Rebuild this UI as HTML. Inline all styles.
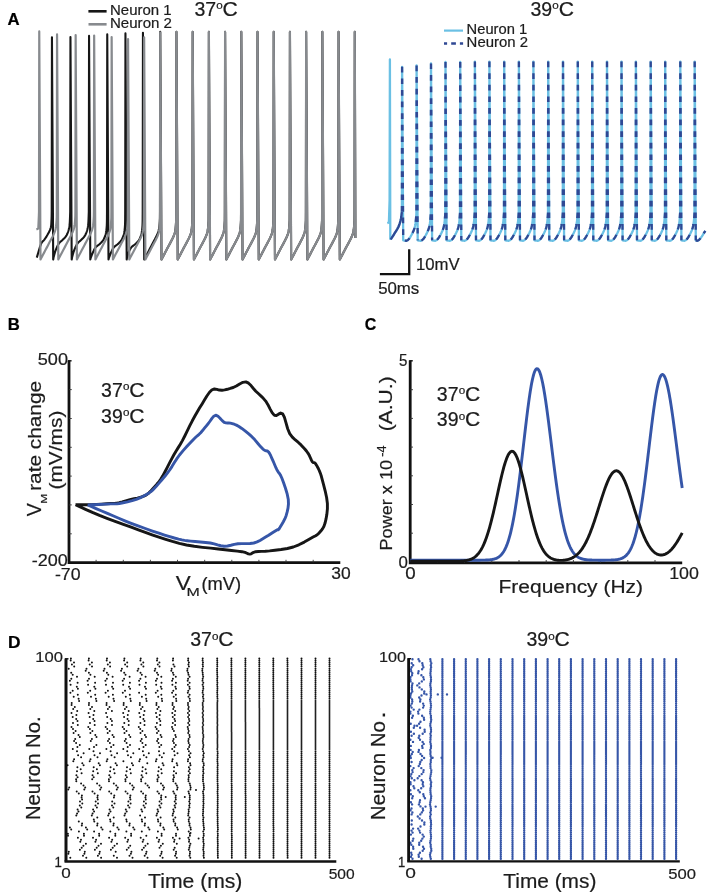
<!DOCTYPE html><html><head><meta charset="utf-8"><style>html,body{margin:0;padding:0;background:#fff;}svg{display:block;will-change:transform;}text{font-family:"Liberation Sans",sans-serif;}</style></head><body><svg width="708" height="894" viewBox="0 0 708 894" font-family="Liberation Sans, sans-serif"><rect width="708" height="894" fill="#fff"/><text transform="translate(7.55,24.50) scale(1.0464,1)" font-size="16" font-weight="bold" fill="#000" stroke="#000" stroke-width="0.210">A</text><text transform="translate(7.73,329.80) scale(1.0451,1)" font-size="16" font-weight="bold" fill="#000" stroke="#000" stroke-width="0.211">B</text><text transform="translate(364.76,329.60) scale(1.0000,1)" font-size="16" font-weight="bold" fill="#000" stroke="#000" stroke-width="0.220">C</text><text transform="translate(7.88,647.80) scale(1.0861,1)" font-size="16" font-weight="bold" fill="#000" stroke="#000" stroke-width="0.203">D</text><text transform="translate(194.42,15.70) scale(1.0005,1)" font-size="19.5" font-weight="normal" fill="#1c1c1c" stroke="#1c1c1c" stroke-width="0.220">37</text><text transform="translate(216.23,9.00) scale(1.1145,1)" font-size="10.5" font-weight="normal" fill="#1c1c1c" stroke="#1c1c1c" stroke-width="0.197">o</text><text transform="translate(222.54,15.70) scale(1.0826,1)" font-size="19.5" font-weight="normal" fill="#1c1c1c" stroke="#1c1c1c" stroke-width="0.203">C</text><line x1="88.4" y1="11.3" x2="106.6" y2="11.3" stroke="#161616" stroke-width="2.6"/><line x1="88.5" y1="24.3" x2="106.6" y2="24.3" stroke="#878a8e" stroke-width="2.6"/><text transform="translate(110.00,14.90) scale(1.0696,1)" font-size="14" font-weight="normal" fill="#1c1c1c" stroke="#1c1c1c" stroke-width="0.206">Neuron 1</text><text transform="translate(109.99,28.30) scale(1.0768,1)" font-size="14" font-weight="normal" fill="#1c1c1c" stroke="#1c1c1c" stroke-width="0.204">Neuron 2</text><path d="M36.80 257.60 L37.38 255.60 L38.22 252.70 L39.18 249.43 L40.14 246.35 L41.00 244.00 L41.72 242.56 L42.40 241.65 L43.05 241.03 L43.71 240.44 L44.40 239.60 L45.15 238.50 L45.95 237.31 L46.75 236.07 L47.51 234.82 L48.20 233.60 L48.83 232.44 L49.42 231.32 L49.95 230.18 L50.42 228.99 L50.80 227.70 L51.07 226.28 L51.24 224.76 L51.35 223.19 L51.42 221.59 L51.50 220.00 L51.58 218.29 L51.63 216.44 L51.66 214.64 L51.68 213.09 L51.70 212.00 L51.95 37.30 L53.20 259.50 L53.48 257.82 L53.86 256.28 L54.33 254.50 L54.85 252.67 L55.40 251.00 L56.00 249.42 L56.67 247.81 L57.38 246.24 L58.10 244.81 L58.80 243.60 L59.47 242.69 L60.14 242.02 L60.81 241.48 L61.49 240.95 L62.20 240.30 L62.96 239.56 L63.75 238.79 L64.55 237.99 L65.32 237.14 L66.00 236.20 L66.60 235.18 L67.16 234.10 L67.66 232.95 L68.10 231.75 L68.50 230.50 L68.83 229.26 L69.11 228.01 L69.33 226.69 L69.53 225.21 L69.70 223.50 L69.85 221.30 L69.97 218.67 L70.07 215.99 L70.14 213.64 L70.20 212.00 L70.45 37.00 L71.70 259.50 L71.98 257.82 L72.36 256.28 L72.82 254.50 L73.34 252.67 L73.90 251.00 L74.52 249.42 L75.21 247.81 L75.94 246.24 L76.69 244.81 L77.40 243.60 L78.08 242.69 L78.75 242.02 L79.42 241.48 L80.10 240.95 L80.80 240.30 L81.56 239.56 L82.35 238.79 L83.15 237.99 L83.92 237.14 L84.60 236.20 L85.20 235.18 L85.76 234.10 L86.26 232.95 L86.70 231.75 L87.10 230.50 L87.43 229.26 L87.71 228.01 L87.93 226.69 L88.13 225.21 L88.30 223.50 L88.45 221.30 L88.57 218.67 L88.67 215.99 L88.74 213.64 L88.80 212.00 L89.05 35.90 L90.30 259.50 L90.68 257.93 L91.22 256.54 L91.85 254.95 L92.50 253.36 L93.10 252.00 L93.64 250.87 L94.15 249.83 L94.67 248.86 L95.24 247.96 L95.90 247.10 L96.68 246.32 L97.55 245.64 L98.47 244.99 L99.37 244.33 L100.20 243.60 L100.97 242.81 L101.72 242.00 L102.44 241.15 L103.10 240.26 L103.70 239.30 L104.23 238.31 L104.69 237.29 L105.11 236.21 L105.47 235.03 L105.80 233.70 L106.08 232.26 L106.32 230.73 L106.51 229.08 L106.67 227.25 L106.80 225.20 L106.89 222.65 L106.95 219.62 L106.97 216.56 L106.99 213.87 L107.00 212.00 L107.25 34.40 L108.50 259.50 L108.88 257.93 L109.42 256.54 L110.05 254.95 L110.70 253.36 L111.30 252.00 L111.84 250.87 L112.35 249.83 L112.87 248.86 L113.44 247.96 L114.10 247.10 L114.88 246.32 L115.75 245.64 L116.67 244.99 L117.57 244.33 L118.40 243.60 L119.17 242.81 L119.92 242.00 L120.64 241.15 L121.30 240.26 L121.90 239.30 L122.43 238.31 L122.89 237.29 L123.31 236.21 L123.67 235.03 L124.00 233.70 L124.28 232.26 L124.52 230.73 L124.71 229.08 L124.87 227.25 L125.00 225.20 L125.09 222.65 L125.15 219.62 L125.17 216.56 L125.19 213.87 L125.20 212.00 L125.45 33.40 L126.70 259.50 L126.97 257.93 L127.36 256.54 L127.81 254.95 L128.30 253.36 L128.80 252.00 L129.29 250.87 L129.80 249.83 L130.34 248.86 L130.93 247.96 L131.60 247.10 L132.38 246.32 L133.25 245.64 L134.17 244.99 L135.07 244.33 L135.90 243.60 L136.67 242.81 L137.42 242.00 L138.14 241.15 L138.80 240.26 L139.40 239.30 L139.93 238.31 L140.39 237.29 L140.81 236.21 L141.17 235.03 L141.50 233.70 L141.78 232.26 L142.02 230.73 L142.21 229.08 L142.37 227.25 L142.50 225.20 L142.59 222.65 L142.65 219.62 L142.67 216.56 L142.69 213.87 L142.70 212.00 L142.95 32.70 L144.20 259.50 L144.78 258.40 L145.60 256.84 L146.56 255.02 L147.55 253.14 L148.47 251.39 L149.33 249.75 L150.21 248.09 L151.08 246.44 L151.93 244.82 L152.74 243.27 L153.53 241.79 L154.32 240.34 L155.07 238.95 L155.77 237.61 L156.40 236.32 L156.95 235.11 L157.45 233.99 L157.88 232.90 L158.27 231.82 L158.60 230.72 L158.87 229.62 L159.07 228.54 L159.23 227.45 L159.37 226.29 L159.50 225.02 L159.63 223.48 L159.75 221.71 L159.86 219.94 L159.94 218.40 L160.00 212.00 L160.25 31.90 L161.50 259.50 L162.03 258.50 L162.78 257.08 L163.65 255.42 L164.55 253.71 L165.39 252.11 L166.18 250.62 L166.97 249.11 L167.76 247.60 L168.53 246.13 L169.28 244.72 L170.00 243.38 L170.70 242.08 L171.39 240.82 L172.02 239.59 L172.61 238.39 L173.14 237.23 L173.63 236.10 L174.08 235.00 L174.47 233.91 L174.81 232.79 L175.08 231.69 L175.28 230.61 L175.44 229.52 L175.58 228.36 L175.71 227.09 L175.84 225.56 L175.96 223.79 L176.07 222.01 L176.15 220.47 L176.21 212.00 L176.46 31.90 L177.71 259.50 L178.24 258.50 L178.99 257.08 L179.86 255.42 L180.76 253.71 L181.60 252.11 L182.39 250.62 L183.18 249.11 L183.97 247.60 L184.74 246.13 L185.49 244.72 L186.21 243.38 L186.91 242.08 L187.60 240.82 L188.23 239.59 L188.82 238.39 L189.35 237.23 L189.84 236.10 L190.29 235.00 L190.68 233.91 L191.02 232.79 L191.29 231.69 L191.49 230.61 L191.65 229.52 L191.79 228.36 L191.92 227.09 L192.05 225.56 L192.17 223.79 L192.28 222.01 L192.36 220.47 L192.42 212.00 L192.67 31.90 L193.92 259.50 L194.45 258.50 L195.20 257.08 L196.07 255.42 L196.97 253.71 L197.81 252.11 L198.60 250.62 L199.39 249.11 L200.18 247.60 L200.95 246.13 L201.70 244.72 L202.42 243.38 L203.12 242.08 L203.81 240.82 L204.44 239.59 L205.03 238.39 L205.56 237.23 L206.05 236.10 L206.50 235.00 L206.89 233.91 L207.23 232.79 L207.50 231.69 L207.70 230.61 L207.86 229.52 L208.00 228.36 L208.13 227.09 L208.26 225.56 L208.38 223.79 L208.49 222.01 L208.57 220.47 L208.63 212.00 L208.88 31.90 L210.13 259.50 L210.66 258.50 L211.41 257.08 L212.28 255.42 L213.18 253.71 L214.02 252.11 L214.81 250.62 L215.60 249.11 L216.39 247.60 L217.16 246.13 L217.91 244.72 L218.63 243.38 L219.33 242.08 L220.02 240.82 L220.65 239.59 L221.24 238.39 L221.77 237.23 L222.26 236.10 L222.71 235.00 L223.10 233.91 L223.44 232.79 L223.71 231.69 L223.91 230.61 L224.07 229.52 L224.21 228.36 L224.34 227.09 L224.47 225.56 L224.59 223.79 L224.70 222.01 L224.78 220.47 L224.84 212.00 L225.09 31.90 L226.34 259.50 L226.87 258.50 L227.62 257.08 L228.49 255.42 L229.39 253.71 L230.23 252.11 L231.02 250.62 L231.81 249.11 L232.60 247.60 L233.37 246.13 L234.12 244.72 L234.84 243.38 L235.54 242.08 L236.23 240.82 L236.86 239.59 L237.45 238.39 L237.98 237.23 L238.47 236.10 L238.92 235.00 L239.31 233.91 L239.65 232.79 L239.92 231.69 L240.12 230.61 L240.28 229.52 L240.42 228.36 L240.55 227.09 L240.68 225.56 L240.80 223.79 L240.91 222.01 L240.99 220.47 L241.05 212.00 L241.30 31.90 L242.55 259.50 L243.08 258.50 L243.83 257.08 L244.70 255.42 L245.60 253.71 L246.44 252.11 L247.23 250.62 L248.02 249.11 L248.81 247.60 L249.58 246.13 L250.33 244.72 L251.05 243.38 L251.75 242.08 L252.44 240.82 L253.07 239.59 L253.66 238.39 L254.19 237.23 L254.68 236.10 L255.13 235.00 L255.52 233.91 L255.86 232.79 L256.13 231.69 L256.33 230.61 L256.49 229.52 L256.63 228.36 L256.76 227.09 L256.89 225.56 L257.01 223.79 L257.12 222.01 L257.20 220.47 L257.26 212.00 L257.51 31.90 L258.76 259.50 L259.29 258.50 L260.04 257.08 L260.91 255.42 L261.81 253.71 L262.65 252.11 L263.44 250.62 L264.23 249.11 L265.02 247.60 L265.79 246.13 L266.54 244.72 L267.26 243.38 L267.96 242.08 L268.65 240.82 L269.28 239.59 L269.87 238.39 L270.40 237.23 L270.89 236.10 L271.34 235.00 L271.73 233.91 L272.07 232.79 L272.34 231.69 L272.54 230.61 L272.70 229.52 L272.84 228.36 L272.97 227.09 L273.10 225.56 L273.22 223.79 L273.33 222.01 L273.41 220.47 L273.47 212.00 L273.72 31.90 L274.97 259.50 L275.50 258.50 L276.25 257.08 L277.12 255.42 L278.02 253.71 L278.86 252.11 L279.65 250.62 L280.44 249.11 L281.23 247.60 L282.00 246.13 L282.75 244.72 L283.47 243.38 L284.17 242.08 L284.86 240.82 L285.49 239.59 L286.08 238.39 L286.61 237.23 L287.10 236.10 L287.55 235.00 L287.94 233.91 L288.28 232.79 L288.55 231.69 L288.75 230.61 L288.91 229.52 L289.05 228.36 L289.18 227.09 L289.31 225.56 L289.43 223.79 L289.54 222.01 L289.62 220.47 L289.68 212.00 L289.93 31.90 L291.18 259.50 L291.71 258.50 L292.46 257.08 L293.33 255.42 L294.23 253.71 L295.07 252.11 L295.86 250.62 L296.65 249.11 L297.44 247.60 L298.21 246.13 L298.96 244.72 L299.68 243.38 L300.38 242.08 L301.07 240.82 L301.70 239.59 L302.29 238.39 L302.82 237.23 L303.31 236.10 L303.76 235.00 L304.15 233.91 L304.49 232.79 L304.76 231.69 L304.96 230.61 L305.12 229.52 L305.26 228.36 L305.39 227.09 L305.52 225.56 L305.64 223.79 L305.75 222.01 L305.83 220.47 L305.89 212.00 L306.14 31.90 L307.39 259.50 L307.92 258.50 L308.67 257.08 L309.54 255.42 L310.44 253.71 L311.28 252.11 L312.07 250.62 L312.86 249.11 L313.65 247.60 L314.42 246.13 L315.17 244.72 L315.89 243.38 L316.59 242.08 L317.28 240.82 L317.91 239.59 L318.50 238.39 L319.03 237.23 L319.52 236.10 L319.97 235.00 L320.36 233.91 L320.70 232.79 L320.97 231.69 L321.17 230.61 L321.33 229.52 L321.47 228.36 L321.60 227.09 L321.73 225.56 L321.85 223.79 L321.96 222.01 L322.04 220.47 L322.10 212.00 L322.35 31.90 L323.60 259.50 L324.13 258.50 L324.88 257.08 L325.75 255.42 L326.65 253.71 L327.49 252.11 L328.28 250.62 L329.07 249.11 L329.86 247.60 L330.63 246.13 L331.38 244.72 L332.10 243.38 L332.80 242.08 L333.49 240.82 L334.12 239.59 L334.71 238.39 L335.24 237.23 L335.73 236.10 L336.18 235.00 L336.57 233.91 L336.91 232.79 L337.18 231.69 L337.38 230.61 L337.54 229.52 L337.68 228.36 L337.81 227.09 L337.94 225.56 L338.06 223.79 L338.17 222.01 L338.25 220.47 L338.31 212.00 L338.56 31.90 L339.81 259.50 L340.34 258.50 L341.09 257.08 L341.96 255.42 L342.86 253.71 L343.70 252.11 L344.49 250.62 L345.28 249.11 L346.07 247.60 L346.84 246.13 L347.59 244.72 L348.31 243.38 L349.01 242.08 L349.70 240.82 L350.33 239.59 L350.92 238.39 L351.45 237.23 L351.94 236.10 L352.39 235.00 L352.78 233.91 L353.12 232.79 L353.39 231.69 L353.59 230.61 L353.75 229.52 L353.89 228.36 L354.02 227.09 L354.15 225.56 L354.27 223.79 L354.38 222.01 L354.46 220.47 L354.52 212.00 L354.77 31.90 L355.42 238.00" fill="none" stroke="#161616" stroke-width="2.1" stroke-linejoin="round"/><path d="M36.40 229.40 L38.30 228.60 L38.90 215.00 L39.00 212.00 L39.25 31.40 L40.50 259.50 L41.10 258.35 L41.96 256.73 L42.95 254.84 L43.98 252.88 L44.94 251.05 L45.84 249.35 L46.75 247.62 L47.66 245.90 L48.54 244.22 L49.39 242.61 L50.22 241.06 L51.04 239.55 L51.82 238.09 L52.55 236.69 L53.20 235.37 L53.76 234.15 L54.26 233.02 L54.69 231.94 L55.07 230.87 L55.40 229.77 L55.67 228.67 L55.87 227.59 L56.03 226.50 L56.17 225.34 L56.30 224.07 L56.43 222.53 L56.55 220.76 L56.66 218.99 L56.74 217.45 L56.80 212.00 L57.05 34.40 L58.30 259.50 L58.94 258.28 L59.85 256.56 L60.91 254.54 L62.00 252.46 L63.02 250.52 L63.98 248.71 L64.95 246.87 L65.91 245.04 L66.85 243.26 L67.75 241.54 L68.63 239.89 L69.51 238.27 L70.35 236.72 L71.12 235.23 L71.80 233.85 L72.38 232.60 L72.88 231.46 L73.30 230.40 L73.67 229.34 L74.00 228.25 L74.27 227.15 L74.47 226.07 L74.63 224.98 L74.77 223.82 L74.90 222.55 L75.03 221.01 L75.15 219.24 L75.26 217.47 L75.34 215.93 L75.40 212.00 L75.65 35.10 L76.90 259.50 L77.54 258.29 L78.44 256.58 L79.49 254.58 L80.58 252.51 L81.59 250.59 L82.54 248.79 L83.50 246.96 L84.45 245.15 L85.38 243.38 L86.28 241.68 L87.16 240.04 L88.02 238.43 L88.86 236.89 L89.62 235.42 L90.30 234.04 L90.88 232.79 L91.37 231.66 L91.80 230.59 L92.17 229.53 L92.50 228.44 L92.77 227.34 L92.97 226.26 L93.13 225.17 L93.27 224.01 L93.40 222.74 L93.53 221.20 L93.65 219.43 L93.76 217.66 L93.84 216.12 L93.90 212.00 L94.15 35.60 L95.40 259.50 L95.99 258.38 L96.82 256.80 L97.80 254.95 L98.80 253.04 L99.74 251.25 L100.62 249.59 L101.51 247.90 L102.39 246.22 L103.25 244.58 L104.08 243.01 L104.89 241.50 L105.69 240.03 L106.45 238.60 L107.16 237.24 L107.80 235.94 L108.36 234.73 L108.85 233.60 L109.29 232.52 L109.67 231.44 L110.00 230.34 L110.27 229.24 L110.47 228.16 L110.63 227.07 L110.77 225.91 L110.90 224.64 L111.03 223.10 L111.15 221.33 L111.26 219.56 L111.34 218.02 L111.40 212.00 L111.65 37.00 L112.90 259.50 L113.44 258.48 L114.20 257.04 L115.08 255.35 L116.00 253.61 L116.86 251.99 L117.66 250.47 L118.46 248.93 L119.27 247.40 L120.06 245.91 L120.81 244.47 L121.54 243.10 L122.26 241.78 L122.96 240.49 L123.61 239.25 L124.20 238.03 L124.74 236.86 L125.23 235.73 L125.67 234.64 L126.06 233.54 L126.40 232.43 L126.67 231.33 L126.87 230.25 L127.03 229.16 L127.17 228.00 L127.30 226.73 L127.43 225.19 L127.55 223.42 L127.66 221.65 L127.74 220.11 L127.80 212.00 L128.05 39.00 L129.30 259.50 L129.82 258.51 L130.56 257.10 L131.43 255.46 L132.32 253.77 L133.15 252.18 L133.93 250.71 L134.72 249.21 L135.50 247.72 L136.27 246.27 L137.00 244.87 L137.71 243.54 L138.41 242.25 L139.09 241.01 L139.72 239.79 L140.30 238.60 L140.83 237.44 L141.32 236.32 L141.77 235.22 L142.16 234.12 L142.50 233.00 L142.77 231.90 L142.97 230.82 L143.13 229.73 L143.27 228.57 L143.40 227.30 L143.53 225.76 L143.65 223.99 L143.76 222.22 L143.84 220.68 L143.90 212.00 L144.15 37.30 L145.40 259.50 L145.92 258.51 L146.66 257.10 L147.53 255.46 L148.42 253.77 L149.25 252.18 L150.03 250.71 L150.82 249.21 L151.60 247.72 L152.37 246.27 L153.10 244.87 L153.81 243.54 L154.51 242.25 L155.19 241.01 L155.82 239.79 L156.40 238.60 L156.93 237.44 L157.42 236.32 L157.87 235.22 L158.26 234.12 L158.60 233.00 L158.87 231.90 L159.07 230.82 L159.23 229.73 L159.37 228.57 L159.50 227.30 L159.63 225.76 L159.75 223.99 L159.86 222.22 L159.94 220.68 L160.00 212.00 L160.25 32.50 L161.50 259.50 L162.03 258.50 L162.78 257.08 L163.65 255.42 L164.55 253.71 L165.39 252.11 L166.18 250.62 L166.97 249.11 L167.76 247.60 L168.53 246.13 L169.28 244.72 L170.00 243.38 L170.70 242.08 L171.39 240.82 L172.02 239.59 L172.61 238.39 L173.14 237.23 L173.63 236.10 L174.08 235.00 L174.47 233.91 L174.81 232.79 L175.08 231.69 L175.28 230.61 L175.44 229.52 L175.58 228.36 L175.71 227.09 L175.84 225.56 L175.96 223.79 L176.07 222.01 L176.15 220.47 L176.21 212.00 L176.46 31.90 L177.71 259.50 L178.24 258.50 L178.99 257.08 L179.86 255.42 L180.76 253.71 L181.60 252.11 L182.39 250.62 L183.18 249.11 L183.97 247.60 L184.74 246.13 L185.49 244.72 L186.21 243.38 L186.91 242.08 L187.60 240.82 L188.23 239.59 L188.82 238.39 L189.35 237.23 L189.84 236.10 L190.29 235.00 L190.68 233.91 L191.02 232.79 L191.29 231.69 L191.49 230.61 L191.65 229.52 L191.79 228.36 L191.92 227.09 L192.05 225.56 L192.17 223.79 L192.28 222.01 L192.36 220.47 L192.42 212.00 L192.67 31.90 L193.92 259.50 L194.45 258.50 L195.20 257.08 L196.07 255.42 L196.97 253.71 L197.81 252.11 L198.60 250.62 L199.39 249.11 L200.18 247.60 L200.95 246.13 L201.70 244.72 L202.42 243.38 L203.12 242.08 L203.81 240.82 L204.44 239.59 L205.03 238.39 L205.56 237.23 L206.05 236.10 L206.50 235.00 L206.89 233.91 L207.23 232.79 L207.50 231.69 L207.70 230.61 L207.86 229.52 L208.00 228.36 L208.13 227.09 L208.26 225.56 L208.38 223.79 L208.49 222.01 L208.57 220.47 L208.63 212.00 L208.88 31.90 L210.13 259.50 L210.66 258.50 L211.41 257.08 L212.28 255.42 L213.18 253.71 L214.02 252.11 L214.81 250.62 L215.60 249.11 L216.39 247.60 L217.16 246.13 L217.91 244.72 L218.63 243.38 L219.33 242.08 L220.02 240.82 L220.65 239.59 L221.24 238.39 L221.77 237.23 L222.26 236.10 L222.71 235.00 L223.10 233.91 L223.44 232.79 L223.71 231.69 L223.91 230.61 L224.07 229.52 L224.21 228.36 L224.34 227.09 L224.47 225.56 L224.59 223.79 L224.70 222.01 L224.78 220.47 L224.84 212.00 L225.09 31.90 L226.34 259.50 L226.87 258.50 L227.62 257.08 L228.49 255.42 L229.39 253.71 L230.23 252.11 L231.02 250.62 L231.81 249.11 L232.60 247.60 L233.37 246.13 L234.12 244.72 L234.84 243.38 L235.54 242.08 L236.23 240.82 L236.86 239.59 L237.45 238.39 L237.98 237.23 L238.47 236.10 L238.92 235.00 L239.31 233.91 L239.65 232.79 L239.92 231.69 L240.12 230.61 L240.28 229.52 L240.42 228.36 L240.55 227.09 L240.68 225.56 L240.80 223.79 L240.91 222.01 L240.99 220.47 L241.05 212.00 L241.30 31.90 L242.55 259.50 L243.08 258.50 L243.83 257.08 L244.70 255.42 L245.60 253.71 L246.44 252.11 L247.23 250.62 L248.02 249.11 L248.81 247.60 L249.58 246.13 L250.33 244.72 L251.05 243.38 L251.75 242.08 L252.44 240.82 L253.07 239.59 L253.66 238.39 L254.19 237.23 L254.68 236.10 L255.13 235.00 L255.52 233.91 L255.86 232.79 L256.13 231.69 L256.33 230.61 L256.49 229.52 L256.63 228.36 L256.76 227.09 L256.89 225.56 L257.01 223.79 L257.12 222.01 L257.20 220.47 L257.26 212.00 L257.51 31.90 L258.76 259.50 L259.29 258.50 L260.04 257.08 L260.91 255.42 L261.81 253.71 L262.65 252.11 L263.44 250.62 L264.23 249.11 L265.02 247.60 L265.79 246.13 L266.54 244.72 L267.26 243.38 L267.96 242.08 L268.65 240.82 L269.28 239.59 L269.87 238.39 L270.40 237.23 L270.89 236.10 L271.34 235.00 L271.73 233.91 L272.07 232.79 L272.34 231.69 L272.54 230.61 L272.70 229.52 L272.84 228.36 L272.97 227.09 L273.10 225.56 L273.22 223.79 L273.33 222.01 L273.41 220.47 L273.47 212.00 L273.72 31.90 L274.97 259.50 L275.50 258.50 L276.25 257.08 L277.12 255.42 L278.02 253.71 L278.86 252.11 L279.65 250.62 L280.44 249.11 L281.23 247.60 L282.00 246.13 L282.75 244.72 L283.47 243.38 L284.17 242.08 L284.86 240.82 L285.49 239.59 L286.08 238.39 L286.61 237.23 L287.10 236.10 L287.55 235.00 L287.94 233.91 L288.28 232.79 L288.55 231.69 L288.75 230.61 L288.91 229.52 L289.05 228.36 L289.18 227.09 L289.31 225.56 L289.43 223.79 L289.54 222.01 L289.62 220.47 L289.68 212.00 L289.93 31.90 L291.18 259.50 L291.71 258.50 L292.46 257.08 L293.33 255.42 L294.23 253.71 L295.07 252.11 L295.86 250.62 L296.65 249.11 L297.44 247.60 L298.21 246.13 L298.96 244.72 L299.68 243.38 L300.38 242.08 L301.07 240.82 L301.70 239.59 L302.29 238.39 L302.82 237.23 L303.31 236.10 L303.76 235.00 L304.15 233.91 L304.49 232.79 L304.76 231.69 L304.96 230.61 L305.12 229.52 L305.26 228.36 L305.39 227.09 L305.52 225.56 L305.64 223.79 L305.75 222.01 L305.83 220.47 L305.89 212.00 L306.14 31.90 L307.39 259.50 L307.92 258.50 L308.67 257.08 L309.54 255.42 L310.44 253.71 L311.28 252.11 L312.07 250.62 L312.86 249.11 L313.65 247.60 L314.42 246.13 L315.17 244.72 L315.89 243.38 L316.59 242.08 L317.28 240.82 L317.91 239.59 L318.50 238.39 L319.03 237.23 L319.52 236.10 L319.97 235.00 L320.36 233.91 L320.70 232.79 L320.97 231.69 L321.17 230.61 L321.33 229.52 L321.47 228.36 L321.60 227.09 L321.73 225.56 L321.85 223.79 L321.96 222.01 L322.04 220.47 L322.10 212.00 L322.35 31.90 L323.60 259.50 L324.13 258.50 L324.88 257.08 L325.75 255.42 L326.65 253.71 L327.49 252.11 L328.28 250.62 L329.07 249.11 L329.86 247.60 L330.63 246.13 L331.38 244.72 L332.10 243.38 L332.80 242.08 L333.49 240.82 L334.12 239.59 L334.71 238.39 L335.24 237.23 L335.73 236.10 L336.18 235.00 L336.57 233.91 L336.91 232.79 L337.18 231.69 L337.38 230.61 L337.54 229.52 L337.68 228.36 L337.81 227.09 L337.94 225.56 L338.06 223.79 L338.17 222.01 L338.25 220.47 L338.31 212.00 L338.56 31.90 L339.81 259.50 L340.34 258.50 L341.09 257.08 L341.96 255.42 L342.86 253.71 L343.70 252.11 L344.49 250.62 L345.28 249.11 L346.07 247.60 L346.84 246.13 L347.59 244.72 L348.31 243.38 L349.01 242.08 L349.70 240.82 L350.33 239.59 L350.92 238.39 L351.45 237.23 L351.94 236.10 L352.39 235.00 L352.78 233.91 L353.12 232.79 L353.39 231.69 L353.59 230.61 L353.75 229.52 L353.89 228.36 L354.02 227.09 L354.15 225.56 L354.27 223.79 L354.38 222.01 L354.46 220.47 L354.52 212.00 L354.77 31.90 L355.42 238.00" fill="none" stroke="#878a8e" stroke-width="2.2" stroke-linejoin="round"/><text transform="translate(530.52,15.60) scale(1.0005,1)" font-size="19.5" font-weight="normal" fill="#1c1c1c" stroke="#1c1c1c" stroke-width="0.220">39</text><text transform="translate(552.33,8.90) scale(1.1145,1)" font-size="10.5" font-weight="normal" fill="#1c1c1c" stroke="#1c1c1c" stroke-width="0.197">o</text><text transform="translate(558.64,15.60) scale(1.0826,1)" font-size="19.5" font-weight="normal" fill="#1c1c1c" stroke="#1c1c1c" stroke-width="0.203">C</text><line x1="444.0" y1="30.6" x2="463.0" y2="30.6" stroke="#6bc0e4" stroke-width="2.2"/><path d="M444.0 43.5H447.1M451.2 43.5H455.9M459.9 43.5H463.1" stroke="#2f4894" stroke-width="2.4"/><text transform="translate(466.62,33.50) scale(1.0517,1)" font-size="14" font-weight="normal" fill="#1c1c1c" stroke="#1c1c1c" stroke-width="0.209">Neuron 1</text><text transform="translate(466.61,47.20) scale(1.0660,1)" font-size="14" font-weight="normal" fill="#1c1c1c" stroke="#1c1c1c" stroke-width="0.206">Neuron 2</text><path d="M387.30 223.10 L388.90 222.50 L389.60 200.00 L389.90 59.50 L390.30 238.90 L391.25 238.65 L392.02 237.45 L392.92 236.05 L393.84 234.59 L394.70 233.20 L395.51 231.90 L396.34 230.58 L397.16 229.25 L397.92 227.89 L398.60 226.50 L399.19 225.04 L399.71 223.50 L400.16 221.96 L400.56 220.48 L400.90 219.10 L401.17 217.80 L401.36 216.53 L401.50 215.36 L401.60 214.33 L401.70 213.50 L401.78 212.91 L401.83 212.53 L401.86 212.30 L401.88 212.14 L401.90 212.00 L402.10 66.80 L403.20 240.30 L403.70 240.39 L404.40 240.56 L405.22 240.70 L406.05 240.75 L406.80 240.60 L407.45 240.26 L408.06 239.80 L408.66 239.20 L409.27 238.46 L409.90 237.60 L410.59 236.54 L411.32 235.27 L412.05 233.91 L412.72 232.55 L413.30 231.30 L413.76 230.19 L414.14 229.14 L414.46 228.12 L414.74 227.09 L415.00 226.00 L415.24 224.86 L415.44 223.70 L415.61 222.51 L415.76 221.28 L415.90 220.00 L416.03 218.55 L416.15 216.94 L416.26 215.34 L416.34 213.97 L416.40 213.00 L416.60 65.50 L417.70 240.30 L418.18 240.39 L418.87 240.56 L419.66 240.70 L420.47 240.75 L421.20 240.60 L421.84 240.26 L422.45 239.80 L423.06 239.20 L423.67 238.46 L424.30 237.60 L424.99 236.54 L425.72 235.27 L426.45 233.91 L427.12 232.55 L427.70 231.30 L428.16 230.19 L428.54 229.14 L428.86 228.12 L429.14 227.09 L429.40 226.00 L429.64 224.86 L429.84 223.70 L430.01 222.51 L430.16 221.28 L430.30 220.00 L430.43 218.55 L430.55 216.94 L430.66 215.34 L430.74 213.97 L430.80 213.00 L431.00 63.40 L432.10 240.30 L432.60 240.39 L433.30 240.56 L434.12 240.70 L434.95 240.75 L435.70 240.60 L436.35 240.26 L436.96 239.80 L437.56 239.20 L438.17 238.46 L438.80 237.60 L439.49 236.54 L440.22 235.27 L440.95 233.91 L441.62 232.55 L442.20 231.30 L442.66 230.19 L443.04 229.14 L443.36 228.12 L443.64 227.09 L443.90 226.00 L444.14 224.86 L444.34 223.70 L444.51 222.51 L444.66 221.28 L444.80 220.00 L444.93 218.55 L445.05 216.94 L445.16 215.34 L445.24 213.97 L445.30 213.00 L445.50 62.00 L446.60 240.30 L447.13 240.39 L447.88 240.56 L448.75 240.70 L449.62 240.75 L450.40 240.60 L451.06 240.26 L451.68 239.80 L452.27 239.20 L452.87 238.46 L453.50 237.60 L454.19 236.54 L454.92 235.27 L455.65 233.91 L456.32 232.55 L456.90 231.30 L457.36 230.19 L457.74 229.14 L458.06 228.12 L458.34 227.09 L458.60 226.00 L458.84 224.86 L459.04 223.70 L459.21 222.51 L459.36 221.28 L459.50 220.00 L459.63 218.55 L459.75 216.94 L459.86 215.34 L459.94 213.97 L460.00 213.00 L460.20 62.00 L461.30 240.30 L461.83 240.39 L462.58 240.56 L463.45 240.70 L464.32 240.75 L465.10 240.60 L465.76 240.26 L466.38 239.80 L466.97 239.20 L467.57 238.46 L468.20 237.60 L468.89 236.54 L469.62 235.27 L470.35 233.91 L471.02 232.55 L471.60 231.30 L472.06 230.19 L472.44 229.14 L472.76 228.12 L473.04 227.09 L473.30 226.00 L473.54 224.86 L473.74 223.70 L473.91 222.51 L474.06 221.28 L474.20 220.00 L474.33 218.55 L474.45 216.94 L474.56 215.34 L474.64 213.97 L474.70 213.00 L474.90 61.60 L476.00 240.30 L476.50 240.39 L477.20 240.56 L478.02 240.70 L478.85 240.75 L479.60 240.60 L480.25 240.26 L480.86 239.80 L481.46 239.20 L482.07 238.46 L482.70 237.60 L483.39 236.54 L484.12 235.27 L484.85 233.91 L485.52 232.55 L486.10 231.30 L486.56 230.19 L486.94 229.14 L487.26 228.12 L487.54 227.09 L487.80 226.00 L488.04 224.86 L488.24 223.70 L488.41 222.51 L488.56 221.28 L488.70 220.00 L488.83 218.55 L488.95 216.94 L489.06 215.34 L489.14 213.97 L489.20 213.00 L489.40 61.60 L490.50 240.30 L491.04 240.39 L491.82 240.56 L492.71 240.70 L493.61 240.75 L494.40 240.60 L495.07 240.26 L495.68 239.80 L496.28 239.20 L496.87 238.46 L497.50 237.60 L498.19 236.54 L498.92 235.27 L499.65 233.91 L500.32 232.55 L500.90 231.30 L501.36 230.19 L501.74 229.14 L502.06 228.12 L502.34 227.09 L502.60 226.00 L502.84 224.86 L503.04 223.70 L503.21 222.51 L503.36 221.28 L503.50 220.00 L503.63 218.55 L503.75 216.94 L503.86 215.34 L503.94 213.97 L504.00 213.00 L504.20 61.60 L505.30 240.30 L505.83 240.39 L506.58 240.56 L507.45 240.70 L508.32 240.75 L509.10 240.60 L509.76 240.26 L510.38 239.80 L510.97 239.20 L511.57 238.46 L512.20 237.60 L512.89 236.54 L513.62 235.27 L514.35 233.91 L515.02 232.55 L515.60 231.30 L516.06 230.19 L516.44 229.14 L516.76 228.12 L517.04 227.09 L517.30 226.00 L517.54 224.86 L517.74 223.70 L517.91 222.51 L518.06 221.28 L518.20 220.00 L518.33 218.55 L518.45 216.94 L518.56 215.34 L518.64 213.97 L518.70 213.00 L518.90 61.60 L520.00 240.30 L520.50 240.39 L521.20 240.56 L522.02 240.70 L522.85 240.75 L523.60 240.60 L524.25 240.26 L524.86 239.80 L525.46 239.20 L526.07 238.46 L526.70 237.60 L527.39 236.54 L528.12 235.27 L528.85 233.91 L529.52 232.55 L530.10 231.30 L530.56 230.19 L530.94 229.14 L531.26 228.12 L531.54 227.09 L531.80 226.00 L532.04 224.86 L532.24 223.70 L532.41 222.51 L532.56 221.28 L532.70 220.00 L532.83 218.55 L532.95 216.94 L533.06 215.34 L533.14 213.97 L533.20 213.00 L533.40 61.60 L534.50 240.30 L535.04 240.39 L535.82 240.56 L536.71 240.70 L537.61 240.75 L538.40 240.60 L539.07 240.26 L539.68 239.80 L540.28 239.20 L540.87 238.46 L541.50 237.60 L542.19 236.54 L542.92 235.27 L543.65 233.91 L544.32 232.55 L544.90 231.30 L545.36 230.19 L545.74 229.14 L546.06 228.12 L546.34 227.09 L546.60 226.00 L546.84 224.86 L547.04 223.70 L547.21 222.51 L547.36 221.28 L547.50 220.00 L547.63 218.55 L547.75 216.94 L547.86 215.34 L547.94 213.97 L548.00 213.00 L548.20 61.60 L549.30 240.30 L549.84 240.39 L550.62 240.56 L551.51 240.70 L552.41 240.75 L553.20 240.60 L553.87 240.26 L554.48 239.80 L555.08 239.20 L555.67 238.46 L556.30 237.60 L556.99 236.54 L557.72 235.27 L558.45 233.91 L559.12 232.55 L559.70 231.30 L560.16 230.19 L560.54 229.14 L560.86 228.12 L561.14 227.09 L561.40 226.00 L561.64 224.86 L561.84 223.70 L562.01 222.51 L562.16 221.28 L562.30 220.00 L562.43 218.55 L562.55 216.94 L562.66 215.34 L562.74 213.97 L562.80 213.00 L563.00 61.60 L564.10 240.30 L564.64 240.39 L565.42 240.56 L566.31 240.70 L567.21 240.75 L568.00 240.60 L568.67 240.26 L569.28 239.80 L569.88 239.20 L570.47 238.46 L571.10 237.60 L571.79 236.54 L572.52 235.27 L573.25 233.91 L573.92 232.55 L574.50 231.30 L574.96 230.19 L575.34 229.14 L575.66 228.12 L575.94 227.09 L576.20 226.00 L576.44 224.86 L576.64 223.70 L576.81 222.51 L576.96 221.28 L577.10 220.00 L577.23 218.55 L577.35 216.94 L577.46 215.34 L577.54 213.97 L577.60 213.00 L577.80 61.60 L578.90 240.30 L579.38 240.39 L580.07 240.56 L580.86 240.70 L581.67 240.75 L582.40 240.60 L583.04 240.26 L583.65 239.80 L584.26 239.20 L584.87 238.46 L585.50 237.60 L586.19 236.54 L586.92 235.27 L587.65 233.91 L588.32 232.55 L588.90 231.30 L589.36 230.19 L589.74 229.14 L590.06 228.12 L590.34 227.09 L590.60 226.00 L590.84 224.86 L591.04 223.70 L591.21 222.51 L591.36 221.28 L591.50 220.00 L591.63 218.55 L591.75 216.94 L591.86 215.34 L591.94 213.97 L592.00 213.00 L592.20 61.60 L593.30 240.30 L593.84 240.39 L594.62 240.56 L595.51 240.70 L596.41 240.75 L597.20 240.60 L597.87 240.26 L598.48 239.80 L599.08 239.20 L599.67 238.46 L600.30 237.60 L600.99 236.54 L601.72 235.27 L602.45 233.91 L603.12 232.55 L603.70 231.30 L604.16 230.19 L604.54 229.14 L604.86 228.12 L605.14 227.09 L605.40 226.00 L605.64 224.86 L605.84 223.70 L606.01 222.51 L606.16 221.28 L606.30 220.00 L606.43 218.55 L606.55 216.94 L606.66 215.34 L606.74 213.97 L606.80 213.00 L607.00 61.60 L608.10 240.30 L608.60 240.39 L609.30 240.56 L610.12 240.70 L610.95 240.75 L611.70 240.60 L612.35 240.26 L612.96 239.80 L613.56 239.20 L614.17 238.46 L614.80 237.60 L615.49 236.54 L616.22 235.27 L616.95 233.91 L617.62 232.55 L618.20 231.30 L618.66 230.19 L619.04 229.14 L619.36 228.12 L619.64 227.09 L619.90 226.00 L620.14 224.86 L620.34 223.70 L620.51 222.51 L620.66 221.28 L620.80 220.00 L620.93 218.55 L621.05 216.94 L621.16 215.34 L621.24 213.97 L621.30 213.00 L621.50 61.60 L622.60 240.30 L623.08 240.39 L623.77 240.56 L624.56 240.70 L625.37 240.75 L626.10 240.60 L626.74 240.26 L627.35 239.80 L627.96 239.20 L628.57 238.46 L629.20 237.60 L629.89 236.54 L630.62 235.27 L631.35 233.91 L632.02 232.55 L632.60 231.30 L633.06 230.19 L633.44 229.14 L633.76 228.12 L634.04 227.09 L634.30 226.00 L634.54 224.86 L634.74 223.70 L634.91 222.51 L635.06 221.28 L635.20 220.00 L635.33 218.55 L635.45 216.94 L635.56 215.34 L635.64 213.97 L635.70 213.00 L635.90 61.60 L637.00 240.30 L637.54 240.39 L638.32 240.56 L639.21 240.70 L640.11 240.75 L640.90 240.60 L641.57 240.26 L642.18 239.80 L642.78 239.20 L643.37 238.46 L644.00 237.60 L644.69 236.54 L645.42 235.27 L646.15 233.91 L646.82 232.55 L647.40 231.30 L647.86 230.19 L648.24 229.14 L648.56 228.12 L648.84 227.09 L649.10 226.00 L649.34 224.86 L649.54 223.70 L649.71 222.51 L649.86 221.28 L650.00 220.00 L650.13 218.55 L650.25 216.94 L650.36 215.34 L650.44 213.97 L650.50 213.00 L650.70 61.60 L651.80 240.30 L652.30 240.39 L653.00 240.56 L653.82 240.70 L654.65 240.75 L655.40 240.60 L656.05 240.26 L656.66 239.80 L657.26 239.20 L657.87 238.46 L658.50 237.60 L659.19 236.54 L659.92 235.27 L660.65 233.91 L661.32 232.55 L661.90 231.30 L662.36 230.19 L662.74 229.14 L663.06 228.12 L663.34 227.09 L663.60 226.00 L663.84 224.86 L664.04 223.70 L664.21 222.51 L664.36 221.28 L664.50 220.00 L664.63 218.55 L664.75 216.94 L664.86 215.34 L664.94 213.97 L665.00 213.00 L665.20 61.60 L666.30 240.30 L666.89 240.39 L667.73 240.56 L668.70 240.70 L669.66 240.75 L670.50 240.60 L671.19 240.26 L671.80 239.80 L672.39 239.20 L672.98 238.46 L673.60 237.60 L674.29 236.54 L675.02 235.27 L675.75 233.91 L676.42 232.55 L677.00 231.30 L677.46 230.19 L677.84 229.14 L678.16 228.12 L678.44 227.09 L678.70 226.00 L678.94 224.86 L679.14 223.70 L679.31 222.51 L679.46 221.28 L679.60 220.00 L679.73 218.55 L679.85 216.94 L679.96 215.34 L680.04 213.97 L680.10 213.00 L680.30 61.60 L681.40 240.30 L681.88 240.39 L682.57 240.56 L683.36 240.70 L684.17 240.75 L684.90 240.60 L685.54 240.26 L686.15 239.80 L686.76 239.20 L687.37 238.46 L688.00 237.60 L688.69 236.54 L689.42 235.27 L690.15 233.91 L690.82 232.55 L691.40 231.30 L691.86 230.19 L692.24 229.14 L692.56 228.12 L692.84 227.09 L693.10 226.00 L693.34 224.86 L693.54 223.70 L693.71 222.51 L693.86 221.28 L694.00 220.00 L694.13 218.55 L694.25 216.94 L694.36 215.34 L694.44 213.97 L694.50 213.00 L694.70 61.60 L695.80 240.30 L696.05 240.39 L696.40 240.56 L696.82 240.70 L697.29 240.75 L697.80 240.60 L698.35 240.27 L698.94 239.82 L699.58 239.23 L700.27 238.50 L701.00 237.60 L701.86 236.37 L702.85 234.83 L703.84 233.21 L704.70 231.79 L705.30 230.80" fill="none" stroke="#6bc0e4" stroke-width="2.3" stroke-linejoin="round"/><path d="M390.70 239.50 L391.25 238.65 L392.02 237.45 L392.92 236.05 L393.84 234.59 L394.70 233.20 L395.51 231.90 L396.34 230.58 L397.16 229.25 L397.92 227.89 L398.60 226.50 L399.19 225.04 L399.71 223.50 L400.16 221.96 L400.56 220.48 L400.90 219.10 L401.17 217.80 L401.36 216.53 L401.50 215.36 L401.60 214.33 L401.70 213.50 L401.78 212.91 L401.83 212.53 L401.86 212.30 L401.88 212.14 L401.90 212.00" fill="none" stroke="#2f4894" stroke-width="2.3" stroke-linejoin="round"/><path d="M402.10 66.80 L401.90 212.00 L401.90 214.00 M402.10 66.80 L403.20 240.30 M416.60 65.50 L416.40 213.00 L416.34 213.97 L416.26 215.34 L416.15 216.94 L416.03 218.55 L415.90 220.00 L415.76 221.28 L415.61 222.51 L415.44 223.70 L415.24 224.86 L415.00 226.00 L414.74 227.09 L414.46 228.12 L414.14 229.14 L413.76 230.19 L413.30 231.30 L412.72 232.55 L412.05 233.91 L411.32 235.27 L410.59 236.54 L409.90 237.60 L409.27 238.46 L408.66 239.20 L408.06 239.80 L407.45 240.26 L406.80 240.60 L406.05 240.75 L405.22 240.70 L404.40 240.56 L403.70 240.39 L403.20 240.30 M416.60 65.50 L417.70 240.30 M431.00 63.40 L430.80 213.00 L430.74 213.97 L430.66 215.34 L430.55 216.94 L430.43 218.55 L430.30 220.00 L430.16 221.28 L430.01 222.51 L429.84 223.70 L429.64 224.86 L429.40 226.00 L429.14 227.09 L428.86 228.12 L428.54 229.14 L428.16 230.19 L427.70 231.30 L427.12 232.55 L426.45 233.91 L425.72 235.27 L424.99 236.54 L424.30 237.60 L423.67 238.46 L423.06 239.20 L422.45 239.80 L421.84 240.26 L421.20 240.60 L420.47 240.75 L419.66 240.70 L418.87 240.56 L418.18 240.39 L417.70 240.30 M431.00 63.40 L432.10 240.30 M445.50 62.00 L445.30 213.00 L445.24 213.97 L445.16 215.34 L445.05 216.94 L444.93 218.55 L444.80 220.00 L444.66 221.28 L444.51 222.51 L444.34 223.70 L444.14 224.86 L443.90 226.00 L443.64 227.09 L443.36 228.12 L443.04 229.14 L442.66 230.19 L442.20 231.30 L441.62 232.55 L440.95 233.91 L440.22 235.27 L439.49 236.54 L438.80 237.60 L438.17 238.46 L437.56 239.20 L436.96 239.80 L436.35 240.26 L435.70 240.60 L434.95 240.75 L434.12 240.70 L433.30 240.56 L432.60 240.39 L432.10 240.30 M445.50 62.00 L446.60 240.30 M460.20 62.00 L460.00 213.00 L459.94 213.97 L459.86 215.34 L459.75 216.94 L459.63 218.55 L459.50 220.00 L459.36 221.28 L459.21 222.51 L459.04 223.70 L458.84 224.86 L458.60 226.00 L458.34 227.09 L458.06 228.12 L457.74 229.14 L457.36 230.19 L456.90 231.30 L456.32 232.55 L455.65 233.91 L454.92 235.27 L454.19 236.54 L453.50 237.60 L452.87 238.46 L452.27 239.20 L451.68 239.80 L451.06 240.26 L450.40 240.60 L449.62 240.75 L448.75 240.70 L447.88 240.56 L447.13 240.39 L446.60 240.30 M460.20 62.00 L461.30 240.30 M474.90 61.60 L474.70 213.00 L474.64 213.97 L474.56 215.34 L474.45 216.94 L474.33 218.55 L474.20 220.00 L474.06 221.28 L473.91 222.51 L473.74 223.70 L473.54 224.86 L473.30 226.00 L473.04 227.09 L472.76 228.12 L472.44 229.14 L472.06 230.19 L471.60 231.30 L471.02 232.55 L470.35 233.91 L469.62 235.27 L468.89 236.54 L468.20 237.60 L467.57 238.46 L466.97 239.20 L466.38 239.80 L465.76 240.26 L465.10 240.60 L464.32 240.75 L463.45 240.70 L462.58 240.56 L461.83 240.39 L461.30 240.30 M474.90 61.60 L476.00 240.30 M489.40 61.60 L489.20 213.00 L489.14 213.97 L489.06 215.34 L488.95 216.94 L488.83 218.55 L488.70 220.00 L488.56 221.28 L488.41 222.51 L488.24 223.70 L488.04 224.86 L487.80 226.00 L487.54 227.09 L487.26 228.12 L486.94 229.14 L486.56 230.19 L486.10 231.30 L485.52 232.55 L484.85 233.91 L484.12 235.27 L483.39 236.54 L482.70 237.60 L482.07 238.46 L481.46 239.20 L480.86 239.80 L480.25 240.26 L479.60 240.60 L478.85 240.75 L478.02 240.70 L477.20 240.56 L476.50 240.39 L476.00 240.30 M489.40 61.60 L490.50 240.30 M504.20 61.60 L504.00 213.00 L503.94 213.97 L503.86 215.34 L503.75 216.94 L503.63 218.55 L503.50 220.00 L503.36 221.28 L503.21 222.51 L503.04 223.70 L502.84 224.86 L502.60 226.00 L502.34 227.09 L502.06 228.12 L501.74 229.14 L501.36 230.19 L500.90 231.30 L500.32 232.55 L499.65 233.91 L498.92 235.27 L498.19 236.54 L497.50 237.60 L496.87 238.46 L496.28 239.20 L495.68 239.80 L495.07 240.26 L494.40 240.60 L493.61 240.75 L492.71 240.70 L491.82 240.56 L491.04 240.39 L490.50 240.30 M504.20 61.60 L505.30 240.30 M518.90 61.60 L518.70 213.00 L518.64 213.97 L518.56 215.34 L518.45 216.94 L518.33 218.55 L518.20 220.00 L518.06 221.28 L517.91 222.51 L517.74 223.70 L517.54 224.86 L517.30 226.00 L517.04 227.09 L516.76 228.12 L516.44 229.14 L516.06 230.19 L515.60 231.30 L515.02 232.55 L514.35 233.91 L513.62 235.27 L512.89 236.54 L512.20 237.60 L511.57 238.46 L510.97 239.20 L510.38 239.80 L509.76 240.26 L509.10 240.60 L508.32 240.75 L507.45 240.70 L506.58 240.56 L505.83 240.39 L505.30 240.30 M518.90 61.60 L520.00 240.30 M533.40 61.60 L533.20 213.00 L533.14 213.97 L533.06 215.34 L532.95 216.94 L532.83 218.55 L532.70 220.00 L532.56 221.28 L532.41 222.51 L532.24 223.70 L532.04 224.86 L531.80 226.00 L531.54 227.09 L531.26 228.12 L530.94 229.14 L530.56 230.19 L530.10 231.30 L529.52 232.55 L528.85 233.91 L528.12 235.27 L527.39 236.54 L526.70 237.60 L526.07 238.46 L525.46 239.20 L524.86 239.80 L524.25 240.26 L523.60 240.60 L522.85 240.75 L522.02 240.70 L521.20 240.56 L520.50 240.39 L520.00 240.30 M533.40 61.60 L534.50 240.30 M548.20 61.60 L548.00 213.00 L547.94 213.97 L547.86 215.34 L547.75 216.94 L547.63 218.55 L547.50 220.00 L547.36 221.28 L547.21 222.51 L547.04 223.70 L546.84 224.86 L546.60 226.00 L546.34 227.09 L546.06 228.12 L545.74 229.14 L545.36 230.19 L544.90 231.30 L544.32 232.55 L543.65 233.91 L542.92 235.27 L542.19 236.54 L541.50 237.60 L540.87 238.46 L540.28 239.20 L539.68 239.80 L539.07 240.26 L538.40 240.60 L537.61 240.75 L536.71 240.70 L535.82 240.56 L535.04 240.39 L534.50 240.30 M548.20 61.60 L549.30 240.30 M563.00 61.60 L562.80 213.00 L562.74 213.97 L562.66 215.34 L562.55 216.94 L562.43 218.55 L562.30 220.00 L562.16 221.28 L562.01 222.51 L561.84 223.70 L561.64 224.86 L561.40 226.00 L561.14 227.09 L560.86 228.12 L560.54 229.14 L560.16 230.19 L559.70 231.30 L559.12 232.55 L558.45 233.91 L557.72 235.27 L556.99 236.54 L556.30 237.60 L555.67 238.46 L555.08 239.20 L554.48 239.80 L553.87 240.26 L553.20 240.60 L552.41 240.75 L551.51 240.70 L550.62 240.56 L549.84 240.39 L549.30 240.30 M563.00 61.60 L564.10 240.30 M577.80 61.60 L577.60 213.00 L577.54 213.97 L577.46 215.34 L577.35 216.94 L577.23 218.55 L577.10 220.00 L576.96 221.28 L576.81 222.51 L576.64 223.70 L576.44 224.86 L576.20 226.00 L575.94 227.09 L575.66 228.12 L575.34 229.14 L574.96 230.19 L574.50 231.30 L573.92 232.55 L573.25 233.91 L572.52 235.27 L571.79 236.54 L571.10 237.60 L570.47 238.46 L569.88 239.20 L569.28 239.80 L568.67 240.26 L568.00 240.60 L567.21 240.75 L566.31 240.70 L565.42 240.56 L564.64 240.39 L564.10 240.30 M577.80 61.60 L578.90 240.30 M592.20 61.60 L592.00 213.00 L591.94 213.97 L591.86 215.34 L591.75 216.94 L591.63 218.55 L591.50 220.00 L591.36 221.28 L591.21 222.51 L591.04 223.70 L590.84 224.86 L590.60 226.00 L590.34 227.09 L590.06 228.12 L589.74 229.14 L589.36 230.19 L588.90 231.30 L588.32 232.55 L587.65 233.91 L586.92 235.27 L586.19 236.54 L585.50 237.60 L584.87 238.46 L584.26 239.20 L583.65 239.80 L583.04 240.26 L582.40 240.60 L581.67 240.75 L580.86 240.70 L580.07 240.56 L579.38 240.39 L578.90 240.30 M592.20 61.60 L593.30 240.30 M607.00 61.60 L606.80 213.00 L606.74 213.97 L606.66 215.34 L606.55 216.94 L606.43 218.55 L606.30 220.00 L606.16 221.28 L606.01 222.51 L605.84 223.70 L605.64 224.86 L605.40 226.00 L605.14 227.09 L604.86 228.12 L604.54 229.14 L604.16 230.19 L603.70 231.30 L603.12 232.55 L602.45 233.91 L601.72 235.27 L600.99 236.54 L600.30 237.60 L599.67 238.46 L599.08 239.20 L598.48 239.80 L597.87 240.26 L597.20 240.60 L596.41 240.75 L595.51 240.70 L594.62 240.56 L593.84 240.39 L593.30 240.30 M607.00 61.60 L608.10 240.30 M621.50 61.60 L621.30 213.00 L621.24 213.97 L621.16 215.34 L621.05 216.94 L620.93 218.55 L620.80 220.00 L620.66 221.28 L620.51 222.51 L620.34 223.70 L620.14 224.86 L619.90 226.00 L619.64 227.09 L619.36 228.12 L619.04 229.14 L618.66 230.19 L618.20 231.30 L617.62 232.55 L616.95 233.91 L616.22 235.27 L615.49 236.54 L614.80 237.60 L614.17 238.46 L613.56 239.20 L612.96 239.80 L612.35 240.26 L611.70 240.60 L610.95 240.75 L610.12 240.70 L609.30 240.56 L608.60 240.39 L608.10 240.30 M621.50 61.60 L622.60 240.30 M635.90 61.60 L635.70 213.00 L635.64 213.97 L635.56 215.34 L635.45 216.94 L635.33 218.55 L635.20 220.00 L635.06 221.28 L634.91 222.51 L634.74 223.70 L634.54 224.86 L634.30 226.00 L634.04 227.09 L633.76 228.12 L633.44 229.14 L633.06 230.19 L632.60 231.30 L632.02 232.55 L631.35 233.91 L630.62 235.27 L629.89 236.54 L629.20 237.60 L628.57 238.46 L627.96 239.20 L627.35 239.80 L626.74 240.26 L626.10 240.60 L625.37 240.75 L624.56 240.70 L623.77 240.56 L623.08 240.39 L622.60 240.30 M635.90 61.60 L637.00 240.30 M650.70 61.60 L650.50 213.00 L650.44 213.97 L650.36 215.34 L650.25 216.94 L650.13 218.55 L650.00 220.00 L649.86 221.28 L649.71 222.51 L649.54 223.70 L649.34 224.86 L649.10 226.00 L648.84 227.09 L648.56 228.12 L648.24 229.14 L647.86 230.19 L647.40 231.30 L646.82 232.55 L646.15 233.91 L645.42 235.27 L644.69 236.54 L644.00 237.60 L643.37 238.46 L642.78 239.20 L642.18 239.80 L641.57 240.26 L640.90 240.60 L640.11 240.75 L639.21 240.70 L638.32 240.56 L637.54 240.39 L637.00 240.30 M650.70 61.60 L651.80 240.30 M665.20 61.60 L665.00 213.00 L664.94 213.97 L664.86 215.34 L664.75 216.94 L664.63 218.55 L664.50 220.00 L664.36 221.28 L664.21 222.51 L664.04 223.70 L663.84 224.86 L663.60 226.00 L663.34 227.09 L663.06 228.12 L662.74 229.14 L662.36 230.19 L661.90 231.30 L661.32 232.55 L660.65 233.91 L659.92 235.27 L659.19 236.54 L658.50 237.60 L657.87 238.46 L657.26 239.20 L656.66 239.80 L656.05 240.26 L655.40 240.60 L654.65 240.75 L653.82 240.70 L653.00 240.56 L652.30 240.39 L651.80 240.30 M665.20 61.60 L666.30 240.30 M680.30 61.60 L680.10 213.00 L680.04 213.97 L679.96 215.34 L679.85 216.94 L679.73 218.55 L679.60 220.00 L679.46 221.28 L679.31 222.51 L679.14 223.70 L678.94 224.86 L678.70 226.00 L678.44 227.09 L678.16 228.12 L677.84 229.14 L677.46 230.19 L677.00 231.30 L676.42 232.55 L675.75 233.91 L675.02 235.27 L674.29 236.54 L673.60 237.60 L672.98 238.46 L672.39 239.20 L671.80 239.80 L671.19 240.26 L670.50 240.60 L669.66 240.75 L668.70 240.70 L667.73 240.56 L666.89 240.39 L666.30 240.30 M680.30 61.60 L681.40 240.30 M694.70 61.60 L694.50 213.00 L694.44 213.97 L694.36 215.34 L694.25 216.94 L694.13 218.55 L694.00 220.00 L693.86 221.28 L693.71 222.51 L693.54 223.70 L693.34 224.86 L693.10 226.00 L692.84 227.09 L692.56 228.12 L692.24 229.14 L691.86 230.19 L691.40 231.30 L690.82 232.55 L690.15 233.91 L689.42 235.27 L688.69 236.54 L688.00 237.60 L687.37 238.46 L686.76 239.20 L686.15 239.80 L685.54 240.26 L684.90 240.60 L684.17 240.75 L683.36 240.70 L682.57 240.56 L681.88 240.39 L681.40 240.30 M694.70 61.60 L695.80 240.30 M695.80 240.30 L696.05 240.39 L696.40 240.56 L696.82 240.70 L697.29 240.75 L697.80 240.60 L698.35 240.27 L698.94 239.82 L699.58 239.23 L700.27 238.50 L701.00 237.60 L701.86 236.37 L702.85 234.83 L703.84 233.21 L704.70 231.79 L705.30 230.80" fill="none" stroke="#2f4894" stroke-width="2.3" stroke-linejoin="round" stroke-dasharray="5.7 5.9"/><path d="M409.2 249.2 V274.2 H379.9" fill="none" stroke="#111" stroke-width="2.3"/><text transform="translate(415.96,270.40) scale(1.0474,1)" font-size="16" font-weight="normal" fill="#1c1c1c" stroke="#1c1c1c" stroke-width="0.210">10mV</text><text transform="translate(378.13,294.40) scale(1.0522,1)" font-size="16" font-weight="normal" fill="#1c1c1c" stroke="#1c1c1c" stroke-width="0.209">50ms</text><path d="M69.0 360.6 V562.6 H340.3" fill="none" stroke="#111" stroke-width="2.8"/><line x1="68.0" y1="360.8" x2="71.6" y2="360.8" stroke="#111" stroke-width="1.4"/><line x1="69.0" y1="389.6" x2="71.8" y2="389.6" stroke="#333" stroke-width="0.9"/><line x1="69.0" y1="418.5" x2="71.8" y2="418.5" stroke="#333" stroke-width="0.9"/><line x1="69.0" y1="447.3" x2="71.8" y2="447.3" stroke="#333" stroke-width="0.9"/><line x1="69.0" y1="476.1" x2="71.8" y2="476.1" stroke="#333" stroke-width="0.9"/><line x1="69.0" y1="504.9" x2="71.8" y2="504.9" stroke="#333" stroke-width="0.9"/><line x1="69.0" y1="533.8" x2="71.8" y2="533.8" stroke="#333" stroke-width="0.9"/><line x1="96.1" y1="562.6" x2="96.1" y2="559.8000000000001" stroke="#333" stroke-width="0.9"/><line x1="123.3" y1="562.6" x2="123.3" y2="559.8000000000001" stroke="#333" stroke-width="0.9"/><line x1="150.4" y1="562.6" x2="150.4" y2="559.8000000000001" stroke="#333" stroke-width="0.9"/><line x1="177.5" y1="562.6" x2="177.5" y2="559.8000000000001" stroke="#333" stroke-width="0.9"/><line x1="204.7" y1="562.6" x2="204.7" y2="559.8000000000001" stroke="#333" stroke-width="0.9"/><line x1="231.8" y1="562.6" x2="231.8" y2="559.8000000000001" stroke="#333" stroke-width="0.9"/><line x1="258.9" y1="562.6" x2="258.9" y2="559.8000000000001" stroke="#333" stroke-width="0.9"/><line x1="286.0" y1="562.6" x2="286.0" y2="559.8000000000001" stroke="#333" stroke-width="0.9"/><line x1="313.2" y1="562.6" x2="313.2" y2="559.8000000000001" stroke="#333" stroke-width="0.9"/><text transform="translate(37.78,365.20) scale(1.0655,1)" font-size="17" font-weight="normal" fill="#1c1c1c" stroke="#1c1c1c" stroke-width="0.206">500</text><text transform="translate(31.68,566.00) scale(1.0600,1)" font-size="17" font-weight="normal" fill="#1c1c1c" stroke="#1c1c1c" stroke-width="0.208">-200</text><text transform="translate(54.89,579.50) scale(1.0434,1)" font-size="17" font-weight="normal" fill="#1c1c1c" stroke="#1c1c1c" stroke-width="0.211">-70</text><text transform="translate(331.30,579.20) scale(1.0280,1)" font-size="17" font-weight="normal" fill="#1c1c1c" stroke="#1c1c1c" stroke-width="0.214">30</text><text transform="translate(175.68,589.80) scale(1.1519,1)" font-size="19.5" font-weight="normal" fill="#1c1c1c" stroke="#1c1c1c" stroke-width="0.191">V</text><text transform="translate(186.42,595.50) scale(1.4518,1)" font-size="11" font-weight="normal" fill="#1c1c1c" stroke="#1c1c1c" stroke-width="0.152">M</text><text transform="translate(201.50,589.80) scale(1.0476,1)" font-size="17.5" font-weight="normal" fill="#1c1c1c" stroke="#1c1c1c" stroke-width="0.210">(mV)</text><text transform="translate(41.40,516.20) rotate(-90) scale(0.9846,1)" font-size="20" font-weight="normal" fill="#1c1c1c" stroke="#1c1c1c" stroke-width="0.223">V</text><text transform="translate(47.10,503.66) rotate(-90) scale(1.2184,1)" font-size="9.8" font-weight="normal" fill="#1c1c1c" stroke="#1c1c1c" stroke-width="0.181">M</text><text transform="translate(40.80,490.86) rotate(-90) scale(1.1573,1)" font-size="18" font-weight="normal" fill="#1c1c1c" stroke="#1c1c1c" stroke-width="0.190">rate change</text><text transform="translate(61.60,489.55) rotate(-90) scale(1.1001,1)" font-size="19" font-weight="normal" fill="#1c1c1c" stroke="#1c1c1c" stroke-width="0.200">(mV/ms)</text><text transform="translate(101.12,397.00) scale(1.0005,1)" font-size="19.5" font-weight="normal" fill="#1c1c1c" stroke="#1c1c1c" stroke-width="0.220">37</text><text transform="translate(122.93,390.30) scale(1.1145,1)" font-size="10.5" font-weight="normal" fill="#1c1c1c" stroke="#1c1c1c" stroke-width="0.197">o</text><text transform="translate(129.24,397.00) scale(1.0826,1)" font-size="19.5" font-weight="normal" fill="#1c1c1c" stroke="#1c1c1c" stroke-width="0.203">C</text><text transform="translate(101.12,422.50) scale(1.0005,1)" font-size="19.5" font-weight="normal" fill="#1c1c1c" stroke="#1c1c1c" stroke-width="0.220">39</text><text transform="translate(122.93,415.80) scale(1.1145,1)" font-size="10.5" font-weight="normal" fill="#1c1c1c" stroke="#1c1c1c" stroke-width="0.197">o</text><text transform="translate(129.24,422.50) scale(1.0826,1)" font-size="19.5" font-weight="normal" fill="#1c1c1c" stroke="#1c1c1c" stroke-width="0.203">C</text><path d="M75.50 504.70 L78.32 504.73 L82.35 504.78 L86.98 504.78 L91.60 504.70 L96.43 504.48 L101.67 504.15 L106.68 503.80 L110.80 503.50 L113.58 503.34 L115.46 503.24 L117.13 503.08 L119.30 502.70 L122.31 501.97 L125.74 501.00 L129.12 500.00 L132.00 499.20 L134.15 498.70 L135.86 498.38 L137.41 498.06 L139.10 497.60 L141.00 497.05 L142.94 496.45 L144.92 495.65 L146.90 494.50 L148.94 492.82 L151.04 490.74 L153.06 488.54 L154.90 486.50 L156.49 484.71 L157.89 483.03 L159.21 481.33 L160.50 479.50 L161.69 477.66 L162.77 475.83 L163.94 473.71 L165.40 471.00 L167.27 467.42 L169.43 463.20 L171.69 458.80 L173.90 454.70 L175.99 451.15 L178.06 447.87 L180.18 444.47 L182.40 440.60 L184.78 435.98 L187.27 430.88 L189.80 425.68 L192.30 420.80 L194.75 416.31 L197.20 411.99 L199.65 407.86 L202.10 403.90 L204.57 399.84 L207.04 395.76 L209.52 392.23 L212.00 389.80 L214.44 388.98 L216.86 389.34 L219.33 390.06 L221.90 390.30 L224.59 389.90 L227.37 389.28 L230.24 388.47 L233.20 387.50 L236.34 385.95 L239.64 383.94 L242.89 382.32 L245.90 381.90 L248.57 383.16 L251.03 385.58 L253.39 388.48 L255.80 391.20 L258.31 393.53 L260.84 395.85 L263.32 398.32 L265.70 401.10 L267.92 404.69 L270.04 408.86 L272.11 412.67 L274.20 415.20 L276.36 415.44 L278.54 414.14 L280.68 413.02 L282.70 413.80 L284.45 417.46 L286.02 422.91 L287.68 428.75 L289.70 433.60 L292.32 437.09 L295.34 439.96 L298.37 442.48 L301.00 444.90 L303.14 447.20 L304.99 449.27 L306.63 451.26 L308.10 453.30 L309.39 455.58 L310.47 457.99 L311.42 460.17 L312.30 461.80 L313.07 462.52 L313.72 462.61 L314.36 462.64 L315.10 463.20 L316.01 464.45 L317.02 466.07 L318.04 467.96 L319.00 470.00 L319.82 471.91 L320.57 473.84 L321.36 476.30 L322.30 479.80 L323.62 484.84 L325.21 491.03 L326.61 497.52 L327.40 503.50 L327.40 508.97 L326.86 514.31 L325.99 519.19 L325.00 523.30 L323.86 526.45 L322.50 528.85 L321.01 530.77 L319.50 532.50 L318.28 533.85 L317.19 534.76 L315.66 535.69 L313.10 537.10 L309.18 539.34 L304.28 542.09 L298.84 544.82 L293.30 547.00 L287.42 548.47 L281.08 549.52 L274.93 550.28 L269.60 550.90 L265.25 551.28 L261.54 551.39 L258.38 551.46 L255.70 551.70 L253.71 552.30 L252.38 553.10 L251.23 553.80 L249.80 554.10 L248.34 553.84 L246.96 553.22 L245.03 552.43 L241.90 551.70 L237.27 551.08 L231.54 550.45 L225.06 549.77 L218.20 549.00 L210.74 548.18 L202.59 547.33 L194.32 546.30 L186.50 545.00 L179.31 543.35 L172.45 541.42 L165.71 539.31 L158.90 537.10 L152.08 534.81 L145.31 532.39 L138.41 529.86 L131.20 527.20 L123.38 524.36 L115.12 521.35 L106.98 518.32 L99.50 515.40 L92.40 512.40 L85.52 509.31 L79.63 506.60 L75.50 504.70" fill="none" stroke="#161616" stroke-width="2.9" stroke-linejoin="round"/><path d="M87.70 505.00 L92.19 504.79 L98.72 504.48 L105.51 504.15 L110.80 503.90 L113.75 503.84 L115.43 503.89 L116.92 503.84 L119.30 503.50 L123.05 502.79 L127.54 501.83 L132.15 500.68 L136.30 499.40 L139.94 497.91 L143.34 496.22 L146.40 494.49 L149.00 492.90 L150.93 491.57 L152.32 490.37 L153.52 489.15 L154.90 487.70 L156.51 486.00 L158.17 484.15 L159.89 482.15 L161.70 480.00 L163.57 477.78 L165.51 475.46 L167.55 472.91 L169.70 470.00 L171.92 466.62 L174.21 462.86 L176.70 458.92 L179.50 455.00 L182.91 450.89 L186.78 446.57 L190.55 442.51 L193.70 439.20 L195.94 436.98 L197.61 435.54 L199.08 434.30 L200.70 432.70 L202.56 430.57 L204.47 428.21 L206.40 425.80 L208.30 423.50 L210.14 421.00 L211.94 418.33 L213.78 416.17 L215.70 415.20 L217.80 416.04 L220.02 418.18 L222.21 420.61 L224.20 422.30 L225.86 422.88 L227.30 422.93 L228.74 422.86 L230.40 423.10 L232.26 423.61 L234.24 424.23 L236.43 425.13 L238.90 426.50 L241.81 428.45 L245.07 430.87 L248.43 433.58 L251.60 436.40 L254.66 439.61 L257.69 443.19 L260.51 446.56 L262.90 449.10 L264.73 450.36 L266.14 450.76 L267.32 451.03 L268.50 451.90 L269.67 453.60 L270.74 455.72 L271.76 458.06 L272.80 460.40 L273.84 462.76 L274.87 465.23 L275.91 467.69 L277.00 470.00 L278.12 471.80 L279.26 473.26 L280.47 475.09 L281.80 478.00 L283.51 482.56 L285.48 488.26 L287.24 494.20 L288.30 499.50 L288.46 503.98 L288.01 508.10 L287.18 511.89 L286.20 515.40 L284.94 518.70 L283.34 521.76 L281.75 524.41 L280.50 526.50 L279.74 527.87 L279.27 528.65 L278.91 529.10 L278.50 529.50 L278.21 529.69 L278.06 529.61 L277.63 529.64 L276.50 530.20 L274.42 531.51 L271.66 533.33 L268.60 535.30 L265.60 537.10 L262.81 538.76 L260.01 540.43 L257.06 541.91 L253.80 543.00 L250.06 543.52 L245.97 543.62 L241.82 543.61 L237.90 543.80 L234.30 544.42 L230.87 545.25 L227.50 545.96 L224.10 546.20 L220.79 545.76 L217.57 544.87 L214.17 543.84 L210.30 543.00 L205.59 542.44 L200.28 541.98 L195.04 541.55 L190.50 541.10 L187.15 540.70 L184.54 540.35 L181.94 539.88 L178.60 539.10 L174.41 537.99 L169.74 536.64 L164.57 535.05 L158.90 533.20 L152.45 531.01 L145.31 528.50 L138.04 525.87 L131.20 523.30 L124.88 520.79 L118.80 518.26 L112.97 515.77 L107.40 513.40 L101.73 511.00 L96.06 508.58 L91.14 506.47 L87.70 505.00" fill="none" stroke="#3656a8" stroke-width="2.9" stroke-linejoin="round"/><path d="M410.2 360.6 V562.8 H682.2" fill="none" stroke="#111" stroke-width="2.8"/><line x1="409.2" y1="360.8" x2="412.8" y2="360.8" stroke="#111" stroke-width="1.4"/><line x1="410.2" y1="389.7" x2="413.0" y2="389.7" stroke="#333" stroke-width="0.9"/><line x1="410.2" y1="418.4" x2="413.0" y2="418.4" stroke="#333" stroke-width="0.9"/><line x1="410.2" y1="447.1" x2="413.0" y2="447.1" stroke="#333" stroke-width="0.9"/><line x1="410.2" y1="475.8" x2="413.0" y2="475.8" stroke="#333" stroke-width="0.9"/><line x1="410.2" y1="504.5" x2="413.0" y2="504.5" stroke="#333" stroke-width="0.9"/><line x1="410.2" y1="533.2" x2="413.0" y2="533.2" stroke="#333" stroke-width="0.9"/><line x1="437.4" y1="562.8" x2="437.4" y2="560.0" stroke="#333" stroke-width="0.9"/><line x1="464.6" y1="562.8" x2="464.6" y2="560.0" stroke="#333" stroke-width="0.9"/><line x1="491.8" y1="562.8" x2="491.8" y2="560.0" stroke="#333" stroke-width="0.9"/><line x1="519.0" y1="562.8" x2="519.0" y2="560.0" stroke="#333" stroke-width="0.9"/><line x1="546.2" y1="562.8" x2="546.2" y2="560.0" stroke="#333" stroke-width="0.9"/><line x1="573.4" y1="562.8" x2="573.4" y2="560.0" stroke="#333" stroke-width="0.9"/><line x1="600.6" y1="562.8" x2="600.6" y2="560.0" stroke="#333" stroke-width="0.9"/><line x1="627.8" y1="562.8" x2="627.8" y2="560.0" stroke="#333" stroke-width="0.9"/><line x1="655.0" y1="562.8" x2="655.0" y2="560.0" stroke="#333" stroke-width="0.9"/><text transform="translate(398.90,365.80) scale(0.9155,1)" font-size="16.5" font-weight="normal" fill="#1c1c1c" stroke="#1c1c1c" stroke-width="0.240">5</text><text transform="translate(398.62,567.60) scale(1.0227,1)" font-size="16.5" font-weight="normal" fill="#1c1c1c" stroke="#1c1c1c" stroke-width="0.215">0</text><text transform="translate(405.35,579.20) scale(1.1364,1)" font-size="16.5" font-weight="normal" fill="#1c1c1c" stroke="#1c1c1c" stroke-width="0.194">0</text><text transform="translate(669.18,579.20) scale(1.0792,1)" font-size="16.5" font-weight="normal" fill="#1c1c1c" stroke="#1c1c1c" stroke-width="0.204">100</text><text transform="translate(498.52,593.30) scale(1.1347,1)" font-size="18.5" font-weight="normal" fill="#1c1c1c" stroke="#1c1c1c" stroke-width="0.194">Frequency (Hz)</text><text transform="translate(391.70,550.45) rotate(-90) scale(1.0644,1)" font-size="17" font-weight="normal" fill="#1c1c1c" stroke="#1c1c1c" stroke-width="0.207">Power x 10</text><text transform="translate(385.80,456.81) rotate(-90) scale(1.0496,1)" font-size="12.2" font-weight="normal" fill="#1c1c1c" stroke="#1c1c1c" stroke-width="0.210">-4</text><text transform="translate(391.50,431.26) rotate(-90) scale(1.1076,1)" font-size="19" font-weight="normal" fill="#1c1c1c" stroke="#1c1c1c" stroke-width="0.199">(A.U.)</text><text transform="translate(436.82,400.80) scale(1.0005,1)" font-size="19.5" font-weight="normal" fill="#1c1c1c" stroke="#1c1c1c" stroke-width="0.220">37</text><text transform="translate(458.63,394.10) scale(1.1145,1)" font-size="10.5" font-weight="normal" fill="#1c1c1c" stroke="#1c1c1c" stroke-width="0.197">o</text><text transform="translate(464.94,400.80) scale(1.0826,1)" font-size="19.5" font-weight="normal" fill="#1c1c1c" stroke="#1c1c1c" stroke-width="0.203">C</text><text transform="translate(436.82,426.40) scale(1.0005,1)" font-size="19.5" font-weight="normal" fill="#1c1c1c" stroke="#1c1c1c" stroke-width="0.220">39</text><text transform="translate(458.63,419.70) scale(1.1145,1)" font-size="10.5" font-weight="normal" fill="#1c1c1c" stroke="#1c1c1c" stroke-width="0.197">o</text><text transform="translate(464.94,426.40) scale(1.0826,1)" font-size="19.5" font-weight="normal" fill="#1c1c1c" stroke="#1c1c1c" stroke-width="0.203">C</text><path d="M410.20 560.20 L410.70 560.20 L411.20 560.20 L411.70 560.20 L412.20 560.20 L412.70 560.20 L413.20 560.20 L413.70 560.20 L414.20 560.20 L414.70 560.20 L415.20 560.20 L415.70 560.20 L416.20 560.20 L416.70 560.20 L417.20 560.20 L417.70 560.20 L418.20 560.20 L418.70 560.20 L419.20 560.20 L419.70 560.20 L420.20 560.20 L420.70 560.20 L421.20 560.20 L421.70 560.20 L422.20 560.20 L422.70 560.20 L423.20 560.20 L423.70 560.20 L424.20 560.20 L424.70 560.20 L425.20 560.20 L425.70 560.20 L426.20 560.20 L426.70 560.20 L427.20 560.20 L427.70 560.20 L428.20 560.20 L428.70 560.20 L429.20 560.20 L429.70 560.20 L430.20 560.20 L430.70 560.20 L431.20 560.20 L431.70 560.20 L432.20 560.20 L432.70 560.20 L433.20 560.20 L433.70 560.20 L434.20 560.20 L434.70 560.20 L435.20 560.20 L435.70 560.20 L436.20 560.20 L436.70 560.20 L437.20 560.20 L437.70 560.20 L438.20 560.20 L438.70 560.20 L439.20 560.20 L439.70 560.20 L440.20 560.20 L440.70 560.20 L441.20 560.20 L441.70 560.20 L442.20 560.20 L442.70 560.20 L443.20 560.20 L443.70 560.20 L444.20 560.20 L444.70 560.20 L445.20 560.20 L445.70 560.20 L446.20 560.20 L446.70 560.20 L447.20 560.20 L447.70 560.20 L448.20 560.20 L448.70 560.20 L449.20 560.20 L449.70 560.20 L450.20 560.20 L450.70 560.20 L451.20 560.20 L451.70 560.20 L452.20 560.20 L452.70 560.20 L453.20 560.20 L453.70 560.20 L454.20 560.20 L454.70 560.20 L455.20 560.20 L455.70 560.20 L456.20 560.20 L456.70 560.20 L457.20 560.20 L457.70 560.20 L458.20 560.20 L458.70 560.20 L459.20 560.20 L459.70 560.20 L460.20 560.20 L460.70 560.20 L461.20 560.20 L461.70 560.20 L462.20 560.20 L462.70 560.20 L463.20 560.20 L463.70 560.20 L464.20 560.20 L464.70 560.20 L465.20 560.20 L465.70 560.20 L466.20 560.20 L466.70 560.20 L467.20 560.20 L467.70 560.20 L468.20 560.20 L468.70 560.20 L469.20 560.20 L469.70 560.20 L470.20 560.20 L470.70 560.20 L471.20 560.20 L471.70 560.20 L472.20 560.20 L472.70 560.20 L473.20 560.20 L473.70 560.20 L474.20 560.20 L474.70 560.20 L475.20 560.20 L475.70 560.19 L476.20 560.19 L476.70 560.19 L477.20 560.19 L477.70 560.19 L478.20 560.19 L478.70 560.19 L479.20 560.18 L479.70 560.18 L480.20 560.18 L480.70 560.17 L481.20 560.17 L481.70 560.16 L482.20 560.16 L482.70 560.15 L483.20 560.14 L483.70 560.13 L484.20 560.12 L484.70 560.11 L485.20 560.09 L485.70 560.07 L486.20 560.06 L486.70 560.03 L487.20 560.01 L487.70 559.98 L488.20 559.95 L488.70 559.91 L489.20 559.87 L489.70 559.82 L490.20 559.77 L490.70 559.71 L491.20 559.64 L491.70 559.57 L492.20 559.48 L492.70 559.39 L493.20 559.28 L493.70 559.17 L494.20 559.03 L494.70 558.89 L495.20 558.72 L495.70 558.54 L496.20 558.34 L496.70 558.12 L497.20 557.87 L497.70 557.60 L498.20 557.31 L498.70 556.98 L499.20 556.62 L499.70 556.22 L500.20 555.79 L500.70 555.32 L501.20 554.80 L501.70 554.24 L502.20 553.63 L502.70 552.97 L503.20 552.25 L503.70 551.47 L504.20 550.63 L504.70 549.72 L505.20 548.74 L505.70 547.69 L506.20 546.56 L506.70 545.34 L507.20 544.05 L507.70 542.66 L508.20 541.18 L508.70 539.61 L509.20 537.94 L509.70 536.16 L510.20 534.28 L510.70 532.29 L511.20 530.20 L511.70 527.98 L512.20 525.66 L512.70 523.21 L513.20 520.65 L513.70 517.97 L514.20 515.17 L514.70 512.25 L515.20 509.21 L515.70 506.06 L516.20 502.79 L516.70 499.41 L517.20 495.92 L517.70 492.33 L518.20 488.63 L518.70 484.83 L519.20 480.95 L519.70 476.98 L520.20 472.93 L520.70 468.82 L521.20 464.64 L521.70 460.41 L522.20 456.14 L522.70 451.84 L523.20 447.52 L523.70 443.18 L524.20 438.85 L524.70 434.54 L525.20 430.25 L525.70 426.00 L526.20 421.81 L526.70 417.68 L527.20 413.64 L527.70 409.69 L528.20 405.85 L528.70 402.13 L529.20 398.54 L529.70 395.11 L530.20 391.84 L530.70 388.74 L531.20 385.82 L531.70 383.11 L532.20 380.60 L532.70 378.31 L533.20 376.25 L533.70 374.42 L534.20 372.84 L534.70 371.50 L535.20 370.42 L535.70 369.60 L536.20 369.04 L536.70 368.75 L537.20 368.72 L537.70 368.93 L538.20 369.37 L538.70 370.05 L539.20 370.95 L539.70 372.08 L540.20 373.44 L540.70 375.00 L541.20 376.78 L541.70 378.77 L542.20 380.95 L542.70 383.32 L543.20 385.88 L543.70 388.61 L544.20 391.50 L544.70 394.54 L545.20 397.73 L545.70 401.05 L546.20 404.50 L546.70 408.06 L547.20 411.71 L547.70 415.46 L548.20 419.28 L548.70 423.17 L549.20 427.12 L549.70 431.11 L550.20 435.13 L550.70 439.18 L551.20 443.24 L551.70 447.30 L552.20 451.35 L552.70 455.39 L553.20 459.39 L553.70 463.37 L554.20 467.30 L554.70 471.18 L555.20 475.00 L555.70 478.76 L556.20 482.45 L556.70 486.06 L557.20 489.59 L557.70 493.03 L558.20 496.39 L558.70 499.65 L559.20 502.81 L559.70 505.88 L560.20 508.84 L560.70 511.70 L561.20 514.46 L561.70 517.12 L562.20 519.67 L562.70 522.11 L563.20 524.45 L563.70 526.69 L564.20 528.83 L564.70 530.86 L565.20 532.80 L565.70 534.64 L566.20 536.39 L566.70 538.04 L567.20 539.61 L567.70 541.09 L568.20 542.48 L568.70 543.79 L569.20 545.02 L569.70 546.18 L570.20 547.27 L570.70 548.28 L571.20 549.23 L571.70 550.12 L572.20 550.94 L572.70 551.71 L573.20 552.43 L573.70 553.09 L574.20 553.70 L574.70 554.27 L575.20 554.80 L575.70 555.28 L576.20 555.73 L576.70 556.14 L577.20 556.52 L577.70 556.86 L578.20 557.18 L578.70 557.47 L579.20 557.74 L579.70 557.98 L580.20 558.20 L580.70 558.40 L581.20 558.59 L581.70 558.75 L582.20 558.90 L582.70 559.04 L583.20 559.16 L583.70 559.27 L584.20 559.38 L584.70 559.47 L585.20 559.55 L585.70 559.62 L586.20 559.69 L586.70 559.74 L587.20 559.80 L587.70 559.84 L588.20 559.88 L588.70 559.92 L589.20 559.96 L589.70 559.98 L590.20 560.01 L590.70 560.03 L591.20 560.05 L591.70 560.07 L592.20 560.09 L592.70 560.10 L593.20 560.11 L593.70 560.13 L594.20 560.14 L594.70 560.14 L595.20 560.15 L595.70 560.16 L596.20 560.16 L596.70 560.17 L597.20 560.17 L597.70 560.17 L598.20 560.18 L598.70 560.18 L599.20 560.18 L599.70 560.18 L600.20 560.19 L600.70 560.19 L601.20 560.19 L601.70 560.19 L602.20 560.19 L602.70 560.19 L603.20 560.19 L603.70 560.18 L604.20 560.18 L604.70 560.18 L605.20 560.18 L605.70 560.17 L606.20 560.17 L606.70 560.17 L607.20 560.16 L607.70 560.15 L608.20 560.15 L608.70 560.14 L609.20 560.13 L609.70 560.12 L610.20 560.11 L610.70 560.09 L611.20 560.07 L611.70 560.06 L612.20 560.03 L612.70 560.01 L613.20 559.98 L613.70 559.95 L614.20 559.91 L614.70 559.87 L615.20 559.82 L615.70 559.77 L616.20 559.71 L616.70 559.65 L617.20 559.57 L617.70 559.49 L618.20 559.39 L618.70 559.29 L619.20 559.17 L619.70 559.04 L620.20 558.90 L620.70 558.73 L621.20 558.56 L621.70 558.36 L622.20 558.14 L622.70 557.89 L623.20 557.63 L623.70 557.33 L624.20 557.01 L624.70 556.65 L625.20 556.26 L625.70 555.84 L626.20 555.37 L626.70 554.86 L627.20 554.31 L627.70 553.70 L628.20 553.05 L628.70 552.34 L629.20 551.57 L629.70 550.74 L630.20 549.85 L630.70 548.89 L631.20 547.85 L631.70 546.74 L632.20 545.55 L632.70 544.28 L633.20 542.91 L633.70 541.46 L634.20 539.92 L634.70 538.28 L635.20 536.54 L635.70 534.69 L636.20 532.74 L636.70 530.68 L637.20 528.52 L637.70 526.24 L638.20 523.84 L638.70 521.34 L639.20 518.71 L639.70 515.98 L640.20 513.12 L640.70 510.16 L641.20 507.08 L641.70 503.88 L642.20 500.58 L642.70 497.18 L643.20 493.67 L643.70 490.07 L644.20 486.37 L644.70 482.59 L645.20 478.72 L645.70 474.78 L646.20 470.78 L646.70 466.72 L647.20 462.61 L647.70 458.46 L648.20 454.28 L648.70 450.09 L649.20 445.89 L649.70 441.69 L650.20 437.51 L650.70 433.36 L651.20 429.25 L651.70 425.19 L652.20 421.21 L652.70 417.30 L653.20 413.49 L653.70 409.79 L654.20 406.21 L654.70 402.76 L655.20 399.46 L655.70 396.32 L656.20 393.35 L656.70 390.56 L657.20 387.97 L657.70 385.58 L658.20 383.40 L658.70 381.45 L659.20 379.72 L659.70 378.23 L660.20 376.99 L660.70 375.99 L661.20 375.24 L661.70 374.75 L662.20 374.52 L662.70 374.54 L663.20 374.79 L663.70 375.26 L664.20 375.95 L664.70 376.85 L665.20 377.98 L665.70 379.31 L666.20 380.85 L666.70 382.60 L667.20 384.54 L667.70 386.66 L668.20 388.97 L668.70 391.45 L669.20 394.09 L669.70 396.89 L670.20 399.84 L670.70 402.92 L671.20 406.13 L671.70 409.46 L672.20 412.89 L672.70 416.41 L673.20 420.03 L673.70 423.71 L674.20 427.46 L674.70 431.26 L675.20 435.11 L675.70 438.98 L676.20 442.88 L676.70 446.79 L677.20 450.70 L677.70 454.60 L678.20 458.48 L678.70 462.35 L679.20 466.17 L679.70 469.96 L680.20 473.70 L680.70 477.38 L681.20 481.01 L681.70 484.56 L682.20 488.04" fill="none" stroke="#3656a8" stroke-width="2.9" stroke-linejoin="round"/><path d="M410.20 561.30 L410.70 561.30 L411.20 561.30 L411.70 561.30 L412.20 561.30 L412.70 561.30 L413.20 561.30 L413.70 561.30 L414.20 561.30 L414.70 561.30 L415.20 561.30 L415.70 561.30 L416.20 561.30 L416.70 561.30 L417.20 561.30 L417.70 561.30 L418.20 561.30 L418.70 561.30 L419.20 561.30 L419.70 561.30 L420.20 561.30 L420.70 561.30 L421.20 561.30 L421.70 561.30 L422.20 561.30 L422.70 561.30 L423.20 561.30 L423.70 561.30 L424.20 561.30 L424.70 561.30 L425.20 561.30 L425.70 561.30 L426.20 561.30 L426.70 561.30 L427.20 561.30 L427.70 561.30 L428.20 561.30 L428.70 561.30 L429.20 561.30 L429.70 561.30 L430.20 561.30 L430.70 561.30 L431.20 561.30 L431.70 561.30 L432.20 561.30 L432.70 561.30 L433.20 561.30 L433.70 561.30 L434.20 561.30 L434.70 561.30 L435.20 561.30 L435.70 561.30 L436.20 561.30 L436.70 561.30 L437.20 561.30 L437.70 561.30 L438.20 561.30 L438.70 561.30 L439.20 561.30 L439.70 561.30 L440.20 561.30 L440.70 561.30 L441.20 561.30 L441.70 561.30 L442.20 561.30 L442.70 561.30 L443.20 561.30 L443.70 561.30 L444.20 561.30 L444.70 561.30 L445.20 561.30 L445.70 561.30 L446.20 561.30 L446.70 561.30 L447.20 561.29 L447.70 561.29 L448.20 561.29 L448.70 561.29 L449.20 561.29 L449.70 561.29 L450.20 561.29 L450.70 561.28 L451.20 561.28 L451.70 561.28 L452.20 561.27 L452.70 561.27 L453.20 561.27 L453.70 561.26 L454.20 561.26 L454.70 561.25 L455.20 561.24 L455.70 561.24 L456.20 561.23 L456.70 561.22 L457.20 561.20 L457.70 561.19 L458.20 561.18 L458.70 561.16 L459.20 561.14 L459.70 561.12 L460.20 561.10 L460.70 561.07 L461.20 561.04 L461.70 561.01 L462.20 560.97 L462.70 560.93 L463.20 560.89 L463.70 560.84 L464.20 560.78 L464.70 560.72 L465.20 560.65 L465.70 560.58 L466.20 560.50 L466.70 560.41 L467.20 560.31 L467.70 560.20 L468.20 560.08 L468.70 559.95 L469.20 559.80 L469.70 559.65 L470.20 559.47 L470.70 559.29 L471.20 559.08 L471.70 558.86 L472.20 558.62 L472.70 558.36 L473.20 558.08 L473.70 557.78 L474.20 557.45 L474.70 557.09 L475.20 556.71 L475.70 556.30 L476.20 555.86 L476.70 555.38 L477.20 554.88 L477.70 554.34 L478.20 553.76 L478.70 553.14 L479.20 552.48 L479.70 551.78 L480.20 551.04 L480.70 550.25 L481.20 549.41 L481.70 548.53 L482.20 547.60 L482.70 546.62 L483.20 545.58 L483.70 544.49 L484.20 543.35 L484.70 542.15 L485.20 540.90 L485.70 539.58 L486.20 538.22 L486.70 536.79 L487.20 535.31 L487.70 533.77 L488.20 532.17 L488.70 530.51 L489.20 528.80 L489.70 527.04 L490.20 525.22 L490.70 523.35 L491.20 521.43 L491.70 519.46 L492.20 517.44 L492.70 515.39 L493.20 513.29 L493.70 511.15 L494.20 508.99 L494.70 506.79 L495.20 504.56 L495.70 502.32 L496.20 500.05 L496.70 497.78 L497.20 495.50 L497.70 493.21 L498.20 490.93 L498.70 488.66 L499.20 486.40 L499.70 484.16 L500.20 481.95 L500.70 479.77 L501.20 477.63 L501.70 475.53 L502.20 473.49 L502.70 471.50 L503.20 469.57 L503.70 467.71 L504.20 465.93 L504.70 464.23 L505.20 462.61 L505.70 461.08 L506.20 459.65 L506.70 458.31 L507.20 457.09 L507.70 455.97 L508.20 454.96 L508.70 454.07 L509.20 453.30 L509.70 452.66 L510.20 452.13 L510.70 451.74 L511.20 451.47 L511.70 451.32 L512.20 451.31 L512.70 451.43 L513.20 451.67 L513.70 452.04 L514.20 452.54 L514.70 453.16 L515.20 453.91 L515.70 454.78 L516.20 455.76 L516.70 456.85 L517.20 458.06 L517.70 459.37 L518.20 460.78 L518.70 462.29 L519.20 463.89 L519.70 465.58 L520.20 467.35 L520.70 469.19 L521.20 471.11 L521.70 473.08 L522.20 475.12 L522.70 477.21 L523.20 479.34 L523.70 481.51 L524.20 483.72 L524.70 485.95 L525.20 488.20 L525.70 490.47 L526.20 492.75 L526.70 495.04 L527.20 497.32 L527.70 499.60 L528.20 501.86 L528.70 504.11 L529.20 506.34 L529.70 508.55 L530.20 510.72 L530.70 512.86 L531.20 514.97 L531.70 517.04 L532.20 519.06 L532.70 521.04 L533.20 522.97 L533.70 524.85 L534.20 526.68 L534.70 528.45 L535.20 530.18 L535.70 531.84 L536.20 533.45 L536.70 535.00 L537.20 536.50 L537.70 537.93 L538.20 539.31 L538.70 540.63 L539.20 541.90 L539.70 543.11 L540.20 544.26 L540.70 545.36 L541.20 546.41 L541.70 547.40 L542.20 548.34 L542.70 549.23 L543.20 550.08 L543.70 550.87 L544.20 551.62 L544.70 552.33 L545.20 552.99 L545.70 553.62 L546.20 554.20 L546.70 554.75 L547.20 555.26 L547.70 555.73 L548.20 556.18 L548.70 556.59 L549.20 556.97 L549.70 557.33 L550.20 557.66 L550.70 557.96 L551.20 558.24 L551.70 558.49 L552.20 558.73 L552.70 558.94 L553.20 559.14 L553.70 559.32 L554.20 559.48 L554.70 559.62 L555.20 559.75 L555.70 559.87 L556.20 559.97 L556.70 560.06 L557.20 560.14 L557.70 560.21 L558.20 560.26 L558.70 560.31 L559.20 560.34 L559.70 560.37 L560.20 560.38 L560.70 560.39 L561.20 560.39 L561.70 560.38 L562.20 560.36 L562.70 560.33 L563.20 560.29 L563.70 560.25 L564.20 560.19 L564.70 560.13 L565.20 560.06 L565.70 559.98 L566.20 559.89 L566.70 559.79 L567.20 559.67 L567.70 559.55 L568.20 559.42 L568.70 559.28 L569.20 559.12 L569.70 558.95 L570.20 558.77 L570.70 558.57 L571.20 558.36 L571.70 558.14 L572.20 557.90 L572.70 557.64 L573.20 557.36 L573.70 557.07 L574.20 556.76 L574.70 556.43 L575.20 556.08 L575.70 555.71 L576.20 555.32 L576.70 554.90 L577.20 554.46 L577.70 554.00 L578.20 553.51 L578.70 553.00 L579.20 552.46 L579.70 551.89 L580.20 551.30 L580.70 550.67 L581.20 550.02 L581.70 549.33 L582.20 548.62 L582.70 547.87 L583.20 547.09 L583.70 546.28 L584.20 545.44 L584.70 544.56 L585.20 543.65 L585.70 542.71 L586.20 541.73 L586.70 540.72 L587.20 539.67 L587.70 538.59 L588.20 537.47 L588.70 536.32 L589.20 535.14 L589.70 533.93 L590.20 532.68 L590.70 531.40 L591.20 530.10 L591.70 528.76 L592.20 527.39 L592.70 525.99 L593.20 524.57 L593.70 523.13 L594.20 521.66 L594.70 520.17 L595.20 518.66 L595.70 517.13 L596.20 515.58 L596.70 514.02 L597.20 512.45 L597.70 510.87 L598.20 509.28 L598.70 507.69 L599.20 506.09 L599.70 504.49 L600.20 502.90 L600.70 501.32 L601.20 499.74 L601.70 498.18 L602.20 496.63 L602.70 495.10 L603.20 493.58 L603.70 492.10 L604.20 490.64 L604.70 489.21 L605.20 487.81 L605.70 486.45 L606.20 485.13 L606.70 483.85 L607.20 482.62 L607.70 481.43 L608.20 480.30 L608.70 479.22 L609.20 478.19 L609.70 477.22 L610.20 476.32 L610.70 475.47 L611.20 474.69 L611.70 473.98 L612.20 473.33 L612.70 472.76 L613.20 472.26 L613.70 471.83 L614.20 471.47 L614.70 471.19 L615.20 470.98 L615.70 470.85 L616.20 470.80 L616.70 470.82 L617.20 470.92 L617.70 471.10 L618.20 471.35 L618.70 471.68 L619.20 472.08 L619.70 472.55 L620.20 473.10 L620.70 473.71 L621.20 474.40 L621.70 475.15 L622.20 475.97 L622.70 476.85 L623.20 477.80 L623.70 478.80 L624.20 479.86 L624.70 480.97 L625.20 482.14 L625.70 483.35 L626.20 484.61 L626.70 485.92 L627.20 487.26 L627.70 488.64 L628.20 490.06 L628.70 491.50 L629.20 492.98 L629.70 494.48 L630.20 496.00 L630.70 497.54 L631.20 499.10 L631.70 500.67 L632.20 502.25 L632.70 503.84 L633.20 505.43 L633.70 507.03 L634.20 508.62 L634.70 510.21 L635.20 511.79 L635.70 513.36 L636.20 514.92 L636.70 516.47 L637.20 518.00 L637.70 519.51 L638.20 521.01 L638.70 522.48 L639.20 523.93 L639.70 525.35 L640.20 526.75 L640.70 528.12 L641.20 529.46 L641.70 530.77 L642.20 532.04 L642.70 533.29 L643.20 534.50 L643.70 535.68 L644.20 536.82 L644.70 537.93 L645.20 539.00 L645.70 540.04 L646.20 541.04 L646.70 542.01 L647.20 542.93 L647.70 543.82 L648.20 544.68 L648.70 545.50 L649.20 546.28 L649.70 547.02 L650.20 547.73 L650.70 548.41 L651.20 549.05 L651.70 549.65 L652.20 550.22 L652.70 550.75 L653.20 551.26 L653.70 551.72 L654.20 552.16 L654.70 552.56 L655.20 552.93 L655.70 553.27 L656.20 553.57 L656.70 553.85 L657.20 554.09 L657.70 554.31 L658.20 554.49 L658.70 554.65 L659.20 554.78 L659.70 554.88 L660.20 554.95 L660.70 554.99 L661.20 555.00 L661.70 554.99 L662.20 554.95 L662.70 554.88 L663.20 554.78 L663.70 554.66 L664.20 554.51 L664.70 554.34 L665.20 554.13 L665.70 553.90 L666.20 553.65 L666.70 553.37 L667.20 553.06 L667.70 552.73 L668.20 552.37 L668.70 551.98 L669.20 551.57 L669.70 551.14 L670.20 550.68 L670.70 550.19 L671.20 549.68 L671.70 549.14 L672.20 548.58 L672.70 547.99 L673.20 547.38 L673.70 546.75 L674.20 546.09 L674.70 545.41 L675.20 544.71 L675.70 543.98 L676.20 543.23 L676.70 542.47 L677.20 541.68 L677.70 540.87 L678.20 540.05 L678.70 539.20 L679.20 538.34 L679.70 537.47 L680.20 536.57 L680.70 535.67 L681.20 534.75 L681.70 533.83 L682.20 532.89" fill="none" stroke="#161616" stroke-width="2.9" stroke-linejoin="round"/><text transform="translate(35.37,661.60) scale(1.0697,1)" font-size="15.5" font-weight="normal" fill="#1c1c1c" stroke="#1c1c1c" stroke-width="0.206">100</text><text transform="translate(54.44,866.80) scale(0.8552,1)" font-size="15.5" font-weight="normal" fill="#1c1c1c" stroke="#1c1c1c" stroke-width="0.257">1</text><text transform="translate(61.22,878.40) scale(1.1022,1)" font-size="15.5" font-weight="normal" fill="#1c1c1c" stroke="#1c1c1c" stroke-width="0.200">0</text><text transform="translate(328.68,878.80) scale(1.0063,1)" font-size="15.5" font-weight="normal" fill="#1c1c1c" stroke="#1c1c1c" stroke-width="0.219">500</text><text transform="translate(148.08,887.80) scale(1.0842,1)" font-size="19.5" font-weight="normal" fill="#1c1c1c" stroke="#1c1c1c" stroke-width="0.203">Time (ms)</text><text transform="translate(40.40,820.12) rotate(-90) scale(1.0412,1)" font-size="19.5" font-weight="normal" fill="#1c1c1c" stroke="#1c1c1c" stroke-width="0.211">Neuron No.</text><text transform="translate(190.22,646.40) scale(1.0005,1)" font-size="19.5" font-weight="normal" fill="#1c1c1c" stroke="#1c1c1c" stroke-width="0.220">37</text><text transform="translate(212.03,639.70) scale(1.1145,1)" font-size="10.5" font-weight="normal" fill="#1c1c1c" stroke="#1c1c1c" stroke-width="0.197">o</text><text transform="translate(218.34,646.40) scale(1.0826,1)" font-size="19.5" font-weight="normal" fill="#1c1c1c" stroke="#1c1c1c" stroke-width="0.203">C</text><path d="M70.3 857.8h0M86.3 857.8h0M101.1 857.8h0M117.0 857.8h0M132.5 857.8h0M147.5 857.8h0M162.6 857.8h0M176.7 857.8h0M190.3 857.8h0M203.9 857.8h0M217.9 857.8h0M231.8 857.8h0M245.6 857.8h0M259.5 857.8h0M273.5 857.8h0M287.6 857.8h0M301.5 857.8h0M315.5 857.8h0M329.5 857.8h0M83.0 855.8h0M97.9 855.8h0M113.8 855.8h0M129.5 855.8h0M144.7 855.8h0M160.2 855.8h0M175.1 855.8h0M189.5 855.8h0M203.5 855.8h0M217.8 855.8h0M231.8 855.8h0M245.6 855.8h0M259.5 855.8h0M273.5 855.8h0M287.6 855.8h0M301.5 855.8h0M315.5 855.8h0M329.5 855.8h0M68.4 853.8h0M84.4 853.8h0M99.3 853.8h0M130.9 853.8h0M146.0 853.8h0M161.3 853.8h0M175.9 853.8h0M189.9 853.8h0M203.7 853.8h0M217.8 853.8h0M231.8 853.8h0M245.6 853.8h0M259.5 853.8h0M273.5 853.8h0M287.5 853.8h0M301.5 853.8h0M315.5 853.8h0M329.5 853.8h0M68.8 851.8h0M84.8 851.8h0M99.8 851.8h0M115.7 851.8h0M131.4 851.8h0M146.5 851.8h0M161.7 851.8h0M176.1 851.8h0M190.0 851.8h0M203.7 851.8h0M217.8 851.8h0M231.8 851.8h0M245.6 851.8h0M259.5 851.8h0M273.5 851.8h0M287.5 851.8h0M301.5 851.8h0M315.5 851.8h0M329.5 851.8h0M79.9 849.8h0M94.9 849.8h0M110.9 849.8h0M126.8 849.8h0M142.1 849.8h0M173.7 849.8h0M188.8 849.8h0M203.2 849.8h0M217.7 849.8h0M231.8 849.8h0M245.6 849.8h0M259.5 849.8h0M273.5 849.8h0M287.5 849.8h0M301.5 849.8h0M315.5 849.8h0M329.5 849.8h0M81.7 847.7h0M96.7 847.7h0M112.7 847.7h0M128.6 847.7h0M143.8 847.7h0M159.5 847.7h0M174.7 847.7h0M189.3 847.7h0M203.4 847.7h0M217.7 847.7h0M231.8 847.7h0M245.6 847.7h0M259.5 847.7h0M273.5 847.7h0M287.5 847.7h0M301.5 847.7h0M315.5 847.7h0M329.5 847.7h0M83.4 845.7h0M98.5 845.7h0M114.5 845.7h0M130.2 845.7h0M145.4 845.7h0M160.9 845.7h0M189.7 845.7h0M203.6 845.7h0M217.8 845.7h0M231.8 845.7h0M245.6 845.7h0M259.5 845.7h0M273.5 845.7h0M287.5 845.7h0M301.5 845.7h0M315.5 845.7h0M329.5 845.7h0M85.9 843.7h0M101.0 843.7h0M117.0 843.7h0M147.7 843.7h0M162.8 843.7h0M176.8 843.7h0M190.4 843.7h0M203.8 843.7h0M217.8 843.7h0M231.8 843.7h0M245.6 843.7h0M259.5 843.7h0M273.5 843.7h0M287.5 843.7h0M301.5 843.7h0M315.5 843.7h0M329.5 843.7h0M80.3 841.7h0M95.4 841.7h0M111.4 841.7h0M127.4 841.7h0M142.7 841.7h0M158.6 841.7h0M174.1 841.7h0M189.0 841.7h0M203.3 841.7h0M217.7 841.7h0M231.8 841.7h0M245.6 841.7h0M259.5 841.7h0M273.5 841.7h0M287.5 841.7h0M301.5 841.7h0M315.5 841.7h0M329.5 841.7h0M81.0 839.7h0M96.1 839.7h0M112.2 839.7h0M128.1 839.7h0M143.4 839.7h0M159.2 839.7h0M174.5 839.7h0M189.2 839.7h0M203.4 839.7h0M217.7 839.7h0M231.8 839.7h0M245.6 839.7h0M259.5 839.7h0M273.5 839.7h0M287.5 839.7h0M301.5 839.7h0M315.5 839.7h0M329.5 839.7h0M77.9 837.7h0M93.0 837.7h0M109.1 837.7h0M125.2 837.7h0M140.7 837.7h0M156.9 837.7h0M172.9 837.7h0M188.4 837.7h0M203.1 837.7h0M217.6 837.7h0M231.8 837.7h0M245.6 837.7h0M259.5 837.7h0M273.5 837.7h0M287.5 837.7h0M301.5 837.7h0M315.5 837.7h0M329.5 837.7h0M68.0 835.7h0M84.0 835.7h0M99.2 835.7h0M115.3 835.7h0M131.1 835.7h0M146.3 835.7h0M161.6 835.7h0M176.0 835.7h0M189.9 835.7h0M203.7 835.7h0M217.8 835.7h0M231.8 835.7h0M245.6 835.7h0M259.5 835.7h0M273.5 835.7h0M287.5 835.7h0M301.5 835.7h0M315.5 835.7h0M329.5 835.7h0M67.9 833.7h0M83.9 833.7h0M99.1 833.7h0M115.3 833.7h0M131.1 833.7h0M161.6 833.7h0M176.0 833.7h0M189.9 833.7h0M203.7 833.7h0M217.8 833.7h0M231.7 833.7h0M245.6 833.7h0M259.5 833.7h0M273.5 833.7h0M287.5 833.7h0M301.5 833.7h0M315.5 833.7h0M329.5 833.7h0M78.9 831.6h0M94.1 831.6h0M110.3 831.6h0M126.4 831.6h0M141.8 831.6h0M157.9 831.6h0M188.7 831.6h0M203.2 831.6h0M217.6 831.6h0M231.7 831.6h0M245.6 831.6h0M259.5 831.6h0M273.5 831.6h0M287.5 831.6h0M301.5 831.6h0M315.5 831.6h0M329.5 831.6h0M71.2 829.6h0M87.2 829.6h0M102.5 829.6h0M118.7 829.6h0M134.4 829.6h0M149.4 829.6h0M164.2 829.6h0M177.8 829.6h0M190.8 829.6h0M204.0 829.6h0M217.9 829.6h0M231.7 829.6h0M245.6 829.6h0M259.5 829.6h0M273.5 829.6h0M287.5 829.6h0M301.5 829.6h0M315.5 829.6h0M329.5 829.6h0M69.9 827.6h0M85.9 827.6h0M101.2 827.6h0M117.4 827.6h0M133.2 827.6h0M148.3 827.6h0M163.3 827.6h0M177.1 827.6h0M190.5 827.6h0M203.9 827.6h0M217.8 827.6h0M231.7 827.6h0M245.6 827.6h0M259.5 827.6h0M273.5 827.6h0M287.5 827.6h0M301.5 827.6h0M315.5 827.6h0M329.5 827.6h0M81.8 825.6h0M97.2 825.6h0M113.4 825.6h0M129.4 825.6h0M144.7 825.6h0M160.3 825.6h0M175.2 825.6h0M189.5 825.6h0M203.5 825.6h0M217.7 825.6h0M231.7 825.6h0M245.6 825.6h0M259.5 825.6h0M273.4 825.6h0M287.5 825.6h0M301.5 825.6h0M315.5 825.6h0M329.5 825.6h0M82.1 823.6h0M97.5 823.6h0M113.7 823.6h0M129.7 823.6h0M145.0 823.6h0M160.5 823.6h0M175.3 823.6h0M189.6 823.6h0M203.5 823.6h0M217.7 823.6h0M231.7 823.6h0M245.6 823.6h0M259.5 823.6h0M273.4 823.6h0M287.5 823.6h0M301.5 823.6h0M315.5 823.6h0M329.5 823.6h0M78.8 821.6h0M94.3 821.6h0M110.5 821.6h0M126.7 821.6h0M142.1 821.6h0M158.2 821.6h0M173.7 821.6h0M188.8 821.6h0M203.2 821.6h0M217.6 821.6h0M231.7 821.6h0M245.6 821.6h0M259.5 821.6h0M273.4 821.6h0M287.5 821.6h0M301.5 821.6h0M315.5 821.6h0M329.5 821.6h0M93.8 819.6h0M110.1 819.6h0M126.3 819.6h0M141.8 819.6h0M157.9 819.6h0M173.5 819.6h0M188.7 819.6h0M203.1 819.6h0M217.6 819.6h0M231.7 819.6h0M245.6 819.6h0M259.5 819.6h0M273.4 819.6h0M287.5 819.6h0M301.5 819.6h0M315.5 819.6h0M329.5 819.6h0M97.3 817.6h0M113.7 817.6h0M145.0 817.6h0M160.6 817.6h0M175.3 817.6h0M189.6 817.6h0M203.5 817.6h0M217.7 817.6h0M231.7 817.6h0M245.6 817.6h0M259.5 817.6h0M273.4 817.6h0M287.5 817.6h0M301.5 817.6h0M315.5 817.6h0M329.5 817.6h0M76.3 815.5h0M91.8 815.5h0M108.2 815.5h0M124.5 815.5h0M140.1 815.5h0M156.5 815.5h0M172.6 815.5h0M188.2 815.5h0M202.9 815.5h0M217.5 815.5h0M231.7 815.5h0M245.6 815.5h0M259.5 815.5h0M273.4 815.5h0M287.5 815.5h0M301.5 815.5h0M315.5 815.5h0M329.5 815.5h0M77.1 813.5h0M92.6 813.5h0M109.0 813.5h0M125.2 813.5h0M157.1 813.5h0M173.0 813.5h0M188.4 813.5h0M203.0 813.5h0M217.5 813.5h0M231.7 813.5h0M245.6 813.5h0M259.5 813.5h0M273.4 813.5h0M287.5 813.5h0M301.5 813.5h0M315.5 813.5h0M329.5 813.5h0M78.5 811.5h0M94.1 811.5h0M110.5 811.5h0M126.7 811.5h0M142.2 811.5h0M158.2 811.5h0M173.8 811.5h0M188.8 811.5h0M203.2 811.5h0M217.6 811.5h0M231.7 811.5h0M245.6 811.5h0M259.5 811.5h0M273.4 811.5h0M287.5 811.5h0M301.5 811.5h0M315.5 811.5h0M329.5 811.5h0M77.6 809.5h0M93.1 809.5h0M109.6 809.5h0M125.8 809.5h0M141.4 809.5h0M157.6 809.5h0M173.3 809.5h0M188.6 809.5h0M203.1 809.5h0M217.5 809.5h0M231.7 809.5h0M245.6 809.5h0M259.5 809.5h0M273.4 809.5h0M287.5 809.5h0M301.5 809.5h0M315.5 809.5h0M329.5 809.5h0M81.3 807.5h0M96.9 807.5h0M113.3 807.5h0M129.4 807.5h0M144.8 807.5h0M160.4 807.5h0M175.2 807.5h0M189.5 807.5h0M203.4 807.5h0M217.7 807.5h0M231.7 807.5h0M245.6 807.5h0M259.4 807.5h0M273.4 807.5h0M287.5 807.5h0M301.5 807.5h0M315.5 807.5h0M329.5 807.5h0M79.8 805.5h0M95.5 805.5h0M112.0 805.5h0M128.1 805.5h0M143.6 805.5h0M159.4 805.5h0M174.6 805.5h0M189.2 805.5h0M203.3 805.5h0M217.6 805.5h0M231.7 805.5h0M245.6 805.5h0M259.4 805.5h0M273.4 805.5h0M287.5 805.5h0M301.5 805.5h0M315.5 805.5h0M329.5 805.5h0M82.3 803.5h0M98.0 803.5h0M114.5 803.5h0M130.6 803.5h0M145.9 803.5h0M161.4 803.5h0M175.9 803.5h0M189.8 803.5h0M203.6 803.5h0M217.7 803.5h0M231.7 803.5h0M245.6 803.5h0M259.4 803.5h0M273.4 803.5h0M287.5 803.5h0M301.5 803.5h0M315.5 803.5h0M329.5 803.5h0M80.0 801.5h0M95.7 801.5h0M112.2 801.5h0M128.4 801.5h0M143.9 801.5h0M159.6 801.5h0M174.7 801.5h0M189.2 801.5h0M203.3 801.5h0M217.6 801.5h0M231.7 801.5h0M245.6 801.5h0M259.4 801.5h0M273.4 801.5h0M287.5 801.5h0M301.5 801.5h0M315.5 801.5h0M329.5 801.5h0M82.1 799.4h0M97.8 799.4h0M130.4 799.4h0M145.8 799.4h0M161.3 799.4h0M175.8 799.4h0M189.8 799.4h0M203.5 799.4h0M217.7 799.4h0M231.7 799.4h0M245.6 799.4h0M259.4 799.4h0M273.4 799.4h0M287.5 799.4h0M301.5 799.4h0M315.5 799.4h0M329.5 799.4h0M81.6 797.4h0M97.4 797.4h0M113.9 797.4h0M130.0 797.4h0M145.4 797.4h0M161.0 797.4h0M175.6 797.4h0M189.7 797.4h0M203.5 797.4h0M217.7 797.4h0M231.7 797.4h0M245.6 797.4h0M259.4 797.4h0M273.4 797.4h0M287.5 797.4h0M301.5 797.4h0M315.5 797.4h0M329.5 797.4h0M81.9 795.4h0M97.7 795.4h0M114.3 795.4h0M130.4 795.4h0M145.8 795.4h0M161.3 795.4h0M175.8 795.4h0M189.8 795.4h0M203.5 795.4h0M217.7 795.4h0M231.7 795.4h0M245.6 795.4h0M259.4 795.4h0M273.4 795.4h0M287.5 795.4h0M301.5 795.4h0M315.5 795.4h0M329.5 795.4h0M78.8 793.4h0M94.6 793.4h0M111.2 793.4h0M127.5 793.4h0M143.1 793.4h0M159.0 793.4h0M174.3 793.4h0M189.0 793.4h0M203.2 793.4h0M217.6 793.4h0M231.7 793.4h0M245.5 793.4h0M259.4 793.4h0M273.4 793.4h0M287.5 793.4h0M301.5 793.4h0M315.5 793.4h0M329.5 793.4h0M76.7 791.4h0M92.5 791.4h0M109.2 791.4h0M125.6 791.4h0M141.2 791.4h0M157.5 791.4h0M173.3 791.4h0M188.5 791.4h0M203.0 791.4h0M217.5 791.4h0M231.7 791.4h0M245.5 791.4h0M259.4 791.4h0M273.4 791.4h0M287.5 791.4h0M301.5 791.4h0M315.5 791.4h0M329.5 791.4h0M68.3 789.4h0M84.3 789.4h0M100.2 789.4h0M116.8 789.4h0M132.8 789.4h0M163.2 789.4h0M177.1 789.4h0M190.4 789.4h0M203.8 789.4h0M217.7 789.4h0M231.7 789.4h0M245.5 789.4h0M259.4 789.4h0M273.4 789.4h0M287.5 789.4h0M301.5 789.4h0M315.5 789.4h0M329.5 789.4h0M69.2 787.4h0M85.2 787.4h0M101.2 787.4h0M117.8 787.4h0M133.8 787.4h0M149.1 787.4h0M164.0 787.4h0M177.6 787.4h0M190.7 787.4h0M203.9 787.4h0M217.7 787.4h0M231.7 787.4h0M245.5 787.4h0M259.4 787.4h0M273.4 787.4h0M287.5 787.4h0M301.5 787.4h0M315.5 787.4h0M329.5 787.4h0M83.5 785.4h0M99.5 785.4h0M116.2 785.4h0M132.3 785.4h0M147.6 785.4h0M162.8 785.4h0M176.8 785.4h0M190.2 785.4h0M203.7 785.4h0M217.7 785.4h0M231.7 785.4h0M245.5 785.4h0M259.4 785.4h0M273.4 785.4h0M287.5 785.4h0M301.5 785.4h0M315.5 785.4h0M329.5 785.4h0M81.1 783.4h0M97.1 783.4h0M113.8 783.4h0M130.0 783.4h0M145.5 783.4h0M161.0 783.4h0M175.6 783.4h0M189.7 783.4h0M203.5 783.4h0M217.6 783.4h0M231.6 783.4h0M245.5 783.4h0M259.4 783.4h0M273.4 783.4h0M287.5 783.4h0M301.5 783.4h0M315.5 783.4h0M329.5 783.4h0M76.3 781.3h0M109.0 781.3h0M125.5 781.3h0M141.2 781.3h0M157.5 781.3h0M173.3 781.3h0M188.5 781.3h0M203.0 781.3h0M217.5 781.3h0M231.6 781.3h0M245.5 781.3h0M259.4 781.3h0M273.4 781.3h0M287.5 781.3h0M301.5 781.3h0M315.5 781.3h0M329.5 781.3h0M76.1 779.3h0M92.2 779.3h0M108.9 779.3h0M125.4 779.3h0M141.1 779.3h0M157.4 779.3h0M173.2 779.3h0M188.4 779.3h0M203.0 779.3h0M217.5 779.3h0M231.6 779.3h0M245.5 779.3h0M259.4 779.3h0M273.4 779.3h0M287.5 779.3h0M301.5 779.3h0M315.5 779.3h0M329.5 779.3h0M77.6 777.3h0M93.7 777.3h0M110.5 777.3h0M126.9 777.3h0M142.6 777.3h0M158.6 777.3h0M174.0 777.3h0M188.8 777.3h0M203.1 777.3h0M217.5 777.3h0M231.6 777.3h0M245.5 777.3h0M259.4 777.3h0M273.4 777.3h0M287.5 777.3h0M301.5 777.3h0M315.5 777.3h0M329.5 777.3h0M76.4 775.3h0M92.5 775.3h0M109.3 775.3h0M125.8 775.3h0M141.6 775.3h0M157.8 775.3h0M173.5 775.3h0M188.6 775.3h0M203.0 775.3h0M217.5 775.3h0M231.6 775.3h0M245.5 775.3h0M259.4 775.3h0M273.4 775.3h0M287.5 775.3h0M301.5 775.3h0M315.5 775.3h0M329.5 775.3h0M81.6 773.3h0M97.8 773.3h0M114.6 773.3h0M130.8 773.3h0M146.3 773.3h0M161.7 773.3h0M176.1 773.3h0M189.9 773.3h0M203.5 773.3h0M217.6 773.3h0M231.6 773.3h0M245.5 773.3h0M259.4 773.3h0M273.4 773.3h0M287.5 773.3h0M301.5 773.3h0M315.5 773.3h0M329.5 773.3h0M77.0 771.3h0M93.2 771.3h0M110.1 771.3h0M126.6 771.3h0M142.3 771.3h0M158.4 771.3h0M173.9 771.3h0M188.7 771.3h0M203.1 771.3h0M217.5 771.3h0M231.6 771.3h0M245.5 771.3h0M259.4 771.3h0M273.4 771.3h0M287.5 771.3h0M301.5 771.3h0M315.5 771.3h0M329.5 771.3h0M80.7 769.3h0M96.9 769.3h0M113.8 769.3h0M130.1 769.3h0M145.6 769.3h0M161.2 769.3h0M189.7 769.3h0M203.4 769.3h0M217.6 769.3h0M231.6 769.3h0M245.5 769.3h0M259.4 769.3h0M273.4 769.3h0M287.5 769.3h0M301.5 769.3h0M315.5 769.3h0M329.5 769.3h0M77.4 767.3h0M93.7 767.3h0M110.6 767.3h0M127.0 767.3h0M142.7 767.3h0M158.8 767.3h0M174.1 767.3h0M188.9 767.3h0M203.1 767.3h0M217.5 767.3h0M231.6 767.3h0M245.5 767.3h0M259.4 767.3h0M273.4 767.3h0M287.5 767.3h0M301.5 767.3h0M315.5 767.3h0M329.5 767.3h0M67.6 765.2h0M83.6 765.2h0M99.9 765.2h0M116.9 765.2h0M133.0 765.2h0M163.5 765.2h0M177.3 765.2h0M190.5 765.2h0M203.8 765.2h0M217.7 765.2h0M231.6 765.2h0M245.5 765.2h0M259.4 765.2h0M273.4 765.2h0M287.5 765.2h0M301.5 765.2h0M315.5 765.2h0M329.5 765.2h0M82.3 763.2h0M98.7 763.2h0M115.6 763.2h0M131.9 763.2h0M147.3 763.2h0M162.6 763.2h0M176.7 763.2h0M190.1 763.2h0M203.6 763.2h0M217.6 763.2h0M231.6 763.2h0M245.5 763.2h0M259.4 763.2h0M273.4 763.2h0M287.5 763.2h0M301.5 763.2h0M315.5 763.2h0M329.5 763.2h0M73.3 761.2h0M89.7 761.2h0M106.7 761.2h0M123.4 761.2h0M139.3 761.2h0M155.9 761.2h0M172.2 761.2h0M187.9 761.2h0M202.7 761.2h0M217.4 761.2h0M231.6 761.2h0M245.5 761.2h0M259.4 761.2h0M273.4 761.2h0M287.5 761.2h0M301.5 761.2h0M315.5 761.2h0M329.5 761.2h0M74.1 759.2h0M90.5 759.2h0M107.4 759.2h0M140.0 759.2h0M156.5 759.2h0M172.6 759.2h0M188.1 759.2h0M202.8 759.2h0M217.4 759.2h0M231.6 759.2h0M245.5 759.2h0M259.4 759.2h0M273.4 759.2h0M287.5 759.2h0M301.5 759.2h0M315.5 759.2h0M329.5 759.2h0M81.1 757.2h0M97.5 757.2h0M114.6 757.2h0M130.9 757.2h0M146.4 757.2h0M161.9 757.2h0M189.9 757.2h0M203.5 757.2h0M217.6 757.2h0M231.6 757.2h0M245.5 757.2h0M259.4 757.2h0M273.4 757.2h0M287.5 757.2h0M301.5 757.2h0M315.5 757.2h0M329.5 757.2h0M78.1 755.2h0M94.5 755.2h0M111.5 755.2h0M128.0 755.2h0M143.8 755.2h0M159.6 755.2h0M174.7 755.2h0M189.1 755.2h0M203.2 755.2h0M217.5 755.2h0M231.6 755.2h0M245.5 755.2h0M259.4 755.2h0M273.4 755.2h0M287.5 755.2h0M301.5 755.2h0M315.5 755.2h0M329.5 755.2h0M83.6 753.2h0M100.0 753.2h0M117.1 753.2h0M133.3 753.2h0M148.8 753.2h0M163.8 753.2h0M177.5 753.2h0M190.5 753.2h0M203.8 753.2h0M217.7 753.2h0M231.6 753.2h0M245.5 753.2h0M259.4 753.2h0M273.4 753.2h0M287.5 753.2h0M301.5 753.2h0M315.5 753.2h0M329.5 753.2h0M77.0 751.2h0M93.5 751.2h0M110.6 751.2h0M127.2 751.2h0M142.9 751.2h0M159.0 751.2h0M174.2 751.2h0M188.9 751.2h0M203.1 751.2h0M217.5 751.2h0M231.6 751.2h0M245.5 751.2h0M259.4 751.2h0M273.4 751.2h0M287.5 751.2h0M301.5 751.2h0M315.5 751.2h0M329.5 751.2h0M72.8 749.1h0M89.3 749.1h0M106.4 749.1h0M123.3 749.1h0M139.2 749.1h0M172.2 749.1h0M187.9 749.1h0M202.7 749.1h0M217.3 749.1h0M231.6 749.1h0M245.5 749.1h0M259.4 749.1h0M273.4 749.1h0M287.5 749.1h0M301.5 749.1h0M315.5 749.1h0M329.5 749.1h0M77.4 747.1h0M94.0 747.1h0M111.1 747.1h0M127.7 747.1h0M143.5 747.1h0M159.4 747.1h0M174.5 747.1h0M189.1 747.1h0M203.2 747.1h0M217.5 747.1h0M231.6 747.1h0M245.5 747.1h0M259.4 747.1h0M273.4 747.1h0M287.5 747.1h0M301.5 747.1h0M315.5 747.1h0M329.5 747.1h0M79.8 745.1h0M96.4 745.1h0M113.5 745.1h0M130.0 745.1h0M145.7 745.1h0M161.2 745.1h0M175.8 745.1h0M189.7 745.1h0M203.4 745.1h0M217.5 745.1h0M231.6 745.1h0M245.5 745.1h0M259.4 745.1h0M273.4 745.1h0M287.5 745.1h0M301.5 745.1h0M315.5 745.1h0M329.5 745.1h0M76.1 743.1h0M109.9 743.1h0M126.6 743.1h0M142.4 743.1h0M158.5 743.1h0M173.9 743.1h0M188.7 743.1h0M203.0 743.1h0M217.4 743.1h0M231.6 743.1h0M245.5 743.1h0M259.4 743.1h0M273.4 743.1h0M287.5 743.1h0M301.5 743.1h0M315.5 743.1h0M329.5 743.1h0M74.1 741.1h0M90.8 741.1h0M108.0 741.1h0M124.8 741.1h0M140.7 741.1h0M157.1 741.1h0M173.0 741.1h0M188.3 741.1h0M202.8 741.1h0M217.4 741.1h0M231.6 741.1h0M245.5 741.1h0M259.4 741.1h0M273.4 741.1h0M287.5 741.1h0M301.5 741.1h0M315.5 741.1h0M329.5 741.1h0M75.2 739.1h0M91.9 739.1h0M109.1 739.1h0M125.8 739.1h0M141.7 739.1h0M158.0 739.1h0M173.6 739.1h0M188.6 739.1h0M203.0 739.1h0M217.4 739.1h0M231.6 739.1h0M245.5 739.1h0M259.4 739.1h0M273.4 739.1h0M287.5 739.1h0M301.5 739.1h0M315.5 739.1h0M329.5 739.1h0M79.8 737.1h0M96.5 737.1h0M113.8 737.1h0M130.3 737.1h0M146.0 737.1h0M161.5 737.1h0M175.9 737.1h0M189.7 737.1h0M203.4 737.1h0M217.5 737.1h0M231.6 737.1h0M245.5 737.1h0M259.4 737.1h0M273.4 737.1h0M287.5 737.1h0M301.5 737.1h0M315.5 737.1h0M329.5 737.1h0M78.5 735.1h0M95.3 735.1h0M112.5 735.1h0M129.1 735.1h0M144.9 735.1h0M160.6 735.1h0M175.3 735.1h0M189.4 735.1h0M203.3 735.1h0M217.5 735.1h0M231.6 735.1h0M245.5 735.1h0M259.4 735.1h0M273.4 735.1h0M287.5 735.1h0M301.5 735.1h0M315.5 735.1h0M329.5 735.1h0M73.6 733.0h0M90.4 733.0h0M107.7 733.0h0M124.5 733.0h0M140.5 733.0h0M157.0 733.0h0M188.2 733.0h0M202.8 733.0h0M217.3 733.0h0M231.6 733.0h0M245.5 733.0h0M259.4 733.0h0M273.4 733.0h0M287.5 733.0h0M301.5 733.0h0M315.5 733.0h0M329.5 733.0h0M75.6 731.0h0M92.4 731.0h0M109.7 731.0h0M126.5 731.0h0M142.4 731.0h0M158.5 731.0h0M173.9 731.0h0M188.7 731.0h0M203.0 731.0h0M217.4 731.0h0M231.5 731.0h0M245.5 731.0h0M259.4 731.0h0M273.4 731.0h0M287.5 731.0h0M301.5 731.0h0M315.5 731.0h0M329.5 731.0h0M73.0 729.0h0M89.9 729.0h0M107.2 729.0h0M124.1 729.0h0M140.2 729.0h0M156.7 729.0h0M172.7 729.0h0M188.1 729.0h0M202.8 729.0h0M217.3 729.0h0M231.5 729.0h0M245.5 729.0h0M259.4 729.0h0M273.4 729.0h0M287.5 729.0h0M301.5 729.0h0M315.5 729.0h0M329.5 729.0h0M71.5 727.0h0M88.3 727.0h0M105.7 727.0h0M122.7 727.0h0M138.8 727.0h0M155.6 727.0h0M172.0 727.0h0M187.7 727.0h0M202.6 727.0h0M217.3 727.0h0M231.5 727.0h0M245.5 727.0h0M259.4 727.0h0M273.4 727.0h0M287.5 727.0h0M301.5 727.0h0M315.5 727.0h0M329.5 727.0h0M77.8 725.0h0M94.7 725.0h0M112.0 725.0h0M128.7 725.0h0M144.5 725.0h0M160.3 725.0h0M175.1 725.0h0M189.3 725.0h0M203.2 725.0h0M217.5 725.0h0M231.5 725.0h0M245.5 725.0h0M259.4 725.0h0M273.4 725.0h0M287.5 725.0h0M301.5 725.0h0M315.5 725.0h0M329.5 725.0h0M73.0 723.0h0M90.0 723.0h0M107.4 723.0h0M124.3 723.0h0M140.4 723.0h0M156.9 723.0h0M172.8 723.0h0M188.2 723.0h0M202.8 723.0h0M217.3 723.0h0M231.5 723.0h0M245.5 723.0h0M259.4 723.0h0M273.4 723.0h0M287.5 723.0h0M301.5 723.0h0M315.5 723.0h0M329.5 723.0h0M77.5 721.0h0M94.5 721.0h0M111.9 721.0h0M128.7 721.0h0M144.5 721.0h0M160.3 721.0h0M175.1 721.0h0M189.3 721.0h0M203.2 721.0h0M217.4 721.0h0M231.5 721.0h0M245.4 721.0h0M259.4 721.0h0M273.4 721.0h0M287.5 721.0h0M301.5 721.0h0M315.5 721.0h0M329.5 721.0h0M76.2 719.0h0M93.2 719.0h0M110.7 719.0h0M127.5 719.0h0M143.4 719.0h0M159.4 719.0h0M174.5 719.0h0M189.0 719.0h0M203.1 719.0h0M217.4 719.0h0M231.5 719.0h0M245.4 719.0h0M259.4 719.0h0M273.4 719.0h0M287.5 719.0h0M301.5 719.0h0M315.5 719.0h0M329.5 719.0h0M72.7 717.0h0M89.7 717.0h0M107.2 717.0h0M124.1 717.0h0M140.2 717.0h0M156.8 717.0h0M172.8 717.0h0M188.1 717.0h0M202.7 717.0h0M217.3 717.0h0M231.5 717.0h0M245.4 717.0h0M259.4 717.0h0M273.4 717.0h0M287.5 717.0h0M301.5 717.0h0M315.5 717.0h0M329.5 717.0h0M76.4 714.9h0M93.5 714.9h0M127.8 714.9h0M143.7 714.9h0M159.7 714.9h0M174.7 714.9h0M189.1 714.9h0M203.1 714.9h0M217.4 714.9h0M231.5 714.9h0M245.4 714.9h0M259.4 714.9h0M273.4 714.9h0M287.5 714.9h0M301.5 714.9h0M315.5 714.9h0M329.5 714.9h0M71.5 712.9h0M88.6 712.9h0M106.1 712.9h0M123.2 712.9h0M139.3 712.9h0M156.0 712.9h0M172.3 712.9h0M187.9 712.9h0M202.6 712.9h0M217.3 712.9h0M231.5 712.9h0M245.4 712.9h0M259.4 712.9h0M273.4 712.9h0M287.5 712.9h0M301.5 712.9h0M315.5 712.9h0M329.5 712.9h0M77.2 710.9h0M94.3 710.9h0M111.9 710.9h0M128.7 710.9h0M144.5 710.9h0M160.4 710.9h0M175.2 710.9h0M189.3 710.9h0M203.2 710.9h0M217.4 710.9h0M231.5 710.9h0M245.4 710.9h0M259.4 710.9h0M273.4 710.9h0M287.5 710.9h0M301.5 710.9h0M315.5 710.9h0M329.5 710.9h0M73.2 708.9h0M90.3 708.9h0M107.9 708.9h0M124.9 708.9h0M141.0 708.9h0M157.4 708.9h0M173.2 708.9h0M188.3 708.9h0M202.8 708.9h0M217.3 708.9h0M231.5 708.9h0M245.4 708.9h0M259.4 708.9h0M273.4 708.9h0M287.5 708.9h0M301.5 708.9h0M315.5 708.9h0M329.5 708.9h0M74.8 706.9h0M92.0 706.9h0M109.5 706.9h0M126.5 706.9h0M142.5 706.9h0M158.7 706.9h0M174.0 706.9h0M188.7 706.9h0M203.0 706.9h0M217.3 706.9h0M231.5 706.9h0M245.4 706.9h0M259.3 706.9h0M273.4 706.9h0M287.5 706.9h0M301.5 706.9h0M315.5 706.9h0M329.5 706.9h0M71.6 704.9h0M88.9 704.9h0M106.5 704.9h0M123.6 704.9h0M139.8 704.9h0M156.4 704.9h0M172.5 704.9h0M188.0 704.9h0M202.7 704.9h0M217.3 704.9h0M231.5 704.9h0M245.4 704.9h0M259.3 704.9h0M273.4 704.9h0M287.5 704.9h0M301.5 704.9h0M315.5 704.9h0M329.5 704.9h0M71.7 702.9h0M89.0 702.9h0M106.6 702.9h0M123.7 702.9h0M139.9 702.9h0M156.5 702.9h0M172.6 702.9h0M188.0 702.9h0M202.7 702.9h0M217.3 702.9h0M231.5 702.9h0M245.4 702.9h0M259.3 702.9h0M273.4 702.9h0M287.5 702.9h0M301.5 702.9h0M315.5 702.9h0M329.5 702.9h0M79.1 700.9h0M96.4 700.9h0M114.1 700.9h0M130.8 700.9h0M146.6 700.9h0M162.1 700.9h0M176.3 700.9h0M189.9 700.9h0M203.4 700.9h0M217.5 700.9h0M231.5 700.9h0M245.4 700.9h0M259.3 700.9h0M273.4 700.9h0M287.5 700.9h0M301.5 700.9h0M315.5 700.9h0M329.5 700.9h0M78.6 698.8h0M95.9 698.8h0M113.5 698.8h0M130.3 698.8h0M146.2 698.8h0M161.8 698.8h0M176.1 698.8h0M189.7 698.8h0M203.4 698.8h0M217.5 698.8h0M231.5 698.8h0M245.4 698.8h0M259.3 698.8h0M273.4 698.8h0M287.5 698.8h0M301.5 698.8h0M315.5 698.8h0M329.5 698.8h0M73.7 696.8h0M91.0 696.8h0M108.7 696.8h0M125.8 696.8h0M141.9 696.8h0M158.2 696.8h0M173.7 696.8h0M188.5 696.8h0M202.9 696.8h0M217.3 696.8h0M231.5 696.8h0M245.4 696.8h0M259.3 696.8h0M273.4 696.8h0M287.5 696.8h0M301.5 696.8h0M315.5 696.8h0M329.5 696.8h0M77.8 694.8h0M95.2 694.8h0M112.9 694.8h0M129.8 694.8h0M145.7 694.8h0M161.3 694.8h0M175.8 694.8h0M189.6 694.8h0M203.3 694.8h0M217.4 694.8h0M231.5 694.8h0M245.4 694.8h0M259.3 694.8h0M273.4 694.8h0M287.5 694.8h0M301.5 694.8h0M315.5 694.8h0M329.5 694.8h0M70.4 692.8h0M87.8 692.8h0M105.6 692.8h0M122.8 692.8h0M139.1 692.8h0M155.8 692.8h0M172.1 692.8h0M187.8 692.8h0M202.6 692.8h0M217.2 692.8h0M231.5 692.8h0M245.4 692.8h0M259.3 692.8h0M273.4 692.8h0M287.5 692.8h0M301.5 692.8h0M315.5 692.8h0M329.5 692.8h0M72.7 690.8h0M90.2 690.8h0M107.9 690.8h0M125.0 690.8h0M157.6 690.8h0M173.3 690.8h0M188.3 690.8h0M202.8 690.8h0M217.3 690.8h0M231.5 690.8h0M245.4 690.8h0M259.3 690.8h0M273.4 690.8h0M287.5 690.8h0M301.5 690.8h0M315.5 690.8h0M329.5 690.8h0M77.9 688.8h0M95.4 688.8h0M113.2 688.8h0M130.1 688.8h0M146.0 688.8h0M161.6 688.8h0M176.0 688.8h0M189.7 688.8h0M203.3 688.8h0M217.4 688.8h0M231.5 688.8h0M245.4 688.8h0M259.3 688.8h0M273.3 688.8h0M287.5 688.8h0M301.5 688.8h0M315.5 688.8h0M329.5 688.8h0M76.8 686.8h0M94.3 686.8h0M112.1 686.8h0M129.0 686.8h0M145.0 686.8h0M160.8 686.8h0M175.4 686.8h0M189.4 686.8h0M203.2 686.8h0M217.4 686.8h0M231.5 686.8h0M245.4 686.8h0M259.3 686.8h0M273.3 686.8h0M287.5 686.8h0M301.5 686.8h0M315.5 686.8h0M329.5 686.8h0M70.6 684.8h0M88.1 684.8h0M106.0 684.8h0M123.2 684.8h0M139.5 684.8h0M156.2 684.8h0M172.4 684.8h0M187.9 684.8h0M202.6 684.8h0M217.2 684.8h0M231.5 684.8h0M245.4 684.8h0M259.3 684.8h0M273.3 684.8h0M287.5 684.8h0M301.5 684.8h0M315.5 684.8h0M329.5 684.8h0M77.6 682.7h0M95.1 682.7h0M113.0 682.7h0M129.9 682.7h0M145.9 682.7h0M161.5 682.7h0M175.9 682.7h0M189.6 682.7h0M203.3 682.7h0M217.4 682.7h0M231.5 682.7h0M245.4 682.7h0M259.3 682.7h0M273.3 682.7h0M287.5 682.7h0M301.5 682.7h0M315.5 682.7h0M329.5 682.7h0M69.9 680.7h0M87.6 680.7h0M105.4 680.7h0M122.7 680.7h0M139.1 680.7h0M155.9 680.7h0M172.1 680.7h0M187.7 680.7h0M202.5 680.7h0M217.2 680.7h0M231.4 680.7h0M245.4 680.7h0M259.3 680.7h0M273.3 680.7h0M287.5 680.7h0M301.5 680.7h0M315.5 680.7h0M329.5 680.7h0M71.3 678.7h0M89.0 678.7h0M106.9 678.7h0M124.1 678.7h0M140.4 678.7h0M157.0 678.7h0M172.9 678.7h0M188.1 678.7h0M202.7 678.7h0M217.2 678.7h0M231.4 678.7h0M245.4 678.7h0M259.3 678.7h0M273.3 678.7h0M287.5 678.7h0M301.5 678.7h0M315.5 678.7h0M329.5 678.7h0M77.0 676.7h0M94.7 676.7h0M112.6 676.7h0M129.6 676.7h0M145.6 676.7h0M161.3 676.7h0M175.8 676.7h0M189.6 676.7h0M203.2 676.7h0M217.4 676.7h0M231.4 676.7h0M245.4 676.7h0M259.3 676.7h0M273.3 676.7h0M287.5 676.7h0M301.5 676.7h0M315.5 676.7h0M329.5 676.7h0M72.7 674.7h0M90.4 674.7h0M108.3 674.7h0M125.5 674.7h0M141.8 674.7h0M158.1 674.7h0M173.6 674.7h0M188.5 674.7h0M202.8 674.7h0M217.2 674.7h0M231.4 674.7h0M245.4 674.7h0M259.3 674.7h0M273.3 674.7h0M287.5 674.7h0M301.5 674.7h0M315.5 674.7h0M329.5 674.7h0M71.2 672.7h0M88.9 672.7h0M106.9 672.7h0M124.2 672.7h0M140.5 672.7h0M157.0 672.7h0M172.9 672.7h0M188.1 672.7h0M202.7 672.7h0M217.2 672.7h0M231.4 672.7h0M245.4 672.7h0M259.3 672.7h0M273.3 672.7h0M287.5 672.7h0M301.5 672.7h0M315.5 672.7h0M329.5 672.7h0M85.7 670.7h0M103.7 670.7h0M121.1 670.7h0M137.6 670.7h0M154.7 670.7h0M171.3 670.7h0M187.3 670.7h0M202.3 670.7h0M217.1 670.7h0M231.4 670.7h0M245.4 670.7h0M259.3 670.7h0M273.3 670.7h0M287.5 670.7h0M301.5 670.7h0M315.5 670.7h0M329.5 670.7h0M68.7 668.7h0M86.5 668.7h0M104.5 668.7h0M121.9 668.7h0M138.4 668.7h0M155.3 668.7h0M171.7 668.7h0M187.5 668.7h0M202.4 668.7h0M217.1 668.7h0M231.4 668.7h0M245.4 668.7h0M259.3 668.7h0M273.3 668.7h0M287.5 668.7h0M301.5 668.7h0M315.5 668.7h0M329.5 668.7h0M74.2 666.6h0M92.0 666.6h0M110.1 666.6h0M127.2 666.6h0M143.4 666.6h0M159.5 666.6h0M174.5 666.6h0M188.9 666.6h0M203.0 666.6h0M217.3 666.6h0M231.4 666.6h0M245.4 666.6h0M259.3 666.6h0M273.3 666.6h0M287.5 666.6h0M301.5 666.6h0M315.5 666.6h0M329.5 666.6h0M71.9 664.6h0M89.7 664.6h0M107.8 664.6h0M125.1 664.6h0M141.4 664.6h0M157.8 664.6h0M173.4 664.6h0M188.4 664.6h0M202.7 664.6h0M217.2 664.6h0M231.4 664.6h0M245.4 664.6h0M259.3 664.6h0M273.3 664.6h0M287.5 664.6h0M301.5 664.6h0M315.5 664.6h0M329.5 664.6h0M74.0 662.6h0M91.9 662.6h0M109.9 662.6h0M127.2 662.6h0M143.3 662.6h0M159.4 662.6h0M188.9 662.6h0M203.0 662.6h0M217.3 662.6h0M231.4 662.6h0M245.4 662.6h0M259.3 662.6h0M273.3 662.6h0M287.5 662.6h0M301.5 662.6h0M315.5 662.6h0M329.5 662.6h0M70.7 660.6h0M88.6 660.6h0M106.7 660.6h0M124.1 660.6h0M140.4 660.6h0M157.0 660.6h0M172.9 660.6h0M188.1 660.6h0M202.6 660.6h0M217.2 660.6h0M231.4 660.6h0M245.4 660.6h0M259.3 660.6h0M273.3 660.6h0M287.4 660.6h0M301.5 660.6h0M315.5 660.6h0M329.5 660.6h0M70.9 658.6h0M88.9 658.6h0M107.0 658.6h0M124.4 658.6h0M140.7 658.6h0M157.3 658.6h0M173.1 658.6h0M188.2 658.6h0M202.7 658.6h0M217.2 658.6h0M231.4 658.6h0M245.4 658.6h0M259.3 658.6h0M273.3 658.6h0M287.4 658.6h0M301.5 658.6h0M315.5 658.6h0M329.5 658.6h0M165.7 797.0h0M184.8 797.0h0M179.6 838.5h0M198.6 838.5h0M190.5 833.0h0M196.0 790.0h0" stroke="#111" stroke-width="2.0" fill="none" stroke-linecap="round"/><path d="M66.0 658.5 V861.5" fill="none" stroke="#111" stroke-width="3.0"/><path d="M64.5 861.5 H336.3" fill="none" stroke="#111" stroke-width="2.4"/><line x1="65.0" y1="658.8" x2="68.5" y2="658.8" stroke="#111" stroke-width="1.4"/><text transform="translate(378.90,661.50) scale(1.0447,1)" font-size="15.5" font-weight="normal" fill="#1c1c1c" stroke="#1c1c1c" stroke-width="0.211">100</text><text transform="translate(397.96,867.30) scale(0.8402,1)" font-size="15.5" font-weight="normal" fill="#1c1c1c" stroke="#1c1c1c" stroke-width="0.262">1</text><text transform="translate(405.23,878.20) scale(1.2366,1)" font-size="15.5" font-weight="normal" fill="#1c1c1c" stroke="#1c1c1c" stroke-width="0.178">0</text><text transform="translate(668.23,878.80) scale(1.0753,1)" font-size="15.5" font-weight="normal" fill="#1c1c1c" stroke="#1c1c1c" stroke-width="0.205">500</text><text transform="translate(503.28,887.70) scale(1.0701,1)" font-size="19.5" font-weight="normal" fill="#1c1c1c" stroke="#1c1c1c" stroke-width="0.206">Time (ms)</text><text transform="translate(384.90,820.14) rotate(-90) scale(1.0507,1)" font-size="19.5" font-weight="normal" fill="#1c1c1c" stroke="#1c1c1c" stroke-width="0.209">Neuron No</text><text transform="translate(384.90,718.63) rotate(-90) scale(1.3846,1)" font-size="19.5" font-weight="normal" fill="#1c1c1c" stroke="#1c1c1c" stroke-width="0.159">.</text><text transform="translate(526.42,646.40) scale(1.0005,1)" font-size="19.5" font-weight="normal" fill="#1c1c1c" stroke="#1c1c1c" stroke-width="0.220">39</text><text transform="translate(548.23,639.70) scale(1.1145,1)" font-size="10.5" font-weight="normal" fill="#1c1c1c" stroke="#1c1c1c" stroke-width="0.197">o</text><text transform="translate(554.54,646.40) scale(1.0826,1)" font-size="19.5" font-weight="normal" fill="#1c1c1c" stroke="#1c1c1c" stroke-width="0.203">C</text><path d="M412.5 858.8h0M421.6 858.8h0M430.8 858.8h0M442.4 858.8h0M454.1 858.8h0M465.8 858.8h0M477.4 858.8h0M489.1 858.8h0M500.8 858.8h0M512.5 858.8h0M524.2 858.8h0M535.9 858.8h0M547.6 858.8h0M559.2 858.8h0M570.9 858.8h0M582.6 858.8h0M594.3 858.8h0M606.0 858.8h0M617.7 858.8h0M629.4 858.8h0M641.0 858.8h0M652.7 858.8h0M664.4 858.8h0M676.1 858.8h0M410.9 856.8h0M418.8 856.8h0M430.3 856.8h0M442.4 856.8h0M454.1 856.8h0M465.8 856.8h0M477.4 856.8h0M489.1 856.8h0M500.8 856.8h0M512.5 856.8h0M524.2 856.8h0M535.9 856.8h0M547.6 856.8h0M559.2 856.8h0M570.9 856.8h0M582.6 856.8h0M594.3 856.8h0M606.0 856.8h0M617.7 856.8h0M629.4 856.8h0M641.0 856.8h0M652.7 856.8h0M664.4 856.8h0M676.1 856.8h0M411.7 854.8h0M418.6 854.8h0M430.0 854.8h0M442.4 854.8h0M454.1 854.8h0M465.8 854.8h0M477.4 854.8h0M489.1 854.8h0M500.8 854.8h0M512.5 854.8h0M524.2 854.8h0M535.9 854.8h0M547.6 854.8h0M559.2 854.8h0M570.9 854.8h0M582.6 854.8h0M594.3 854.8h0M606.0 854.8h0M617.7 854.8h0M629.4 854.8h0M641.0 854.8h0M652.7 854.8h0M664.4 854.8h0M676.1 854.8h0M411.2 852.8h0M419.9 852.8h0M430.5 852.8h0M442.4 852.8h0M454.1 852.8h0M465.8 852.8h0M477.4 852.8h0M489.1 852.8h0M500.8 852.8h0M512.5 852.8h0M524.2 852.8h0M535.9 852.8h0M547.6 852.8h0M559.2 852.8h0M570.9 852.8h0M582.6 852.8h0M594.3 852.8h0M606.0 852.8h0M617.7 852.8h0M629.4 852.8h0M641.0 852.8h0M652.7 852.8h0M664.4 852.8h0M676.1 852.8h0M422.7 850.7h0M431.3 850.7h0M442.4 850.7h0M454.1 850.7h0M465.8 850.7h0M477.4 850.7h0M489.1 850.7h0M500.8 850.7h0M512.5 850.7h0M524.2 850.7h0M535.9 850.7h0M547.6 850.7h0M559.2 850.7h0M570.9 850.7h0M582.6 850.7h0M594.3 850.7h0M606.0 850.7h0M617.7 850.7h0M629.4 850.7h0M641.0 850.7h0M652.7 850.7h0M664.4 850.7h0M676.1 850.7h0M413.3 848.7h0M424.0 848.7h0M431.2 848.7h0M442.4 848.7h0M454.1 848.7h0M465.8 848.7h0M477.4 848.7h0M489.1 848.7h0M500.8 848.7h0M512.5 848.7h0M524.2 848.7h0M535.9 848.7h0M547.6 848.7h0M559.2 848.7h0M570.9 848.7h0M582.6 848.7h0M594.3 848.7h0M606.0 848.7h0M617.7 848.7h0M629.4 848.7h0M641.0 848.7h0M652.7 848.7h0M664.4 848.7h0M676.1 848.7h0M413.1 846.7h0M423.0 846.7h0M430.7 846.7h0M442.4 846.7h0M454.1 846.7h0M465.8 846.7h0M477.4 846.7h0M489.1 846.7h0M500.8 846.7h0M512.5 846.7h0M524.2 846.7h0M535.9 846.7h0M547.6 846.7h0M559.2 846.7h0M570.9 846.7h0M582.6 846.7h0M594.3 846.7h0M606.0 846.7h0M617.7 846.7h0M629.4 846.7h0M641.0 846.7h0M652.7 846.7h0M664.4 846.7h0M676.1 846.7h0M411.3 844.7h0M419.2 844.7h0M430.7 844.7h0M442.4 844.7h0M454.1 844.7h0M465.8 844.7h0M477.4 844.7h0M489.1 844.7h0M500.8 844.7h0M512.5 844.7h0M524.2 844.7h0M535.9 844.7h0M547.6 844.7h0M559.2 844.7h0M570.9 844.7h0M582.6 844.7h0M594.3 844.7h0M606.0 844.7h0M617.7 844.7h0M629.4 844.7h0M641.0 844.7h0M652.7 844.7h0M664.4 844.7h0M676.1 844.7h0M410.4 842.7h0M419.3 842.7h0M430.2 842.7h0M442.4 842.7h0M454.1 842.7h0M465.8 842.7h0M477.4 842.7h0M489.1 842.7h0M500.8 842.7h0M512.5 842.7h0M524.2 842.7h0M535.9 842.7h0M547.6 842.7h0M559.2 842.7h0M570.9 842.7h0M582.6 842.7h0M594.3 842.7h0M606.0 842.7h0M617.7 842.7h0M629.4 842.7h0M641.0 842.7h0M652.7 842.7h0M664.4 842.7h0M676.1 842.7h0M412.7 840.7h0M421.2 840.7h0M430.5 840.7h0M442.4 840.7h0M454.1 840.7h0M465.8 840.7h0M477.4 840.7h0M489.1 840.7h0M500.8 840.7h0M512.5 840.7h0M524.2 840.7h0M535.9 840.7h0M547.6 840.7h0M559.2 840.7h0M570.9 840.7h0M582.6 840.7h0M594.3 840.7h0M606.0 840.7h0M617.7 840.7h0M629.4 840.7h0M641.0 840.7h0M652.7 840.7h0M664.4 840.7h0M676.1 840.7h0M413.3 838.6h0M422.4 838.6h0M430.9 838.6h0M442.4 838.6h0M454.1 838.6h0M465.8 838.6h0M477.4 838.6h0M489.1 838.6h0M500.8 838.6h0M512.5 838.6h0M524.2 838.6h0M535.9 838.6h0M547.6 838.6h0M559.2 838.6h0M570.9 838.6h0M582.6 838.6h0M594.3 838.6h0M606.0 838.6h0M617.7 838.6h0M629.4 838.6h0M641.0 838.6h0M652.7 838.6h0M664.4 838.6h0M676.1 838.6h0M423.8 836.6h0M431.0 836.6h0M442.4 836.6h0M454.1 836.6h0M465.8 836.6h0M477.4 836.6h0M489.1 836.6h0M500.8 836.6h0M512.5 836.6h0M524.2 836.6h0M535.9 836.6h0M547.6 836.6h0M559.2 836.6h0M570.9 836.6h0M582.6 836.6h0M594.3 836.6h0M606.0 836.6h0M617.7 836.6h0M629.4 836.6h0M641.0 836.6h0M652.7 836.6h0M664.4 836.6h0M676.1 836.6h0M410.9 834.6h0M422.6 834.6h0M430.9 834.6h0M442.4 834.6h0M454.1 834.6h0M465.8 834.6h0M477.4 834.6h0M489.1 834.6h0M500.8 834.6h0M512.5 834.6h0M524.2 834.6h0M535.9 834.6h0M547.6 834.6h0M559.2 834.6h0M570.9 834.6h0M582.6 834.6h0M594.3 834.6h0M606.0 834.6h0M617.7 834.6h0M629.4 834.6h0M641.0 834.6h0M652.7 834.6h0M664.4 834.6h0M676.1 834.6h0M412.6 832.6h0M420.1 832.6h0M430.6 832.6h0M442.4 832.6h0M454.1 832.6h0M465.8 832.6h0M477.4 832.6h0M489.1 832.6h0M500.8 832.6h0M512.5 832.6h0M524.2 832.6h0M535.9 832.6h0M547.6 832.6h0M559.2 832.6h0M570.9 832.6h0M582.6 832.6h0M594.3 832.6h0M606.0 832.6h0M617.7 832.6h0M629.4 832.6h0M641.0 832.6h0M652.7 832.6h0M664.4 832.6h0M676.1 832.6h0M411.5 830.6h0M419.4 830.6h0M430.5 830.6h0M442.4 830.6h0M454.1 830.6h0M465.8 830.6h0M477.4 830.6h0M489.1 830.6h0M500.8 830.6h0M512.5 830.6h0M524.2 830.6h0M535.9 830.6h0M547.6 830.6h0M559.2 830.6h0M570.9 830.6h0M582.6 830.6h0M594.3 830.6h0M606.0 830.6h0M617.7 830.6h0M629.4 830.6h0M641.0 830.6h0M652.7 830.6h0M664.4 830.6h0M676.1 830.6h0M413.1 828.6h0M418.1 828.6h0M430.9 828.6h0M442.4 828.6h0M454.1 828.6h0M465.8 828.6h0M477.4 828.6h0M489.1 828.6h0M500.8 828.6h0M512.5 828.6h0M524.2 828.6h0M535.9 828.6h0M547.6 828.6h0M559.2 828.6h0M570.9 828.6h0M582.6 828.6h0M594.3 828.6h0M606.0 828.6h0M617.7 828.6h0M629.4 828.6h0M641.0 828.6h0M652.7 828.6h0M664.4 828.6h0M676.1 828.6h0M420.5 826.5h0M430.8 826.5h0M442.4 826.5h0M454.1 826.5h0M465.8 826.5h0M477.4 826.5h0M489.1 826.5h0M500.8 826.5h0M512.5 826.5h0M524.2 826.5h0M535.9 826.5h0M547.6 826.5h0M559.2 826.5h0M570.9 826.5h0M582.6 826.5h0M594.3 826.5h0M606.0 826.5h0M617.7 826.5h0M629.4 826.5h0M641.0 826.5h0M652.7 826.5h0M664.4 826.5h0M676.1 826.5h0M411.6 824.5h0M424.3 824.5h0M431.1 824.5h0M442.4 824.5h0M454.1 824.5h0M465.8 824.5h0M477.4 824.5h0M489.1 824.5h0M500.8 824.5h0M512.5 824.5h0M524.2 824.5h0M535.9 824.5h0M547.6 824.5h0M559.2 824.5h0M570.9 824.5h0M582.6 824.5h0M594.3 824.5h0M606.0 824.5h0M617.7 824.5h0M629.4 824.5h0M641.0 824.5h0M652.7 824.5h0M664.4 824.5h0M676.1 824.5h0M424.4 822.5h0M430.9 822.5h0M442.4 822.5h0M454.1 822.5h0M465.8 822.5h0M477.4 822.5h0M489.1 822.5h0M500.8 822.5h0M512.5 822.5h0M524.2 822.5h0M535.9 822.5h0M547.6 822.5h0M559.2 822.5h0M570.9 822.5h0M582.6 822.5h0M594.3 822.5h0M606.0 822.5h0M617.7 822.5h0M629.4 822.5h0M641.0 822.5h0M652.7 822.5h0M664.4 822.5h0M676.1 822.5h0M411.8 820.5h0M422.0 820.5h0M430.9 820.5h0M442.4 820.5h0M454.1 820.5h0M465.8 820.5h0M477.4 820.5h0M489.1 820.5h0M500.8 820.5h0M512.5 820.5h0M524.2 820.5h0M535.9 820.5h0M547.6 820.5h0M559.2 820.5h0M570.9 820.5h0M582.6 820.5h0M594.3 820.5h0M606.0 820.5h0M617.7 820.5h0M629.4 820.5h0M641.0 820.5h0M652.7 820.5h0M664.4 820.5h0M676.1 820.5h0M419.6 818.5h0M430.3 818.5h0M442.4 818.5h0M454.1 818.5h0M465.8 818.5h0M477.4 818.5h0M489.1 818.5h0M500.8 818.5h0M512.5 818.5h0M524.2 818.5h0M535.9 818.5h0M547.6 818.5h0M559.2 818.5h0M570.9 818.5h0M582.6 818.5h0M594.3 818.5h0M606.0 818.5h0M617.7 818.5h0M629.4 818.5h0M641.0 818.5h0M652.7 818.5h0M664.4 818.5h0M676.1 818.5h0M417.8 816.5h0M430.1 816.5h0M442.4 816.5h0M454.1 816.5h0M465.8 816.5h0M477.4 816.5h0M489.1 816.5h0M500.8 816.5h0M512.5 816.5h0M524.2 816.5h0M535.9 816.5h0M547.6 816.5h0M559.2 816.5h0M570.9 816.5h0M582.6 816.5h0M594.3 816.5h0M606.0 816.5h0M617.7 816.5h0M629.4 816.5h0M641.0 816.5h0M652.7 816.5h0M664.4 816.5h0M676.1 816.5h0M411.6 814.4h0M420.3 814.4h0M430.8 814.4h0M442.4 814.4h0M454.1 814.4h0M465.8 814.4h0M477.4 814.4h0M489.1 814.4h0M500.8 814.4h0M512.5 814.4h0M524.2 814.4h0M535.9 814.4h0M547.6 814.4h0M559.2 814.4h0M570.9 814.4h0M582.6 814.4h0M594.3 814.4h0M606.0 814.4h0M617.7 814.4h0M629.4 814.4h0M641.0 814.4h0M652.7 814.4h0M664.4 814.4h0M676.1 814.4h0M412.4 812.4h0M421.8 812.4h0M430.3 812.4h0M442.4 812.4h0M454.1 812.4h0M465.8 812.4h0M477.4 812.4h0M489.1 812.4h0M500.8 812.4h0M512.5 812.4h0M524.2 812.4h0M535.9 812.4h0M547.6 812.4h0M559.2 812.4h0M570.9 812.4h0M582.6 812.4h0M594.3 812.4h0M606.0 812.4h0M617.7 812.4h0M629.4 812.4h0M641.0 812.4h0M652.7 812.4h0M664.4 812.4h0M676.1 812.4h0M410.5 810.4h0M423.1 810.4h0M430.9 810.4h0M442.4 810.4h0M454.1 810.4h0M465.8 810.4h0M477.4 810.4h0M489.1 810.4h0M500.8 810.4h0M512.5 810.4h0M524.2 810.4h0M535.9 810.4h0M547.6 810.4h0M559.2 810.4h0M570.9 810.4h0M582.6 810.4h0M594.3 810.4h0M606.0 810.4h0M617.7 810.4h0M629.4 810.4h0M641.0 810.4h0M652.7 810.4h0M664.4 810.4h0M676.1 810.4h0M411.5 808.4h0M422.8 808.4h0M430.8 808.4h0M442.4 808.4h0M454.1 808.4h0M465.8 808.4h0M477.4 808.4h0M489.1 808.4h0M500.8 808.4h0M512.5 808.4h0M524.2 808.4h0M535.9 808.4h0M547.6 808.4h0M559.2 808.4h0M570.9 808.4h0M582.6 808.4h0M594.3 808.4h0M606.0 808.4h0M617.7 808.4h0M629.4 808.4h0M641.0 808.4h0M652.7 808.4h0M664.4 808.4h0M676.1 808.4h0M420.5 806.4h0M430.5 806.4h0M442.4 806.4h0M454.1 806.4h0M465.8 806.4h0M477.4 806.4h0M489.1 806.4h0M500.8 806.4h0M512.5 806.4h0M524.2 806.4h0M535.9 806.4h0M547.6 806.4h0M559.2 806.4h0M570.9 806.4h0M582.6 806.4h0M594.3 806.4h0M606.0 806.4h0M617.7 806.4h0M629.4 806.4h0M641.0 806.4h0M652.7 806.4h0M664.4 806.4h0M676.1 806.4h0M412.1 804.4h0M418.9 804.4h0M430.0 804.4h0M442.4 804.4h0M454.1 804.4h0M465.8 804.4h0M477.4 804.4h0M489.1 804.4h0M500.8 804.4h0M512.5 804.4h0M524.2 804.4h0M535.9 804.4h0M547.6 804.4h0M559.2 804.4h0M570.9 804.4h0M582.6 804.4h0M594.3 804.4h0M606.0 804.4h0M617.7 804.4h0M629.4 804.4h0M641.0 804.4h0M652.7 804.4h0M664.4 804.4h0M676.1 804.4h0M410.9 802.3h0M419.6 802.3h0M430.3 802.3h0M442.4 802.3h0M454.1 802.3h0M465.8 802.3h0M477.4 802.3h0M489.1 802.3h0M500.8 802.3h0M512.5 802.3h0M524.2 802.3h0M535.9 802.3h0M547.6 802.3h0M559.2 802.3h0M570.9 802.3h0M582.6 802.3h0M594.3 802.3h0M606.0 802.3h0M617.7 802.3h0M629.4 802.3h0M641.0 802.3h0M652.7 802.3h0M664.4 802.3h0M676.1 802.3h0M420.0 800.3h0M430.7 800.3h0M442.4 800.3h0M454.1 800.3h0M465.8 800.3h0M477.4 800.3h0M489.1 800.3h0M500.8 800.3h0M512.5 800.3h0M524.2 800.3h0M535.9 800.3h0M547.6 800.3h0M559.2 800.3h0M570.9 800.3h0M582.6 800.3h0M594.3 800.3h0M606.0 800.3h0M617.7 800.3h0M629.4 800.3h0M641.0 800.3h0M652.7 800.3h0M664.4 800.3h0M676.1 800.3h0M412.2 798.3h0M425.0 798.3h0M431.0 798.3h0M442.4 798.3h0M454.1 798.3h0M465.8 798.3h0M477.4 798.3h0M489.1 798.3h0M500.8 798.3h0M512.5 798.3h0M524.2 798.3h0M535.9 798.3h0M547.6 798.3h0M559.2 798.3h0M570.9 798.3h0M582.6 798.3h0M594.3 798.3h0M606.0 798.3h0M617.7 798.3h0M629.4 798.3h0M641.0 798.3h0M652.7 798.3h0M664.4 798.3h0M676.1 798.3h0M412.8 796.3h0M423.8 796.3h0M431.2 796.3h0M442.4 796.3h0M454.1 796.3h0M465.8 796.3h0M477.4 796.3h0M489.1 796.3h0M500.8 796.3h0M512.5 796.3h0M524.2 796.3h0M535.9 796.3h0M547.6 796.3h0M559.2 796.3h0M570.9 796.3h0M582.6 796.3h0M594.3 796.3h0M606.0 796.3h0M617.7 796.3h0M629.4 796.3h0M641.0 796.3h0M652.7 796.3h0M664.4 796.3h0M676.1 796.3h0M410.9 794.3h0M423.3 794.3h0M430.7 794.3h0M442.4 794.3h0M454.1 794.3h0M465.8 794.3h0M477.4 794.3h0M489.1 794.3h0M500.8 794.3h0M512.5 794.3h0M524.2 794.3h0M535.9 794.3h0M547.6 794.3h0M559.2 794.3h0M570.9 794.3h0M582.6 794.3h0M594.3 794.3h0M606.0 794.3h0M617.7 794.3h0M629.4 794.3h0M641.0 794.3h0M652.7 794.3h0M664.4 794.3h0M676.1 794.3h0M419.8 792.3h0M430.5 792.3h0M442.4 792.3h0M454.1 792.3h0M465.8 792.3h0M477.4 792.3h0M489.1 792.3h0M500.8 792.3h0M512.5 792.3h0M524.2 792.3h0M535.9 792.3h0M547.6 792.3h0M559.2 792.3h0M570.9 792.3h0M582.6 792.3h0M594.3 792.3h0M606.0 792.3h0M617.7 792.3h0M629.4 792.3h0M641.0 792.3h0M652.7 792.3h0M664.4 792.3h0M676.1 792.3h0M410.4 790.3h0M418.3 790.3h0M430.4 790.3h0M442.4 790.3h0M454.1 790.3h0M465.8 790.3h0M477.4 790.3h0M489.1 790.3h0M500.8 790.3h0M512.5 790.3h0M524.2 790.3h0M535.9 790.3h0M547.6 790.3h0M559.2 790.3h0M570.9 790.3h0M582.6 790.3h0M594.3 790.3h0M606.0 790.3h0M617.7 790.3h0M629.4 790.3h0M641.0 790.3h0M652.7 790.3h0M664.4 790.3h0M676.1 790.3h0M414.3 788.2h0M421.2 788.2h0M430.5 788.2h0M442.4 788.2h0M454.1 788.2h0M465.8 788.2h0M477.4 788.2h0M489.1 788.2h0M500.8 788.2h0M512.5 788.2h0M524.2 788.2h0M535.9 788.2h0M547.6 788.2h0M559.2 788.2h0M570.9 788.2h0M582.6 788.2h0M594.3 788.2h0M606.0 788.2h0M617.7 788.2h0M629.4 788.2h0M641.0 788.2h0M652.7 788.2h0M664.4 788.2h0M676.1 788.2h0M413.5 786.2h0M423.3 786.2h0M431.0 786.2h0M442.4 786.2h0M454.1 786.2h0M465.8 786.2h0M477.4 786.2h0M489.1 786.2h0M500.8 786.2h0M512.5 786.2h0M524.2 786.2h0M535.9 786.2h0M547.6 786.2h0M559.2 786.2h0M570.9 786.2h0M582.6 786.2h0M594.3 786.2h0M606.0 786.2h0M617.7 786.2h0M629.4 786.2h0M641.0 786.2h0M652.7 786.2h0M664.4 786.2h0M676.1 786.2h0M410.6 784.2h0M422.7 784.2h0M430.8 784.2h0M442.4 784.2h0M454.1 784.2h0M465.8 784.2h0M477.4 784.2h0M489.1 784.2h0M500.8 784.2h0M512.5 784.2h0M524.2 784.2h0M535.9 784.2h0M547.6 784.2h0M559.2 784.2h0M570.9 784.2h0M582.6 784.2h0M594.3 784.2h0M606.0 784.2h0M617.7 784.2h0M629.4 784.2h0M641.0 784.2h0M652.7 784.2h0M664.4 784.2h0M676.1 784.2h0M410.5 782.2h0M423.0 782.2h0M431.2 782.2h0M442.4 782.2h0M454.1 782.2h0M465.8 782.2h0M477.4 782.2h0M489.1 782.2h0M500.8 782.2h0M512.5 782.2h0M524.2 782.2h0M535.9 782.2h0M547.6 782.2h0M559.2 782.2h0M570.9 782.2h0M582.6 782.2h0M594.3 782.2h0M606.0 782.2h0M617.7 782.2h0M629.4 782.2h0M641.0 782.2h0M652.7 782.2h0M664.4 782.2h0M676.1 782.2h0M414.4 780.2h0M421.6 780.2h0M430.5 780.2h0M442.4 780.2h0M454.1 780.2h0M465.8 780.2h0M477.4 780.2h0M489.1 780.2h0M500.8 780.2h0M512.5 780.2h0M524.2 780.2h0M535.9 780.2h0M547.6 780.2h0M559.2 780.2h0M570.9 780.2h0M582.6 780.2h0M594.3 780.2h0M606.0 780.2h0M617.7 780.2h0M629.4 780.2h0M641.0 780.2h0M652.7 780.2h0M664.4 780.2h0M676.1 780.2h0M411.8 778.2h0M417.7 778.2h0M430.1 778.2h0M442.4 778.2h0M454.1 778.2h0M465.8 778.2h0M477.4 778.2h0M489.1 778.2h0M500.8 778.2h0M512.5 778.2h0M524.2 778.2h0M535.9 778.2h0M547.6 778.2h0M559.2 778.2h0M570.9 778.2h0M582.6 778.2h0M594.3 778.2h0M606.0 778.2h0M617.7 778.2h0M629.4 778.2h0M641.0 778.2h0M652.7 778.2h0M664.4 778.2h0M676.1 778.2h0M410.5 776.1h0M419.4 776.1h0M430.5 776.1h0M442.4 776.1h0M454.1 776.1h0M465.8 776.1h0M477.4 776.1h0M489.1 776.1h0M500.8 776.1h0M512.5 776.1h0M524.2 776.1h0M535.9 776.1h0M547.6 776.1h0M559.2 776.1h0M570.9 776.1h0M582.6 776.1h0M594.3 776.1h0M606.0 776.1h0M617.7 776.1h0M629.4 776.1h0M641.0 776.1h0M652.7 776.1h0M664.4 776.1h0M676.1 776.1h0M411.3 774.1h0M421.7 774.1h0M430.8 774.1h0M442.4 774.1h0M454.1 774.1h0M465.8 774.1h0M477.4 774.1h0M489.1 774.1h0M500.8 774.1h0M512.5 774.1h0M524.2 774.1h0M535.9 774.1h0M547.6 774.1h0M559.2 774.1h0M570.9 774.1h0M582.6 774.1h0M594.3 774.1h0M606.0 774.1h0M617.7 774.1h0M629.4 774.1h0M641.0 774.1h0M652.7 774.1h0M664.4 774.1h0M676.1 774.1h0M412.6 772.1h0M423.3 772.1h0M431.2 772.1h0M442.4 772.1h0M454.1 772.1h0M465.8 772.1h0M477.4 772.1h0M489.1 772.1h0M500.8 772.1h0M512.5 772.1h0M524.2 772.1h0M535.9 772.1h0M547.6 772.1h0M559.2 772.1h0M570.9 772.1h0M582.6 772.1h0M594.3 772.1h0M606.0 772.1h0M617.7 772.1h0M629.4 772.1h0M641.0 772.1h0M652.7 772.1h0M664.4 772.1h0M676.1 772.1h0M412.3 770.1h0M423.6 770.1h0M431.3 770.1h0M442.4 770.1h0M454.1 770.1h0M465.8 770.1h0M477.4 770.1h0M489.1 770.1h0M500.8 770.1h0M512.5 770.1h0M524.2 770.1h0M535.9 770.1h0M547.6 770.1h0M559.2 770.1h0M570.9 770.1h0M582.6 770.1h0M594.3 770.1h0M606.0 770.1h0M617.7 770.1h0M629.4 770.1h0M641.0 770.1h0M652.7 770.1h0M664.4 770.1h0M676.1 770.1h0M413.6 768.1h0M421.3 768.1h0M430.6 768.1h0M442.4 768.1h0M454.1 768.1h0M465.8 768.1h0M477.4 768.1h0M489.1 768.1h0M500.8 768.1h0M512.5 768.1h0M524.2 768.1h0M535.9 768.1h0M547.6 768.1h0M559.2 768.1h0M570.9 768.1h0M582.6 768.1h0M594.3 768.1h0M606.0 768.1h0M617.7 768.1h0M629.4 768.1h0M641.0 768.1h0M652.7 768.1h0M664.4 768.1h0M676.1 768.1h0M410.4 766.1h0M418.7 766.1h0M430.5 766.1h0M442.4 766.1h0M454.1 766.1h0M465.8 766.1h0M477.4 766.1h0M489.1 766.1h0M500.8 766.1h0M512.5 766.1h0M524.2 766.1h0M535.9 766.1h0M547.6 766.1h0M559.2 766.1h0M570.9 766.1h0M582.6 766.1h0M594.3 766.1h0M606.0 766.1h0M617.7 766.1h0M629.4 766.1h0M641.0 766.1h0M652.7 766.1h0M664.4 766.1h0M676.1 766.1h0M419.8 764.0h0M430.4 764.0h0M442.4 764.0h0M454.1 764.0h0M465.8 764.0h0M477.4 764.0h0M489.1 764.0h0M500.8 764.0h0M512.5 764.0h0M524.2 764.0h0M535.9 764.0h0M547.6 764.0h0M559.2 764.0h0M570.9 764.0h0M582.6 764.0h0M594.3 764.0h0M606.0 764.0h0M617.7 764.0h0M629.4 764.0h0M641.0 764.0h0M652.7 764.0h0M664.4 764.0h0M676.1 764.0h0M411.6 762.0h0M420.3 762.0h0M430.8 762.0h0M442.4 762.0h0M454.1 762.0h0M465.8 762.0h0M477.4 762.0h0M489.1 762.0h0M500.8 762.0h0M512.5 762.0h0M524.2 762.0h0M535.9 762.0h0M547.6 762.0h0M559.2 762.0h0M570.9 762.0h0M582.6 762.0h0M594.3 762.0h0M606.0 762.0h0M617.7 762.0h0M629.4 762.0h0M641.0 762.0h0M652.7 762.0h0M664.4 762.0h0M676.1 762.0h0M421.7 760.0h0M430.8 760.0h0M442.4 760.0h0M454.1 760.0h0M465.8 760.0h0M477.4 760.0h0M489.1 760.0h0M500.8 760.0h0M512.5 760.0h0M524.2 760.0h0M535.9 760.0h0M547.6 760.0h0M559.2 760.0h0M570.9 760.0h0M582.6 760.0h0M594.3 760.0h0M606.0 760.0h0M617.7 760.0h0M629.4 760.0h0M641.0 760.0h0M652.7 760.0h0M664.4 760.0h0M676.1 760.0h0M410.8 758.0h0M424.1 758.0h0M431.3 758.0h0M442.4 758.0h0M454.1 758.0h0M465.8 758.0h0M477.4 758.0h0M489.1 758.0h0M500.8 758.0h0M512.5 758.0h0M524.2 758.0h0M535.9 758.0h0M547.6 758.0h0M559.2 758.0h0M570.9 758.0h0M582.6 758.0h0M594.3 758.0h0M606.0 758.0h0M617.7 758.0h0M629.4 758.0h0M641.0 758.0h0M652.7 758.0h0M664.4 758.0h0M676.1 758.0h0M410.4 756.0h0M422.1 756.0h0M430.7 756.0h0M442.4 756.0h0M454.1 756.0h0M465.8 756.0h0M477.4 756.0h0M489.1 756.0h0M500.8 756.0h0M512.5 756.0h0M524.2 756.0h0M535.9 756.0h0M547.6 756.0h0M559.2 756.0h0M570.9 756.0h0M582.6 756.0h0M594.3 756.0h0M606.0 756.0h0M617.7 756.0h0M629.4 756.0h0M641.0 756.0h0M652.7 756.0h0M664.4 756.0h0M676.1 756.0h0M411.8 754.0h0M420.5 754.0h0M430.4 754.0h0M442.4 754.0h0M454.1 754.0h0M465.8 754.0h0M477.4 754.0h0M489.1 754.0h0M500.8 754.0h0M512.5 754.0h0M524.2 754.0h0M535.9 754.0h0M547.6 754.0h0M559.2 754.0h0M570.9 754.0h0M582.6 754.0h0M594.3 754.0h0M606.0 754.0h0M617.7 754.0h0M629.4 754.0h0M641.0 754.0h0M652.7 754.0h0M664.4 754.0h0M676.1 754.0h0M412.7 751.9h0M418.5 751.9h0M430.5 751.9h0M442.4 751.9h0M454.1 751.9h0M465.8 751.9h0M477.4 751.9h0M489.1 751.9h0M500.8 751.9h0M512.5 751.9h0M524.2 751.9h0M535.9 751.9h0M547.6 751.9h0M559.2 751.9h0M570.9 751.9h0M582.6 751.9h0M594.3 751.9h0M606.0 751.9h0M617.7 751.9h0M629.4 751.9h0M641.0 751.9h0M652.7 751.9h0M664.4 751.9h0M676.1 751.9h0M410.6 749.9h0M418.9 749.9h0M430.3 749.9h0M442.4 749.9h0M454.1 749.9h0M465.8 749.9h0M477.4 749.9h0M489.1 749.9h0M500.8 749.9h0M512.5 749.9h0M524.2 749.9h0M535.9 749.9h0M547.6 749.9h0M559.2 749.9h0M570.9 749.9h0M582.6 749.9h0M594.3 749.9h0M606.0 749.9h0M617.7 749.9h0M629.4 749.9h0M641.0 749.9h0M652.7 749.9h0M664.4 749.9h0M676.1 749.9h0M422.5 747.9h0M430.9 747.9h0M442.4 747.9h0M454.1 747.9h0M465.8 747.9h0M477.4 747.9h0M489.1 747.9h0M500.8 747.9h0M512.5 747.9h0M524.2 747.9h0M535.9 747.9h0M547.6 747.9h0M559.2 747.9h0M570.9 747.9h0M582.6 747.9h0M594.3 747.9h0M606.0 747.9h0M617.7 747.9h0M629.4 747.9h0M641.0 747.9h0M652.7 747.9h0M664.4 747.9h0M676.1 747.9h0M410.8 745.9h0M422.2 745.9h0M431.0 745.9h0M442.4 745.9h0M454.1 745.9h0M465.8 745.9h0M477.4 745.9h0M489.1 745.9h0M500.8 745.9h0M512.5 745.9h0M524.2 745.9h0M535.9 745.9h0M547.6 745.9h0M559.2 745.9h0M570.9 745.9h0M582.6 745.9h0M594.3 745.9h0M606.0 745.9h0M617.7 745.9h0M629.4 745.9h0M641.0 745.9h0M652.7 745.9h0M664.4 745.9h0M676.1 745.9h0M423.7 743.9h0M430.7 743.9h0M442.4 743.9h0M454.1 743.9h0M465.8 743.9h0M477.4 743.9h0M489.1 743.9h0M500.8 743.9h0M512.5 743.9h0M524.2 743.9h0M535.9 743.9h0M547.6 743.9h0M559.2 743.9h0M570.9 743.9h0M582.6 743.9h0M594.3 743.9h0M606.0 743.9h0M617.7 743.9h0M629.4 743.9h0M641.0 743.9h0M652.7 743.9h0M664.4 743.9h0M676.1 743.9h0M413.0 741.9h0M422.6 741.9h0M430.3 741.9h0M442.4 741.9h0M454.1 741.9h0M465.8 741.9h0M477.4 741.9h0M489.1 741.9h0M500.8 741.9h0M512.5 741.9h0M524.2 741.9h0M535.9 741.9h0M547.6 741.9h0M559.2 741.9h0M570.9 741.9h0M582.6 741.9h0M594.3 741.9h0M606.0 741.9h0M617.7 741.9h0M629.4 741.9h0M641.0 741.9h0M652.7 741.9h0M664.4 741.9h0M676.1 741.9h0M410.4 739.8h0M420.0 739.8h0M430.5 739.8h0M442.4 739.8h0M454.1 739.8h0M465.8 739.8h0M477.4 739.8h0M489.1 739.8h0M500.8 739.8h0M512.5 739.8h0M524.2 739.8h0M535.9 739.8h0M547.6 739.8h0M559.2 739.8h0M570.9 739.8h0M582.6 739.8h0M594.3 739.8h0M606.0 739.8h0M617.7 739.8h0M629.4 739.8h0M641.0 739.8h0M652.7 739.8h0M664.4 739.8h0M676.1 739.8h0M418.7 737.8h0M430.5 737.8h0M442.4 737.8h0M454.1 737.8h0M465.8 737.8h0M477.4 737.8h0M489.1 737.8h0M500.8 737.8h0M512.5 737.8h0M524.2 737.8h0M535.9 737.8h0M547.6 737.8h0M559.2 737.8h0M570.9 737.8h0M582.6 737.8h0M594.3 737.8h0M606.0 737.8h0M617.7 737.8h0M629.4 737.8h0M641.0 737.8h0M652.7 737.8h0M664.4 737.8h0M676.1 737.8h0M411.6 735.8h0M419.3 735.8h0M430.8 735.8h0M442.4 735.8h0M454.1 735.8h0M465.8 735.8h0M477.4 735.8h0M489.1 735.8h0M500.8 735.8h0M512.5 735.8h0M524.2 735.8h0M535.9 735.8h0M547.6 735.8h0M559.2 735.8h0M570.9 735.8h0M582.6 735.8h0M594.3 735.8h0M606.0 735.8h0M617.7 735.8h0M629.4 735.8h0M641.0 735.8h0M652.7 735.8h0M664.4 735.8h0M676.1 735.8h0M413.9 733.8h0M422.7 733.8h0M430.4 733.8h0M442.4 733.8h0M454.1 733.8h0M465.8 733.8h0M477.4 733.8h0M489.1 733.8h0M500.8 733.8h0M512.5 733.8h0M524.2 733.8h0M535.9 733.8h0M547.6 733.8h0M559.2 733.8h0M570.9 733.8h0M582.6 733.8h0M594.3 733.8h0M606.0 733.8h0M617.7 733.8h0M629.4 733.8h0M641.0 733.8h0M652.7 733.8h0M664.4 733.8h0M676.1 733.8h0M410.9 731.8h0M424.7 731.8h0M431.0 731.8h0M442.4 731.8h0M454.1 731.8h0M465.8 731.8h0M477.4 731.8h0M489.1 731.8h0M500.8 731.8h0M512.5 731.8h0M524.2 731.8h0M535.9 731.8h0M547.6 731.8h0M559.2 731.8h0M570.9 731.8h0M582.6 731.8h0M594.3 731.8h0M606.0 731.8h0M617.7 731.8h0M629.4 731.8h0M641.0 731.8h0M652.7 731.8h0M664.4 731.8h0M676.1 731.8h0M424.6 729.8h0M431.0 729.8h0M442.4 729.8h0M454.1 729.8h0M465.8 729.8h0M477.4 729.8h0M489.1 729.8h0M500.8 729.8h0M512.5 729.8h0M524.2 729.8h0M535.9 729.8h0M547.6 729.8h0M559.2 729.8h0M570.9 729.8h0M582.6 729.8h0M594.3 729.8h0M606.0 729.8h0M617.7 729.8h0M629.4 729.8h0M641.0 729.8h0M652.7 729.8h0M664.4 729.8h0M676.1 729.8h0M413.8 727.7h0M420.1 727.7h0M430.8 727.7h0M442.4 727.7h0M454.1 727.7h0M465.8 727.7h0M477.4 727.7h0M489.1 727.7h0M500.8 727.7h0M512.5 727.7h0M524.2 727.7h0M535.9 727.7h0M547.6 727.7h0M559.2 727.7h0M570.9 727.7h0M582.6 727.7h0M594.3 727.7h0M606.0 727.7h0M617.7 727.7h0M629.4 727.7h0M641.0 727.7h0M652.7 727.7h0M664.4 727.7h0M676.1 727.7h0M414.5 725.7h0M417.1 725.7h0M430.3 725.7h0M442.4 725.7h0M454.1 725.7h0M465.8 725.7h0M477.4 725.7h0M489.1 725.7h0M500.8 725.7h0M512.5 725.7h0M524.2 725.7h0M535.9 725.7h0M547.6 725.7h0M559.2 725.7h0M570.9 725.7h0M582.6 725.7h0M594.3 725.7h0M606.0 725.7h0M617.7 725.7h0M629.4 725.7h0M641.0 725.7h0M652.7 725.7h0M664.4 725.7h0M676.1 725.7h0M410.7 723.7h0M419.1 723.7h0M430.4 723.7h0M442.4 723.7h0M454.1 723.7h0M465.8 723.7h0M477.4 723.7h0M489.1 723.7h0M500.8 723.7h0M512.5 723.7h0M524.2 723.7h0M535.9 723.7h0M547.6 723.7h0M559.2 723.7h0M570.9 723.7h0M582.6 723.7h0M594.3 723.7h0M606.0 723.7h0M617.7 723.7h0M629.4 723.7h0M641.0 723.7h0M652.7 723.7h0M664.4 723.7h0M676.1 723.7h0M420.5 721.7h0M430.9 721.7h0M442.4 721.7h0M454.1 721.7h0M465.8 721.7h0M477.4 721.7h0M489.1 721.7h0M500.8 721.7h0M512.5 721.7h0M524.2 721.7h0M535.9 721.7h0M547.6 721.7h0M559.2 721.7h0M570.9 721.7h0M582.6 721.7h0M594.3 721.7h0M606.0 721.7h0M617.7 721.7h0M629.4 721.7h0M641.0 721.7h0M652.7 721.7h0M664.4 721.7h0M676.1 721.7h0M424.1 719.7h0M431.2 719.7h0M442.4 719.7h0M454.1 719.7h0M465.8 719.7h0M477.4 719.7h0M489.1 719.7h0M500.8 719.7h0M512.5 719.7h0M524.2 719.7h0M535.9 719.7h0M547.6 719.7h0M559.2 719.7h0M570.9 719.7h0M582.6 719.7h0M594.3 719.7h0M606.0 719.7h0M617.7 719.7h0M629.4 719.7h0M641.0 719.7h0M652.7 719.7h0M664.4 719.7h0M676.1 719.7h0M412.1 717.7h0M423.8 717.7h0M430.9 717.7h0M442.4 717.7h0M454.1 717.7h0M465.8 717.7h0M477.4 717.7h0M489.1 717.7h0M500.8 717.7h0M512.5 717.7h0M524.2 717.7h0M535.9 717.7h0M547.6 717.7h0M559.2 717.7h0M570.9 717.7h0M582.6 717.7h0M594.3 717.7h0M606.0 717.7h0M617.7 717.7h0M629.4 717.7h0M641.0 717.7h0M652.7 717.7h0M664.4 717.7h0M676.1 717.7h0M412.9 715.7h0M422.1 715.7h0M430.9 715.7h0M442.4 715.7h0M454.1 715.7h0M465.8 715.7h0M477.4 715.7h0M489.1 715.7h0M500.8 715.7h0M512.5 715.7h0M524.2 715.7h0M535.9 715.7h0M547.6 715.7h0M559.2 715.7h0M570.9 715.7h0M582.6 715.7h0M594.3 715.7h0M606.0 715.7h0M617.7 715.7h0M629.4 715.7h0M641.0 715.7h0M652.7 715.7h0M664.4 715.7h0M676.1 715.7h0M410.4 713.6h0M418.4 713.6h0M430.3 713.6h0M442.4 713.6h0M454.1 713.6h0M465.8 713.6h0M477.4 713.6h0M489.1 713.6h0M500.8 713.6h0M512.5 713.6h0M524.2 713.6h0M535.9 713.6h0M547.6 713.6h0M559.2 713.6h0M570.9 713.6h0M582.6 713.6h0M594.3 713.6h0M606.0 713.6h0M617.7 713.6h0M629.4 713.6h0M641.0 713.6h0M652.7 713.6h0M664.4 713.6h0M676.1 713.6h0M410.4 711.6h0M418.1 711.6h0M430.3 711.6h0M442.4 711.6h0M454.1 711.6h0M465.8 711.6h0M477.4 711.6h0M489.1 711.6h0M500.8 711.6h0M512.5 711.6h0M524.2 711.6h0M535.9 711.6h0M547.6 711.6h0M559.2 711.6h0M570.9 711.6h0M582.6 711.6h0M594.3 711.6h0M606.0 711.6h0M617.7 711.6h0M629.4 711.6h0M641.0 711.6h0M652.7 711.6h0M664.4 711.6h0M676.1 711.6h0M413.7 709.6h0M419.4 709.6h0M430.5 709.6h0M442.4 709.6h0M454.1 709.6h0M465.8 709.6h0M477.4 709.6h0M489.1 709.6h0M500.8 709.6h0M512.5 709.6h0M524.2 709.6h0M535.9 709.6h0M547.6 709.6h0M559.2 709.6h0M570.9 709.6h0M582.6 709.6h0M594.3 709.6h0M606.0 709.6h0M617.7 709.6h0M629.4 709.6h0M641.0 709.6h0M652.7 709.6h0M664.4 709.6h0M676.1 709.6h0M411.6 707.6h0M423.1 707.6h0M430.8 707.6h0M442.4 707.6h0M454.1 707.6h0M465.8 707.6h0M477.4 707.6h0M489.1 707.6h0M500.8 707.6h0M512.5 707.6h0M524.2 707.6h0M535.9 707.6h0M547.6 707.6h0M559.2 707.6h0M570.9 707.6h0M582.6 707.6h0M594.3 707.6h0M606.0 707.6h0M617.7 707.6h0M629.4 707.6h0M641.0 707.6h0M652.7 707.6h0M664.4 707.6h0M676.1 707.6h0M410.5 705.6h0M423.8 705.6h0M431.0 705.6h0M442.4 705.6h0M454.1 705.6h0M465.8 705.6h0M477.4 705.6h0M489.1 705.6h0M500.8 705.6h0M512.5 705.6h0M524.2 705.6h0M535.9 705.6h0M547.6 705.6h0M559.2 705.6h0M570.9 705.6h0M582.6 705.6h0M594.3 705.6h0M606.0 705.6h0M617.7 705.6h0M629.4 705.6h0M641.0 705.6h0M652.7 705.6h0M664.4 705.6h0M676.1 705.6h0M411.8 703.6h0M423.1 703.6h0M430.8 703.6h0M442.4 703.6h0M454.1 703.6h0M465.8 703.6h0M477.4 703.6h0M489.1 703.6h0M500.8 703.6h0M512.5 703.6h0M524.2 703.6h0M535.9 703.6h0M547.6 703.6h0M559.2 703.6h0M570.9 703.6h0M582.6 703.6h0M594.3 703.6h0M606.0 703.6h0M617.7 703.6h0M629.4 703.6h0M641.0 703.6h0M652.7 703.6h0M664.4 703.6h0M676.1 703.6h0M412.3 701.5h0M420.1 701.5h0M430.5 701.5h0M442.4 701.5h0M454.1 701.5h0M465.8 701.5h0M477.4 701.5h0M489.1 701.5h0M500.8 701.5h0M512.5 701.5h0M524.2 701.5h0M535.9 701.5h0M547.6 701.5h0M559.2 701.5h0M570.9 701.5h0M582.6 701.5h0M594.3 701.5h0M606.0 701.5h0M617.7 701.5h0M629.4 701.5h0M641.0 701.5h0M652.7 701.5h0M664.4 701.5h0M676.1 701.5h0M412.1 699.5h0M420.4 699.5h0M430.1 699.5h0M442.4 699.5h0M454.1 699.5h0M465.8 699.5h0M477.4 699.5h0M489.1 699.5h0M500.8 699.5h0M512.5 699.5h0M524.2 699.5h0M535.9 699.5h0M547.6 699.5h0M559.2 699.5h0M570.9 699.5h0M582.6 699.5h0M594.3 699.5h0M606.0 699.5h0M617.7 699.5h0M629.4 699.5h0M641.0 699.5h0M652.7 699.5h0M664.4 699.5h0M676.1 699.5h0M410.4 697.5h0M419.2 697.5h0M430.7 697.5h0M442.4 697.5h0M454.1 697.5h0M465.8 697.5h0M477.4 697.5h0M489.1 697.5h0M500.8 697.5h0M512.5 697.5h0M524.2 697.5h0M535.9 697.5h0M547.6 697.5h0M559.2 697.5h0M570.9 697.5h0M582.6 697.5h0M594.3 697.5h0M606.0 697.5h0M617.7 697.5h0M629.4 697.5h0M641.0 697.5h0M652.7 697.5h0M664.4 697.5h0M676.1 697.5h0M410.4 695.5h0M421.5 695.5h0M430.9 695.5h0M442.4 695.5h0M454.1 695.5h0M465.8 695.5h0M477.4 695.5h0M489.1 695.5h0M500.8 695.5h0M512.5 695.5h0M524.2 695.5h0M535.9 695.5h0M547.6 695.5h0M559.2 695.5h0M570.9 695.5h0M582.6 695.5h0M594.3 695.5h0M606.0 695.5h0M617.7 695.5h0M629.4 695.5h0M641.0 695.5h0M652.7 695.5h0M664.4 695.5h0M676.1 695.5h0M411.1 693.5h0M424.2 693.5h0M430.7 693.5h0M442.4 693.5h0M454.1 693.5h0M465.8 693.5h0M477.4 693.5h0M489.1 693.5h0M500.8 693.5h0M512.5 693.5h0M524.2 693.5h0M535.9 693.5h0M547.6 693.5h0M559.2 693.5h0M570.9 693.5h0M582.6 693.5h0M594.3 693.5h0M606.0 693.5h0M617.7 693.5h0M629.4 693.5h0M641.0 693.5h0M652.7 693.5h0M664.4 693.5h0M676.1 693.5h0M412.3 691.5h0M424.3 691.5h0M430.7 691.5h0M442.4 691.5h0M454.1 691.5h0M465.8 691.5h0M477.4 691.5h0M489.1 691.5h0M500.8 691.5h0M512.5 691.5h0M524.2 691.5h0M535.9 691.5h0M547.6 691.5h0M559.2 691.5h0M570.9 691.5h0M582.6 691.5h0M594.3 691.5h0M606.0 691.5h0M617.7 691.5h0M629.4 691.5h0M641.0 691.5h0M652.7 691.5h0M664.4 691.5h0M676.1 691.5h0M411.9 689.4h0M421.8 689.4h0M430.9 689.4h0M442.4 689.4h0M454.1 689.4h0M465.8 689.4h0M477.4 689.4h0M489.1 689.4h0M500.8 689.4h0M512.5 689.4h0M524.2 689.4h0M535.9 689.4h0M547.6 689.4h0M559.2 689.4h0M570.9 689.4h0M582.6 689.4h0M594.3 689.4h0M606.0 689.4h0M617.7 689.4h0M629.4 689.4h0M641.0 689.4h0M652.7 689.4h0M664.4 689.4h0M676.1 689.4h0M411.8 687.4h0M419.5 687.4h0M430.7 687.4h0M442.4 687.4h0M454.1 687.4h0M465.8 687.4h0M477.4 687.4h0M489.1 687.4h0M500.8 687.4h0M512.5 687.4h0M524.2 687.4h0M535.9 687.4h0M547.6 687.4h0M559.2 687.4h0M570.9 687.4h0M582.6 687.4h0M594.3 687.4h0M606.0 687.4h0M617.7 687.4h0M629.4 687.4h0M641.0 687.4h0M652.7 687.4h0M664.4 687.4h0M676.1 687.4h0M412.0 685.4h0M417.3 685.4h0M430.3 685.4h0M442.4 685.4h0M454.1 685.4h0M465.8 685.4h0M477.4 685.4h0M489.1 685.4h0M500.8 685.4h0M512.5 685.4h0M524.2 685.4h0M535.9 685.4h0M547.6 685.4h0M559.2 685.4h0M570.9 685.4h0M582.6 685.4h0M594.3 685.4h0M606.0 685.4h0M617.7 685.4h0M629.4 685.4h0M641.0 685.4h0M652.7 685.4h0M664.4 685.4h0M676.1 685.4h0M412.5 683.4h0M419.2 683.4h0M430.4 683.4h0M442.4 683.4h0M454.1 683.4h0M465.8 683.4h0M477.4 683.4h0M489.1 683.4h0M500.8 683.4h0M512.5 683.4h0M524.2 683.4h0M535.9 683.4h0M547.6 683.4h0M559.2 683.4h0M570.9 683.4h0M582.6 683.4h0M594.3 683.4h0M606.0 683.4h0M617.7 683.4h0M629.4 683.4h0M641.0 683.4h0M652.7 683.4h0M664.4 683.4h0M676.1 683.4h0M410.6 681.4h0M421.8 681.4h0M430.9 681.4h0M442.4 681.4h0M454.1 681.4h0M465.8 681.4h0M477.4 681.4h0M489.1 681.4h0M500.8 681.4h0M512.5 681.4h0M524.2 681.4h0M535.9 681.4h0M547.6 681.4h0M559.2 681.4h0M570.9 681.4h0M582.6 681.4h0M594.3 681.4h0M606.0 681.4h0M617.7 681.4h0M629.4 681.4h0M641.0 681.4h0M652.7 681.4h0M664.4 681.4h0M676.1 681.4h0M410.4 679.4h0M423.9 679.4h0M431.0 679.4h0M442.4 679.4h0M454.1 679.4h0M465.8 679.4h0M477.4 679.4h0M489.1 679.4h0M500.8 679.4h0M512.5 679.4h0M524.2 679.4h0M535.9 679.4h0M547.6 679.4h0M559.2 679.4h0M570.9 679.4h0M582.6 679.4h0M594.3 679.4h0M606.0 679.4h0M617.7 679.4h0M629.4 679.4h0M641.0 679.4h0M652.7 679.4h0M664.4 679.4h0M676.1 679.4h0M410.4 677.3h0M423.3 677.3h0M430.9 677.3h0M442.4 677.3h0M454.1 677.3h0M465.8 677.3h0M477.4 677.3h0M489.1 677.3h0M500.8 677.3h0M512.5 677.3h0M524.2 677.3h0M535.9 677.3h0M547.6 677.3h0M559.2 677.3h0M570.9 677.3h0M582.6 677.3h0M594.3 677.3h0M606.0 677.3h0M617.7 677.3h0M629.4 677.3h0M641.0 677.3h0M652.7 677.3h0M664.4 677.3h0M676.1 677.3h0M412.0 675.3h0M421.4 675.3h0M430.5 675.3h0M442.4 675.3h0M454.1 675.3h0M465.8 675.3h0M477.4 675.3h0M489.1 675.3h0M500.8 675.3h0M512.5 675.3h0M524.2 675.3h0M535.9 675.3h0M547.6 675.3h0M559.2 675.3h0M570.9 675.3h0M582.6 675.3h0M594.3 675.3h0M606.0 675.3h0M617.7 675.3h0M629.4 675.3h0M641.0 675.3h0M652.7 675.3h0M664.4 675.3h0M676.1 675.3h0M412.3 673.3h0M418.2 673.3h0M430.4 673.3h0M442.4 673.3h0M454.1 673.3h0M465.8 673.3h0M477.4 673.3h0M489.1 673.3h0M500.8 673.3h0M512.5 673.3h0M524.2 673.3h0M535.9 673.3h0M547.6 673.3h0M559.2 673.3h0M570.9 673.3h0M582.6 673.3h0M594.3 673.3h0M606.0 673.3h0M617.7 673.3h0M629.4 673.3h0M641.0 673.3h0M652.7 673.3h0M664.4 673.3h0M676.1 673.3h0M411.2 671.3h0M418.6 671.3h0M430.7 671.3h0M442.4 671.3h0M454.1 671.3h0M465.8 671.3h0M477.4 671.3h0M489.1 671.3h0M500.8 671.3h0M512.5 671.3h0M524.2 671.3h0M535.9 671.3h0M547.6 671.3h0M559.2 671.3h0M570.9 671.3h0M582.6 671.3h0M594.3 671.3h0M606.0 671.3h0M617.7 671.3h0M629.4 671.3h0M641.0 671.3h0M652.7 671.3h0M664.4 671.3h0M676.1 671.3h0M410.8 669.3h0M422.1 669.3h0M430.7 669.3h0M442.4 669.3h0M454.1 669.3h0M465.8 669.3h0M477.4 669.3h0M489.1 669.3h0M500.8 669.3h0M512.5 669.3h0M524.2 669.3h0M535.9 669.3h0M547.6 669.3h0M559.2 669.3h0M570.9 669.3h0M582.6 669.3h0M594.3 669.3h0M606.0 669.3h0M617.7 669.3h0M629.4 669.3h0M641.0 669.3h0M652.7 669.3h0M664.4 669.3h0M676.1 669.3h0M411.6 667.3h0M423.4 667.3h0M431.1 667.3h0M442.4 667.3h0M454.1 667.3h0M465.8 667.3h0M477.4 667.3h0M489.1 667.3h0M500.8 667.3h0M512.5 667.3h0M524.2 667.3h0M535.9 667.3h0M547.6 667.3h0M559.2 667.3h0M570.9 667.3h0M582.6 667.3h0M594.3 667.3h0M606.0 667.3h0M617.7 667.3h0M629.4 667.3h0M641.0 667.3h0M652.7 667.3h0M664.4 667.3h0M676.1 667.3h0M413.2 665.2h0M422.7 665.2h0M430.8 665.2h0M442.4 665.2h0M454.1 665.2h0M465.8 665.2h0M477.4 665.2h0M489.1 665.2h0M500.8 665.2h0M512.5 665.2h0M524.2 665.2h0M535.9 665.2h0M547.6 665.2h0M559.2 665.2h0M570.9 665.2h0M582.6 665.2h0M594.3 665.2h0M606.0 665.2h0M617.7 665.2h0M629.4 665.2h0M641.0 665.2h0M652.7 665.2h0M664.4 665.2h0M676.1 665.2h0M411.7 663.2h0M422.3 663.2h0M431.3 663.2h0M442.4 663.2h0M454.1 663.2h0M465.8 663.2h0M477.4 663.2h0M489.1 663.2h0M500.8 663.2h0M512.5 663.2h0M524.2 663.2h0M535.9 663.2h0M547.6 663.2h0M559.2 663.2h0M570.9 663.2h0M582.6 663.2h0M594.3 663.2h0M606.0 663.2h0M617.7 663.2h0M629.4 663.2h0M641.0 663.2h0M652.7 663.2h0M664.4 663.2h0M676.1 663.2h0M419.5 661.2h0M430.6 661.2h0M442.4 661.2h0M454.1 661.2h0M465.8 661.2h0M477.4 661.2h0M489.1 661.2h0M500.8 661.2h0M512.5 661.2h0M524.2 661.2h0M535.9 661.2h0M547.6 661.2h0M559.2 661.2h0M570.9 661.2h0M582.6 661.2h0M594.3 661.2h0M606.0 661.2h0M617.7 661.2h0M629.4 661.2h0M641.0 661.2h0M652.7 661.2h0M664.4 661.2h0M676.1 661.2h0M412.5 659.2h0M418.5 659.2h0M430.3 659.2h0M442.4 659.2h0M454.1 659.2h0M465.8 659.2h0M477.4 659.2h0M489.1 659.2h0M500.8 659.2h0M512.5 659.2h0M524.2 659.2h0M535.9 659.2h0M547.6 659.2h0M559.2 659.2h0M570.9 659.2h0M582.6 659.2h0M594.3 659.2h0M606.0 659.2h0M617.7 659.2h0M629.4 659.2h0M641.0 659.2h0M652.7 659.2h0M664.4 659.2h0M676.1 659.2h0M426.5 694.4h0M437.8 694.4h0M447.0 694.4h0M432.6 757.7h0M441.6 757.7h0M425.5 806.6h0M435.7 806.6h0" stroke="#3656a8" stroke-width="2.4" stroke-linecap="round" fill="none"/><path d="M408.6 658.4 V861.3" fill="none" stroke="#111" stroke-width="2.8"/><path d="M407.20000000000005 861.3 H679.8" fill="none" stroke="#111" stroke-width="2.3"/><line x1="407.6" y1="658.6999999999999" x2="411.1" y2="658.6999999999999" stroke="#111" stroke-width="1.4"/></svg></body></html>
